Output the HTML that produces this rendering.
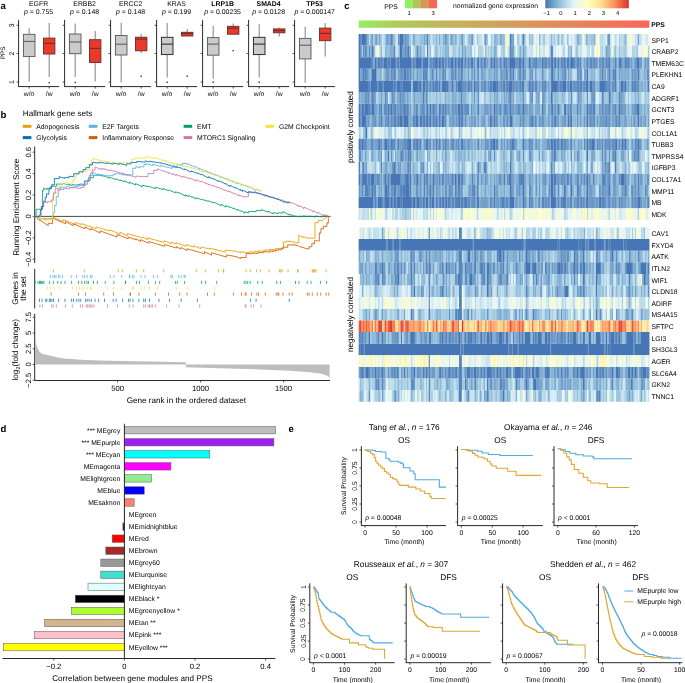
<!DOCTYPE html>
<html><head><meta charset="utf-8"><style>html,body{margin:0;padding:0;background:#fff;width:685px;height:683px;overflow:hidden}svg{display:block;will-change:transform}text{font-family:"Liberation Sans",sans-serif;text-rendering:geometricPrecision}</style></head><body>
<svg width="685" height="683" viewBox="0 0 685 683">
<rect width="685" height="683" fill="#fff"/>
<text x="0.40" y="8.90" font-size="9.6" text-anchor="start" font-weight="bold" fill="#000">a</text>
<text x="38.60" y="6.20" font-size="6.9" text-anchor="middle" fill="#000">EGFR</text>
<text x="38.60" y="14.0" font-size="6.9" text-anchor="middle" fill="#000"><tspan font-style="italic">p</tspan> = 0.755</text>
<line x1="18.60" y1="19.80" x2="18.60" y2="86.60" stroke="#2a2a2a" stroke-width="1.0"/>
<line x1="18.10" y1="86.60" x2="59.10" y2="86.60" stroke="#2a2a2a" stroke-width="1.0"/>
<line x1="16.60" y1="25.30" x2="18.60" y2="25.30" stroke="#2a2a2a" stroke-width="0.8"/>
<line x1="16.60" y1="53.50" x2="18.60" y2="53.50" stroke="#2a2a2a" stroke-width="0.8"/>
<line x1="16.60" y1="82.00" x2="18.60" y2="82.00" stroke="#2a2a2a" stroke-width="0.8"/>
<line x1="29.10" y1="86.60" x2="29.10" y2="88.60" stroke="#2a2a2a" stroke-width="0.8"/>
<line x1="49.20" y1="86.60" x2="49.20" y2="88.60" stroke="#2a2a2a" stroke-width="0.8"/>
<text x="29.10" y="95.90" font-size="6.8" text-anchor="middle" fill="#000">w/o</text>
<text x="49.20" y="95.90" font-size="6.8" text-anchor="middle" fill="#000">/w</text>
<line x1="29.20" y1="28.20" x2="29.20" y2="34.30" stroke="#929292" stroke-width="1.15"/>
<line x1="29.20" y1="56.60" x2="29.20" y2="81.80" stroke="#929292" stroke-width="1.15"/>
<rect x="23.40" y="34.30" width="11.60" height="22.30" fill="#cbcbcd" stroke="#555" stroke-width="0.9"/>
<line x1="23.40" y1="41.40" x2="35.00" y2="41.40" stroke="#555" stroke-width="1.0"/>
<line x1="49.20" y1="23.00" x2="49.20" y2="38.10" stroke="#929292" stroke-width="1.15"/>
<line x1="49.20" y1="54.00" x2="49.20" y2="77.00" stroke="#929292" stroke-width="1.15"/>
<rect x="43.50" y="38.10" width="11.40" height="15.90" fill="#e8392b" stroke="#6b2a25" stroke-width="0.9"/>
<line x1="43.50" y1="43.30" x2="54.90" y2="43.30" stroke="#6b2a25" stroke-width="1.0"/>
<rect x="48.50" y="82.00" width="1.40" height="1.40" fill="#333"/>
<text x="84.60" y="6.20" font-size="6.9" text-anchor="middle" fill="#000">ERBB2</text>
<text x="84.60" y="14.0" font-size="6.9" text-anchor="middle" fill="#000"><tspan font-style="italic">p</tspan> = 0.148</text>
<line x1="64.60" y1="19.80" x2="64.60" y2="86.60" stroke="#2a2a2a" stroke-width="1.0"/>
<line x1="64.10" y1="86.60" x2="105.10" y2="86.60" stroke="#2a2a2a" stroke-width="1.0"/>
<line x1="62.60" y1="25.30" x2="64.60" y2="25.30" stroke="#2a2a2a" stroke-width="0.8"/>
<line x1="62.60" y1="53.50" x2="64.60" y2="53.50" stroke="#2a2a2a" stroke-width="0.8"/>
<line x1="62.60" y1="82.00" x2="64.60" y2="82.00" stroke="#2a2a2a" stroke-width="0.8"/>
<line x1="75.10" y1="86.60" x2="75.10" y2="88.60" stroke="#2a2a2a" stroke-width="0.8"/>
<line x1="95.20" y1="86.60" x2="95.20" y2="88.60" stroke="#2a2a2a" stroke-width="0.8"/>
<text x="75.10" y="95.90" font-size="6.8" text-anchor="middle" fill="#000">w/o</text>
<text x="95.20" y="95.90" font-size="6.8" text-anchor="middle" fill="#000">/w</text>
<line x1="75.20" y1="23.60" x2="75.20" y2="34.00" stroke="#929292" stroke-width="1.15"/>
<line x1="75.20" y1="53.70" x2="75.20" y2="77.00" stroke="#929292" stroke-width="1.15"/>
<rect x="69.40" y="34.00" width="11.60" height="19.70" fill="#cbcbcd" stroke="#555" stroke-width="0.9"/>
<line x1="69.40" y1="42.00" x2="81.00" y2="42.00" stroke="#555" stroke-width="1.0"/>
<rect x="74.50" y="81.70" width="1.40" height="1.40" fill="#333"/>
<line x1="95.20" y1="31.00" x2="95.20" y2="39.70" stroke="#929292" stroke-width="1.15"/>
<line x1="95.20" y1="62.50" x2="95.20" y2="81.40" stroke="#929292" stroke-width="1.15"/>
<rect x="89.50" y="39.70" width="11.40" height="22.80" fill="#e8392b" stroke="#6b2a25" stroke-width="0.9"/>
<line x1="89.50" y1="48.40" x2="100.90" y2="48.40" stroke="#6b2a25" stroke-width="1.0"/>
<text x="130.60" y="6.20" font-size="6.9" text-anchor="middle" fill="#000">ERCC2</text>
<text x="130.60" y="14.0" font-size="6.9" text-anchor="middle" fill="#000"><tspan font-style="italic">p</tspan> = 0.148</text>
<line x1="110.60" y1="19.80" x2="110.60" y2="86.60" stroke="#2a2a2a" stroke-width="1.0"/>
<line x1="110.10" y1="86.60" x2="151.10" y2="86.60" stroke="#2a2a2a" stroke-width="1.0"/>
<line x1="108.60" y1="25.30" x2="110.60" y2="25.30" stroke="#2a2a2a" stroke-width="0.8"/>
<line x1="108.60" y1="53.50" x2="110.60" y2="53.50" stroke="#2a2a2a" stroke-width="0.8"/>
<line x1="108.60" y1="82.00" x2="110.60" y2="82.00" stroke="#2a2a2a" stroke-width="0.8"/>
<line x1="121.10" y1="86.60" x2="121.10" y2="88.60" stroke="#2a2a2a" stroke-width="0.8"/>
<line x1="141.20" y1="86.60" x2="141.20" y2="88.60" stroke="#2a2a2a" stroke-width="0.8"/>
<text x="121.10" y="95.90" font-size="6.8" text-anchor="middle" fill="#000">w/o</text>
<text x="141.20" y="95.90" font-size="6.8" text-anchor="middle" fill="#000">/w</text>
<line x1="121.20" y1="22.80" x2="121.20" y2="35.50" stroke="#929292" stroke-width="1.15"/>
<line x1="121.20" y1="55.00" x2="121.20" y2="82.40" stroke="#929292" stroke-width="1.15"/>
<rect x="115.40" y="35.50" width="11.60" height="19.50" fill="#cbcbcd" stroke="#555" stroke-width="0.9"/>
<line x1="115.40" y1="44.20" x2="127.00" y2="44.20" stroke="#555" stroke-width="1.0"/>
<line x1="141.20" y1="34.00" x2="141.20" y2="37.20" stroke="#929292" stroke-width="1.15"/>
<line x1="141.20" y1="50.80" x2="141.20" y2="53.30" stroke="#929292" stroke-width="1.15"/>
<rect x="135.50" y="37.20" width="11.40" height="13.60" fill="#e8392b" stroke="#6b2a25" stroke-width="0.9"/>
<line x1="135.50" y1="39.10" x2="146.90" y2="39.10" stroke="#6b2a25" stroke-width="1.0"/>
<rect x="140.50" y="75.60" width="1.40" height="1.40" fill="#333"/>
<text x="176.60" y="6.20" font-size="6.9" text-anchor="middle" fill="#000">KRAS</text>
<text x="176.60" y="14.0" font-size="6.9" text-anchor="middle" fill="#000"><tspan font-style="italic">p</tspan> = 0.199</text>
<line x1="156.60" y1="19.80" x2="156.60" y2="86.60" stroke="#2a2a2a" stroke-width="1.0"/>
<line x1="156.10" y1="86.60" x2="197.10" y2="86.60" stroke="#2a2a2a" stroke-width="1.0"/>
<line x1="154.60" y1="25.30" x2="156.60" y2="25.30" stroke="#2a2a2a" stroke-width="0.8"/>
<line x1="154.60" y1="53.50" x2="156.60" y2="53.50" stroke="#2a2a2a" stroke-width="0.8"/>
<line x1="154.60" y1="82.00" x2="156.60" y2="82.00" stroke="#2a2a2a" stroke-width="0.8"/>
<line x1="167.10" y1="86.60" x2="167.10" y2="88.60" stroke="#2a2a2a" stroke-width="0.8"/>
<line x1="187.20" y1="86.60" x2="187.20" y2="88.60" stroke="#2a2a2a" stroke-width="0.8"/>
<text x="167.10" y="95.90" font-size="6.8" text-anchor="middle" fill="#000">w/o</text>
<text x="187.20" y="95.90" font-size="6.8" text-anchor="middle" fill="#000">/w</text>
<line x1="167.20" y1="23.00" x2="167.20" y2="37.30" stroke="#929292" stroke-width="1.15"/>
<line x1="167.20" y1="54.60" x2="167.20" y2="77.50" stroke="#929292" stroke-width="1.15"/>
<rect x="161.40" y="37.30" width="11.60" height="17.30" fill="#cbcbcd" stroke="#1e1e1e" stroke-width="0.9"/>
<line x1="161.40" y1="44.10" x2="173.00" y2="44.10" stroke="#1e1e1e" stroke-width="1.0"/>
<rect x="166.50" y="81.50" width="1.40" height="1.40" fill="#333"/>
<line x1="187.20" y1="28.90" x2="187.20" y2="32.30" stroke="#929292" stroke-width="1.15"/>
<line x1="187.20" y1="36.00" x2="187.20" y2="36.00" stroke="#929292" stroke-width="1.15"/>
<rect x="181.50" y="32.30" width="11.40" height="3.70" fill="#e8392b" stroke="#6b2a25" stroke-width="0.9"/>
<line x1="181.50" y1="33.60" x2="192.90" y2="33.60" stroke="#6b2a25" stroke-width="1.0"/>
<rect x="186.50" y="75.50" width="1.40" height="1.40" fill="#333"/>
<text x="222.60" y="6.20" font-size="6.9" text-anchor="middle" font-weight="bold" fill="#000">LRP1B</text>
<text x="222.60" y="14.0" font-size="6.9" text-anchor="middle" fill="#000"><tspan font-style="italic">p</tspan> = 0.00235</text>
<line x1="202.60" y1="19.80" x2="202.60" y2="86.60" stroke="#2a2a2a" stroke-width="1.0"/>
<line x1="202.10" y1="86.60" x2="243.10" y2="86.60" stroke="#2a2a2a" stroke-width="1.0"/>
<line x1="200.60" y1="25.30" x2="202.60" y2="25.30" stroke="#2a2a2a" stroke-width="0.8"/>
<line x1="200.60" y1="53.50" x2="202.60" y2="53.50" stroke="#2a2a2a" stroke-width="0.8"/>
<line x1="200.60" y1="82.00" x2="202.60" y2="82.00" stroke="#2a2a2a" stroke-width="0.8"/>
<line x1="213.10" y1="86.60" x2="213.10" y2="88.60" stroke="#2a2a2a" stroke-width="0.8"/>
<line x1="233.20" y1="86.60" x2="233.20" y2="88.60" stroke="#2a2a2a" stroke-width="0.8"/>
<text x="213.10" y="95.90" font-size="6.8" text-anchor="middle" fill="#000">w/o</text>
<text x="233.20" y="95.90" font-size="6.8" text-anchor="middle" fill="#000">/w</text>
<line x1="213.20" y1="25.70" x2="213.20" y2="37.60" stroke="#929292" stroke-width="1.15"/>
<line x1="213.20" y1="55.20" x2="213.20" y2="78.80" stroke="#929292" stroke-width="1.15"/>
<rect x="207.40" y="37.60" width="11.60" height="17.60" fill="#cbcbcd" stroke="#555" stroke-width="0.9"/>
<line x1="207.40" y1="44.10" x2="219.00" y2="44.10" stroke="#555" stroke-width="1.0"/>
<rect x="212.50" y="81.50" width="1.40" height="1.40" fill="#333"/>
<line x1="233.20" y1="23.60" x2="233.20" y2="26.30" stroke="#929292" stroke-width="1.15"/>
<line x1="233.20" y1="34.20" x2="233.20" y2="34.20" stroke="#929292" stroke-width="1.15"/>
<rect x="227.50" y="26.30" width="11.40" height="7.90" fill="#e8392b" stroke="#6b2a25" stroke-width="0.9"/>
<line x1="227.50" y1="28.20" x2="238.90" y2="28.20" stroke="#6b2a25" stroke-width="1.0"/>
<rect x="232.50" y="50.00" width="1.40" height="1.40" fill="#333"/>
<text x="268.60" y="6.20" font-size="6.9" text-anchor="middle" font-weight="bold" fill="#000">SMAD4</text>
<text x="268.60" y="14.0" font-size="6.9" text-anchor="middle" fill="#000"><tspan font-style="italic">p</tspan> = 0.0128</text>
<line x1="248.60" y1="19.80" x2="248.60" y2="86.60" stroke="#2a2a2a" stroke-width="1.0"/>
<line x1="248.10" y1="86.60" x2="289.10" y2="86.60" stroke="#2a2a2a" stroke-width="1.0"/>
<line x1="246.60" y1="25.30" x2="248.60" y2="25.30" stroke="#2a2a2a" stroke-width="0.8"/>
<line x1="246.60" y1="53.50" x2="248.60" y2="53.50" stroke="#2a2a2a" stroke-width="0.8"/>
<line x1="246.60" y1="82.00" x2="248.60" y2="82.00" stroke="#2a2a2a" stroke-width="0.8"/>
<line x1="259.10" y1="86.60" x2="259.10" y2="88.60" stroke="#2a2a2a" stroke-width="0.8"/>
<line x1="279.20" y1="86.60" x2="279.20" y2="88.60" stroke="#2a2a2a" stroke-width="0.8"/>
<text x="259.10" y="95.90" font-size="6.8" text-anchor="middle" fill="#000">w/o</text>
<text x="279.20" y="95.90" font-size="6.8" text-anchor="middle" fill="#000">/w</text>
<line x1="259.20" y1="24.20" x2="259.20" y2="37.30" stroke="#929292" stroke-width="1.15"/>
<line x1="259.20" y1="54.60" x2="259.20" y2="77.50" stroke="#929292" stroke-width="1.15"/>
<rect x="253.40" y="37.30" width="11.60" height="17.30" fill="#cbcbcd" stroke="#1e1e1e" stroke-width="0.9"/>
<line x1="253.40" y1="44.10" x2="265.00" y2="44.10" stroke="#1e1e1e" stroke-width="1.0"/>
<rect x="258.50" y="81.50" width="1.40" height="1.40" fill="#333"/>
<line x1="279.20" y1="27.60" x2="279.20" y2="28.90" stroke="#929292" stroke-width="1.15"/>
<line x1="279.20" y1="32.80" x2="279.20" y2="36.80" stroke="#929292" stroke-width="1.15"/>
<rect x="273.50" y="28.90" width="11.40" height="3.90" fill="#e8392b" stroke="#6b2a25" stroke-width="0.9"/>
<line x1="273.50" y1="30.70" x2="284.90" y2="30.70" stroke="#6b2a25" stroke-width="1.0"/>
<text x="314.60" y="6.20" font-size="6.9" text-anchor="middle" font-weight="bold" fill="#000">TP53</text>
<text x="314.60" y="14.0" font-size="6.9" text-anchor="middle" fill="#000"><tspan font-style="italic">p</tspan> = 0.000147</text>
<line x1="294.60" y1="19.80" x2="294.60" y2="86.60" stroke="#2a2a2a" stroke-width="1.0"/>
<line x1="294.10" y1="86.60" x2="335.10" y2="86.60" stroke="#2a2a2a" stroke-width="1.0"/>
<line x1="292.60" y1="25.30" x2="294.60" y2="25.30" stroke="#2a2a2a" stroke-width="0.8"/>
<line x1="292.60" y1="53.50" x2="294.60" y2="53.50" stroke="#2a2a2a" stroke-width="0.8"/>
<line x1="292.60" y1="82.00" x2="294.60" y2="82.00" stroke="#2a2a2a" stroke-width="0.8"/>
<line x1="305.10" y1="86.60" x2="305.10" y2="88.60" stroke="#2a2a2a" stroke-width="0.8"/>
<line x1="325.20" y1="86.60" x2="325.20" y2="88.60" stroke="#2a2a2a" stroke-width="0.8"/>
<text x="305.10" y="95.90" font-size="6.8" text-anchor="middle" fill="#000">w/o</text>
<text x="325.20" y="95.90" font-size="6.8" text-anchor="middle" fill="#000">/w</text>
<line x1="305.20" y1="26.80" x2="305.20" y2="38.40" stroke="#929292" stroke-width="1.15"/>
<line x1="305.20" y1="58.90" x2="305.20" y2="82.80" stroke="#929292" stroke-width="1.15"/>
<rect x="299.40" y="38.40" width="11.60" height="20.50" fill="#cbcbcd" stroke="#555" stroke-width="0.9"/>
<line x1="299.40" y1="45.20" x2="311.00" y2="45.20" stroke="#555" stroke-width="1.0"/>
<line x1="325.20" y1="23.10" x2="325.20" y2="28.10" stroke="#929292" stroke-width="1.15"/>
<line x1="325.20" y1="40.70" x2="325.20" y2="56.50" stroke="#929292" stroke-width="1.15"/>
<rect x="319.50" y="28.10" width="11.40" height="12.60" fill="#e8392b" stroke="#6b2a25" stroke-width="0.9"/>
<line x1="319.50" y1="33.40" x2="330.90" y2="33.40" stroke="#6b2a25" stroke-width="1.0"/>
<text x="13.90" y="25.30" font-size="6.8" text-anchor="middle" fill="#000" transform="rotate(-90 13.9 25.3)" dominant-baseline="auto">3</text>
<text x="13.90" y="53.50" font-size="6.8" text-anchor="middle" fill="#000" transform="rotate(-90 13.9 53.5)" dominant-baseline="auto">2</text>
<text x="13.90" y="82.00" font-size="6.8" text-anchor="middle" fill="#000" transform="rotate(-90 13.9 82.0)" dominant-baseline="auto">1</text>
<text x="5.40" y="52.80" font-size="6.4" text-anchor="middle" fill="#000" transform="rotate(-90 5.4 52.8)">PPS</text>
<text x="0.40" y="117.60" font-size="9.6" text-anchor="start" font-weight="bold" fill="#000">b</text>
<text x="22.80" y="115.80" font-size="8.15" text-anchor="start" fill="#000">Hallmark gene sets</text>
<rect x="22.80" y="124.80" width="8.60" height="3.00" fill="#E69F00"/>
<text x="36.30" y="128.60" font-size="6.8" text-anchor="start" fill="#000">Adopogenesis</text>
<rect x="88.80" y="124.80" width="8.60" height="3.00" fill="#56B4E9"/>
<text x="102.30" y="128.60" font-size="6.8" text-anchor="start" fill="#000">E2F Targets</text>
<rect x="183.60" y="124.80" width="8.60" height="3.00" fill="#009E73"/>
<text x="197.10" y="128.60" font-size="6.8" text-anchor="start" fill="#000">EMT</text>
<rect x="265.50" y="124.80" width="8.60" height="3.00" fill="#F0E442"/>
<text x="279.00" y="128.60" font-size="6.8" text-anchor="start" fill="#000">G2M Checkpoint</text>
<rect x="22.80" y="136.10" width="8.60" height="3.00" fill="#0072B2"/>
<text x="36.30" y="139.90" font-size="6.8" text-anchor="start" fill="#000">Glycolysis</text>
<rect x="88.80" y="136.10" width="8.60" height="3.00" fill="#D55E00"/>
<text x="102.30" y="139.90" font-size="6.8" text-anchor="start" fill="#000">Inflammatory Response</text>
<rect x="183.60" y="136.10" width="8.60" height="3.00" fill="#CC79A7"/>
<text x="197.10" y="139.90" font-size="6.8" text-anchor="start" fill="#000">MTORC1 Signaling</text>
<line x1="34.70" y1="146.50" x2="34.70" y2="263.00" stroke="#2a2a2a" stroke-width="1.0"/>
<line x1="32.70" y1="152.20" x2="34.70" y2="152.20" stroke="#2a2a2a" stroke-width="0.8"/>
<text x="31.20" y="152.20" font-size="7.6" text-anchor="middle" fill="#000" transform="rotate(-90 31.2 152.2)">0.6</text>
<line x1="32.70" y1="173.60" x2="34.70" y2="173.60" stroke="#2a2a2a" stroke-width="0.8"/>
<text x="31.20" y="173.60" font-size="7.6" text-anchor="middle" fill="#000" transform="rotate(-90 31.2 173.6)">0.4</text>
<line x1="32.70" y1="195.00" x2="34.70" y2="195.00" stroke="#2a2a2a" stroke-width="0.8"/>
<text x="31.20" y="195.00" font-size="7.6" text-anchor="middle" fill="#000" transform="rotate(-90 31.2 195.0)">0.2</text>
<line x1="32.70" y1="216.40" x2="34.70" y2="216.40" stroke="#2a2a2a" stroke-width="0.8"/>
<text x="31.20" y="216.40" font-size="7.6" text-anchor="middle" fill="#000" transform="rotate(-90 31.2 216.4)">0</text>
<line x1="32.70" y1="237.80" x2="34.70" y2="237.80" stroke="#2a2a2a" stroke-width="0.8"/>
<text x="31.20" y="237.80" font-size="7.6" text-anchor="middle" fill="#000" transform="rotate(-90 31.2 237.8)">−0.2</text>
<line x1="32.70" y1="259.20" x2="34.70" y2="259.20" stroke="#2a2a2a" stroke-width="0.8"/>
<text x="31.20" y="259.20" font-size="7.6" text-anchor="middle" fill="#000" transform="rotate(-90 31.2 259.2)">−0.4</text>
<text x="19.00" y="207.30" font-size="8.15" text-anchor="middle" fill="#000" transform="rotate(-90 19.0 207.3)">Running Enrichment Score</text>
<line x1="34.70" y1="216.40" x2="330.50" y2="216.40" stroke="#333" stroke-width="0.9"/>
<polyline points="34.80,216.40 40.05,220.96 40.05,218.60 52.38,218.60 52.38,217.20 63.25,221.31 63.25,219.60 75.78,224.66 75.78,222.40 81.21,224.66 81.21,223.62 96.09,228.64 96.09,226.95 110.02,230.94 110.02,229.94 120.01,234.21 120.01,232.05 127.22,236.10 127.22,233.58 143.06,237.99 143.06,236.94 147.66,239.78 147.66,237.92 163.98,242.35 163.98,240.74 171.24,243.65 171.24,241.97 176.03,244.14 176.03,242.79 186.21,246.31 186.21,244.51 193.69,247.15 193.69,245.78 200.98,248.67 200.98,246.93 209.43,249.09 209.43,248.06 225.30,252.06 225.30,250.17 236.00,251.32 241.08,252.74 241.08,251.77 249.04,252.72 249.04,251.86 254.36,252.26 254.36,251.26 257.75,251.79 257.75,250.88 263.80,251.38 263.80,250.13 266.58,250.38 266.58,249.72 269.35,250.58 269.35,249.31 275.61,249.80 275.61,248.38 283.45,248.73 283.45,241.75 286.45,242.06 286.45,241.10 288.91,241.51 288.91,240.98 292.50,241.92 292.50,241.58 297.37,243.22 297.37,242.39 298.78,242.75 298.78,235.15 303.39,237.67 303.39,236.58 307.78,238.56 307.78,237.93 314.98,238.37 314.98,222.47 318.21,222.66 318.21,220.02 322.32,220.75 322.32,220.36 327.60,216.20" fill="none" stroke="#E69F00" stroke-width="0.85" stroke-linejoin="miter"/>
<polyline points="34.80,216.40 48.20,225.66 48.20,223.15 52.53,223.58 52.53,218.11 65.47,223.68 65.47,221.61 73.39,225.70 73.39,223.73 85.00,228.78 85.00,226.85 91.08,230.16 91.08,228.48 100.05,232.99 100.05,230.83 116.99,237.08 116.99,234.56 128.19,238.73 128.19,237.02 135.86,239.77 135.86,238.71 140.46,241.47 140.46,239.72 148.78,243.16 148.78,241.55 164.67,246.35 164.67,244.51 176.34,248.06 176.34,246.68 181.00,249.07 181.00,247.55 187.14,250.51 187.14,248.69 204.54,253.76 204.54,251.68 211.45,255.12 211.45,252.69 226.63,257.08 226.63,254.91 236.00,256.58 240.83,258.62 240.83,257.53 246.16,257.63 246.16,253.58 250.73,253.76 250.73,253.13 257.92,253.54 257.92,252.41 263.85,252.70 263.85,251.73 269.93,252.00 269.93,250.83 273.11,251.74 273.11,250.35 275.69,251.26 275.69,249.97 278.35,250.65 278.35,249.52 281.71,249.96 281.71,247.85 283.58,248.31 283.58,246.91 287.73,247.41 287.73,244.84 293.91,245.11 293.91,244.21 296.55,245.81 296.55,245.13 301.67,247.41 301.67,246.91 307.16,249.09 307.16,248.73 309.07,248.99 309.07,246.59 311.81,246.88 311.81,243.50 314.45,243.89 314.45,240.65 319.33,241.02 319.33,232.80 320.88,233.18 320.88,228.72 323.42,228.92 323.42,226.16 326.91,226.58 326.91,222.72 328.32,223.15 328.32,217.29 328.60,216.20" fill="none" stroke="#D55E00" stroke-width="0.85" stroke-linejoin="miter"/>
<polyline points="34.80,216.40 36.10,216.65 36.10,209.20 42.53,209.33 42.53,190.19 43.83,190.39 43.83,187.86 47.04,189.76 47.04,188.27 51.60,188.56 51.60,186.00 56.36,186.35 56.36,184.03 62.67,184.20 62.67,183.28 69.55,185.18 69.55,184.07 71.99,185.87 71.99,184.66 77.31,185.09 77.31,184.43 79.65,185.32 79.65,183.98 84.48,184.43 84.48,180.86 88.75,181.11 88.75,177.34 93.41,177.81 93.41,175.18 99.84,175.30 99.84,174.88 102.64,176.17 102.64,175.61 109.96,178.19 109.96,177.36 115.48,179.39 115.48,178.73 120.31,180.71 120.31,179.95 124.39,181.78 124.39,180.78 129.77,183.49 129.77,182.10 135.55,184.97 135.55,183.55 142.26,186.73 142.26,185.24 148.26,186.65 148.26,186.16 155.50,188.69 155.50,187.23 162.99,189.63 162.99,188.65 168.94,190.69 168.94,190.13 175.53,192.77 175.53,191.78 179.15,193.14 179.15,192.76 185.65,196.20 185.65,194.71 188.13,196.71 188.13,195.45 192.30,197.18 192.30,196.70 195.86,198.98 195.86,197.76 202.46,199.91 202.46,199.56 207.95,201.16 207.95,200.81 214.02,202.88 214.02,202.18 220.98,205.65 220.98,204.17 225.61,207.12 225.61,205.62 229.21,207.15 229.21,206.75 234.33,208.80 234.33,208.46 237.30,210.26 237.30,209.47 242.40,211.68 242.40,211.19 244.58,213.23 244.58,211.89 248.67,212.78 248.67,211.33 256.18,211.61 256.18,210.30 261.48,210.64 261.48,209.57 267.82,212.07 267.82,211.10 273.18,213.99 273.18,212.56 277.94,213.62 277.94,212.80 283.01,213.02 283.01,211.61 289.78,215.14 289.78,214.21 294.43,216.22 294.43,215.90 299.59,216.94 299.59,215.95 302.20,217.01 302.20,215.97 308.76,216.40 308.76,216.03 315.30,216.95 315.30,216.09 322.16,216.87 322.16,216.15 328.20,216.20" fill="none" stroke="#009E73" stroke-width="0.85" stroke-linejoin="miter"/>
<polyline points="34.80,216.40 38.07,217.78 38.07,217.35 42.19,219.02 42.19,218.54 44.71,219.82 44.71,219.04 52.01,219.45 52.01,215.58 53.35,215.79 53.35,212.32 54.65,212.51 54.65,205.26 56.22,205.68 56.22,196.56 58.34,196.78 58.34,189.92 60.25,190.36 60.25,186.96 66.81,187.31 66.81,186.52 72.76,187.76 72.76,186.85 75.82,186.98 75.82,186.11 78.41,186.89 78.41,185.47 85.16,185.69 85.16,181.18 89.35,181.63 89.35,175.20 92.43,175.47 92.43,171.86 97.00,174.58 97.00,173.77 100.04,175.06 100.04,174.39 106.73,175.65 106.73,175.30 109.36,176.56 109.36,175.51 113.42,175.79 113.42,174.02 116.01,174.38 116.01,172.88 119.41,174.14 119.41,173.35 122.85,175.24 122.85,174.18 126.34,175.30 126.34,174.57 132.81,174.90 132.81,168.23 135.80,168.36 135.80,166.35 139.30,167.97 139.30,166.75 143.94,166.98 143.94,164.43 146.55,164.55 146.55,163.47 152.96,165.62 152.96,164.25 160.90,166.51 160.90,165.33 168.15,167.52 168.15,167.19 171.78,168.61 171.78,167.15 177.13,167.63 177.13,164.71 182.42,164.92 182.42,163.14 185.45,163.66 185.45,162.82 188.04,164.58 188.04,163.82 194.74,167.08 194.74,166.38 196.70,167.49 196.70,167.13 199.45,169.43 199.45,168.19 203.16,170.31 203.16,169.66 205.54,172.08 205.54,170.61 209.52,172.74 209.52,172.19 211.71,173.43 211.71,173.07 214.44,175.26 214.44,174.15 217.12,175.48 217.12,175.13 221.53,177.34 221.53,176.74 228.48,179.72 228.48,179.27 233.08,182.18 233.08,180.95 237.07,183.89 237.07,182.41 241.41,184.58 241.41,183.99 245.42,185.79 245.42,185.44 249.52,187.45 249.52,186.85 256.02,190.38 256.02,189.09 260.52,190.97 260.52,190.63 261.30,190.90" fill="none" stroke="#56B4E9" stroke-width="0.85" stroke-linejoin="miter"/>
<polyline points="34.80,216.40 40.11,219.14 40.11,217.95 46.33,220.80 46.33,219.37 52.63,219.48 52.63,196.57 53.93,196.93 53.93,192.40 57.70,192.69 57.70,186.33 59.41,186.66 59.41,183.67 61.70,183.86 61.70,183.30 65.53,184.19 65.53,182.79 72.41,183.21 72.41,180.69 74.21,180.85 74.21,178.00 75.51,178.18 75.51,175.65 77.11,176.10 77.11,173.19 79.83,173.51 79.83,171.24 85.57,171.72 85.57,169.75 90.15,170.21 90.15,165.87 91.45,166.03 91.45,160.42 92.75,160.64 92.75,158.32 97.96,160.03 97.96,159.73 104.05,161.46 104.05,160.75 108.03,162.70 108.03,161.42 112.99,162.74 112.99,162.06 118.22,163.65 118.22,162.50 121.09,163.97 121.09,162.50 123.74,163.70 123.74,162.50 131.73,162.92 131.73,159.14 135.21,159.24 135.21,157.97 137.83,158.25 137.83,157.73 145.94,158.13 145.94,156.40 154.48,158.90 154.48,157.47 158.52,159.15 158.52,158.42 163.33,161.04 163.33,159.81 165.93,161.75 165.93,160.56 172.17,163.69 172.17,162.36 174.40,164.43 174.40,163.00 176.91,164.38 176.91,163.68 182.31,166.41 182.31,165.01 186.24,167.39 186.24,165.99 191.13,168.12 191.13,167.45 194.80,169.07 194.80,168.55 197.23,169.76 197.23,169.28 202.86,172.47 202.86,170.97 205.72,172.19 205.72,171.83 212.90,174.95 212.90,174.01 216.91,176.00 216.91,175.42 221.88,178.46 221.88,177.16 226.14,179.47 226.14,178.66 228.37,180.85 228.37,179.45 230.49,181.09 230.49,180.19 236.69,182.83 236.69,182.38 242.36,185.81 242.36,184.37 247.50,187.41 247.50,186.16 250.01,187.84 250.01,187.02 252.73,189.27 252.73,187.96 256.20,189.99 256.20,189.15 261.30,190.90" fill="none" stroke="#F0E442" stroke-width="0.85" stroke-linejoin="miter"/>
<polyline points="34.80,216.40 41.29,216.69 41.29,206.41 42.59,206.78 42.59,200.54 47.41,202.87 47.41,201.66 51.27,201.87 51.27,199.96 53.45,200.22 53.45,193.06 55.30,193.24 55.30,187.87 59.52,189.40 59.52,188.14 63.37,189.87 63.37,188.60 69.71,188.91 69.71,187.60 73.60,187.96 73.60,187.55 80.78,188.50 80.78,187.24 84.18,187.41 84.18,183.91 87.48,184.39 87.48,179.76 90.63,180.12 90.63,172.98 92.31,173.44 92.31,169.76 94.95,170.14 94.95,167.03 101.76,169.66 101.76,168.19 104.12,169.40 104.12,168.67 109.51,170.62 109.51,169.95 114.82,171.43 114.82,171.02 122.05,173.58 122.05,172.65 124.48,174.78 124.48,173.68 127.93,175.43 127.93,174.89 132.37,176.30 132.37,175.84 136.04,177.41 136.04,176.08 142.73,176.69 142.73,176.37 147.95,176.61 147.95,173.46 153.75,173.68 153.75,170.23 157.18,170.38 157.18,168.90 164.48,171.37 164.48,171.01 168.75,173.44 168.75,172.24 172.88,174.91 172.88,173.43 176.20,175.87 176.20,174.40 182.94,177.31 182.94,176.21 189.78,178.85 189.78,178.01 196.31,180.98 196.31,179.73 201.15,181.98 201.15,181.12 206.64,183.90 206.64,183.11 209.02,185.16 209.02,183.97 212.29,186.04 212.29,185.15 218.18,187.79 218.18,187.29 220.23,188.48 220.23,188.03 225.14,190.54 225.14,189.81 228.37,191.82 228.37,190.98 234.98,193.98 234.98,193.37 238.99,196.18 238.99,194.82 244.02,197.26 244.02,196.64 248.35,196.80 248.35,192.43 252.62,192.83 252.62,192.16 259.47,193.94 259.47,193.26 265.48,196.29 265.48,194.83 272.35,197.62 272.35,196.87 277.54,199.09 277.54,198.41 281.66,200.51 281.66,199.63 287.85,202.89 287.85,201.46 291.39,202.92 291.39,202.61 295.58,204.53 295.58,204.16 297.66,206.16 297.66,204.93 300.15,207.01 300.15,205.85 303.90,208.66 303.90,207.23 310.11,209.90 310.11,209.52 313.01,212.03 313.01,210.59 318.02,213.25 318.02,212.44 323.87,215.88 323.87,214.60 328.20,216.20" fill="none" stroke="#CC79A7" stroke-width="0.85" stroke-linejoin="miter"/>
<polyline points="34.80,216.40 39.06,216.76 39.06,215.07 40.36,215.31 40.36,209.67 41.66,209.78 41.66,206.41 43.65,206.55 43.65,201.78 45.22,201.93 45.22,197.17 46.52,197.65 46.52,193.75 48.93,194.25 48.93,188.95 50.23,189.16 50.23,186.94 51.78,187.16 51.78,184.58 54.40,184.91 54.40,178.45 59.16,178.77 59.16,176.58 61.54,177.61 61.54,177.23 64.69,178.57 64.69,177.45 68.90,177.79 68.90,176.25 73.71,176.67 73.71,173.63 78.86,173.96 78.86,171.67 83.08,172.06 83.08,169.48 85.92,169.62 85.92,167.56 89.31,167.72 89.31,164.49 92.47,164.86 92.47,162.31 99.09,163.11 99.09,162.13 106.70,163.53 106.70,162.85 113.22,164.21 113.22,163.20 119.49,164.33 119.49,163.48 126.60,165.24 126.60,163.81 131.08,163.93 131.08,162.43 136.75,162.48 136.75,161.41 145.26,162.13 145.26,160.85 149.44,161.98 149.44,161.22 155.68,162.30 155.68,161.98 160.69,163.18 160.69,162.67 163.40,163.73 163.40,163.36 169.64,165.39 169.64,164.93 173.06,166.56 173.06,165.80 179.85,167.91 179.85,167.51 184.36,169.79 184.36,168.83 190.98,172.15 190.98,170.86 197.49,173.50 197.49,172.86 201.67,174.88 201.67,174.15 208.29,178.03 208.29,176.58 210.93,178.13 210.93,177.62 213.98,179.41 213.98,178.83 218.27,181.53 218.27,180.53 221.46,182.10 221.46,181.79 225.43,184.11 225.43,183.36 230.13,186.66 230.13,185.22 235.43,188.24 235.43,187.32 240.38,190.39 240.38,189.28 242.55,191.52 242.55,190.14 248.30,192.93 248.30,191.58 254.73,192.56 254.73,191.78 258.90,193.51 258.90,193.09 264.17,195.16 264.17,194.79 266.50,196.09 266.50,195.54 269.33,197.16 269.33,196.45 271.59,197.48 271.59,197.17 274.36,198.49 274.36,198.07 278.23,199.64 278.23,199.31 284.73,202.44 284.73,201.41 287.49,202.90 287.49,202.29 290.00,203.10" fill="none" stroke="#0072B2" stroke-width="0.85" stroke-linejoin="miter"/>
<line x1="34.70" y1="268.90" x2="34.70" y2="308.40" stroke="#2a2a2a" stroke-width="1.0"/>
<text x="18.10" y="288.60" font-size="8.15" text-anchor="middle" fill="#000" transform="rotate(-90 18.1 288.6)">Genes in</text>
<text x="26.50" y="288.60" font-size="8.15" text-anchor="middle" fill="#000" transform="rotate(-90 26.5 288.6)">the set</text>
<path d="M53.4 269.2v3.2 M84.3 269.2v3.2 M118.3 269.2v3.2 M122.3 269.2v3.2 M136.4 269.2v3.2 M143.7 269.2v3.2 M163.7 269.2v3.2 M196.2 269.2v3.2 M205.3 269.2v3.2 M218.4 269.2v3.2 M223.5 269.2v3.2 M223.7 269.2v3.2 M246.0 269.2v3.2 M250.2 269.2v3.2 M256.6 269.2v3.2 M260.3 269.2v3.2 M269.0 269.2v3.2 M279.6 269.2v3.2 M280.8 269.2v3.2 M282.1 269.2v3.2 M288.0 269.2v3.2 M297.6 269.2v3.2 M298.1 269.2v3.2 M312.3 269.2v3.2 M313.2 269.2v3.2 M314.0 269.2v3.2 M314.8 269.2v3.2 M316.0 269.2v3.2 M326.1 269.2v3.2" stroke="#E69F00" stroke-width="0.75" fill="none"/>
<path d="M50.4 274.9v3.2 M53.1 274.9v3.2 M54.5 274.9v3.2 M56.0 274.9v3.2 M58.5 274.9v3.2 M59.9 274.9v3.2 M62.4 274.9v3.2 M71.2 274.9v3.2 M76.4 274.9v3.2 M82.8 274.9v3.2 M84.7 274.9v3.2 M87.2 274.9v3.2 M90.6 274.9v3.2 M92.0 274.9v3.2 M110.3 274.9v3.2 M113.9 274.9v3.2 M121.7 274.9v3.2 M129.3 274.9v3.2 M129.7 274.9v3.2 M132.3 274.9v3.2 M133.8 274.9v3.2 M141.1 274.9v3.2 M145.1 274.9v3.2 M153.5 274.9v3.2 M157.4 274.9v3.2 M171.0 274.9v3.2 M172.4 274.9v3.2 M178.7 274.9v3.2 M181.2 274.9v3.2 M184.1 274.9v3.2 M185.1 274.9v3.2" stroke="#56B4E9" stroke-width="0.75" fill="none"/>
<path d="M35.1 280.8v3.2 M38.0 280.8v3.2 M39.5 280.8v3.2 M40.5 280.8v3.2 M41.7 280.8v3.2 M42.8 280.8v3.2 M43.9 280.8v3.2 M49.7 280.8v3.2 M53.4 280.8v3.2 M57.7 280.8v3.2 M61.0 280.8v3.2 M65.0 280.8v3.2 M71.6 280.8v3.2 M78.5 280.8v3.2 M81.8 280.8v3.2 M84.7 280.8v3.2 M86.9 280.8v3.2 M88.4 280.8v3.2 M93.5 280.8v3.2 M97.4 280.8v3.2 M105.2 280.8v3.2 M113.9 280.8v3.2 M125.4 280.8v3.2 M125.6 280.8v3.2 M136.4 280.8v3.2 M139.6 280.8v3.2 M148.4 280.8v3.2 M155.4 280.8v3.2 M159.7 280.8v3.2 M175.4 280.8v3.2 M177.3 280.8v3.2 M184.6 280.8v3.2 M201.6 280.8v3.2 M205.6 280.8v3.2 M216.7 280.8v3.2 M244.3 280.8v3.2 M246.0 280.8v3.2 M247.7 280.8v3.2 M250.2 280.8v3.2 M257.8 280.8v3.2 M262.3 280.8v3.2 M276.7 280.8v3.2 M280.4 280.8v3.2 M295.5 280.8v3.2 M298.9 280.8v3.2 M307.3 280.8v3.2 M311.0 280.8v3.2 M320.4 280.8v3.2 M326.6 280.8v3.2" stroke="#009E73" stroke-width="0.75" fill="none"/>
<path d="M47.5 286.6v3.2 M50.4 286.6v3.2 M54.1 286.6v3.2 M59.2 286.6v3.2 M72.3 286.6v3.2 M76.7 286.6v3.2 M79.6 286.6v3.2 M82.8 286.6v3.2 M87.7 286.6v3.2 M90.6 286.6v3.2 M91.6 286.6v3.2 M107.4 286.6v3.2 M113.5 286.6v3.2 M121.7 286.6v3.2 M132.6 286.6v3.2 M133.8 286.6v3.2 M141.1 286.6v3.2 M144.7 286.6v3.2 M149.5 286.6v3.2 M157.4 286.6v3.2 M176.4 286.6v3.2 M188.1 286.6v3.2 M214.3 286.6v3.2" stroke="#F0E442" stroke-width="0.75" fill="none"/>
<path d="M51.2 292.5v3.2 M78.5 292.5v3.2 M85.5 292.5v3.2 M103.7 292.5v3.2 M113.5 292.5v3.2 M130.0 292.5v3.2 M130.5 292.5v3.2 M138.9 292.5v3.2 M155.4 292.5v3.2 M168.5 292.5v3.2 M179.7 292.5v3.2 M187.0 292.5v3.2 M207.5 292.5v3.2 M214.3 292.5v3.2 M233.4 292.5v3.2 M241.5 292.5v3.2 M245.2 292.5v3.2 M246.0 292.5v3.2 M251.6 292.5v3.2 M256.9 292.5v3.2 M258.6 292.5v3.2 M265.3 292.5v3.2 M276.2 292.5v3.2 M277.9 292.5v3.2 M278.8 292.5v3.2 M283.0 292.5v3.2 M289.2 292.5v3.2 M292.2 292.5v3.2 M307.3 292.5v3.2 M309.0 292.5v3.2 M312.3 292.5v3.2 M317.4 292.5v3.2 M320.7 292.5v3.2 M326.1 292.5v3.2 M328.8 292.5v3.2" stroke="#D55E00" stroke-width="0.75" fill="none"/>
<path d="M39.5 298.7v3.2 M42.0 298.7v3.2 M45.8 298.7v3.2 M46.8 298.7v3.2 M49.3 298.7v3.2 M50.4 298.7v3.2 M51.9 298.7v3.2 M53.6 298.7v3.2 M58.5 298.7v3.2 M65.0 298.7v3.2 M71.6 298.7v3.2 M73.5 298.7v3.2 M76.7 298.7v3.2 M78.9 298.7v3.2 M80.8 298.7v3.2 M85.5 298.7v3.2 M87.2 298.7v3.2 M89.1 298.7v3.2 M91.3 298.7v3.2 M95.0 298.7v3.2 M98.6 298.7v3.2 M104.5 298.7v3.2 M113.2 298.7v3.2 M116.1 298.7v3.2 M122.7 298.7v3.2 M128.6 298.7v3.2 M130.1 298.7v3.2 M133.0 298.7v3.2 M138.9 298.7v3.2 M143.7 298.7v3.2 M145.4 298.7v3.2 M149.5 298.7v3.2 M158.9 298.7v3.2 M169.5 298.7v3.2 M181.2 298.7v3.2 M197.3 298.7v3.2 M250.6 298.7v3.2 M256.1 298.7v3.2 M289.2 298.7v3.2" stroke="#0072B2" stroke-width="0.75" fill="none"/>
<path d="M39.9 304.4v3.2 M42.4 304.4v3.2 M51.6 304.4v3.2 M53.4 304.4v3.2 M56.3 304.4v3.2 M65.3 304.4v3.2 M72.3 304.4v3.2 M80.4 304.4v3.2 M82.6 304.4v3.2 M86.2 304.4v3.2 M87.7 304.4v3.2 M89.1 304.4v3.2 M90.6 304.4v3.2 M92.0 304.4v3.2 M93.9 304.4v3.2 M107.4 304.4v3.2 M117.6 304.4v3.2 M129.4 304.4v3.2 M133.0 304.4v3.2 M143.7 304.4v3.2 M145.4 304.4v3.2 M148.1 304.4v3.2 M149.5 304.4v3.2 M151.0 304.4v3.2 M152.4 304.4v3.2 M155.4 304.4v3.2 M166.6 304.4v3.2 M179.0 304.4v3.2 M199.7 304.4v3.2 M245.2 304.4v3.2 M246.0 304.4v3.2 M251.1 304.4v3.2 M253.6 304.4v3.2 M261.1 304.4v3.2" stroke="#CC79A7" stroke-width="0.75" fill="none"/>
<line x1="34.70" y1="313.70" x2="34.70" y2="380.50" stroke="#2a2a2a" stroke-width="1.0"/>
<line x1="34.70" y1="380.50" x2="330.00" y2="380.50" stroke="#2a2a2a" stroke-width="1.0"/>
<line x1="32.70" y1="317.25" x2="34.70" y2="317.25" stroke="#2a2a2a" stroke-width="0.8"/>
<text x="31.20" y="317.25" font-size="7.6" text-anchor="middle" fill="#000" transform="rotate(-90 31.2 317.25)">7.5</text>
<line x1="32.70" y1="333.00" x2="34.70" y2="333.00" stroke="#2a2a2a" stroke-width="0.8"/>
<text x="31.20" y="333.00" font-size="7.6" text-anchor="middle" fill="#000" transform="rotate(-90 31.2 333.0)">5</text>
<line x1="32.70" y1="348.75" x2="34.70" y2="348.75" stroke="#2a2a2a" stroke-width="0.8"/>
<text x="31.20" y="348.75" font-size="7.6" text-anchor="middle" fill="#000" transform="rotate(-90 31.2 348.75)">2.5</text>
<line x1="32.70" y1="364.50" x2="34.70" y2="364.50" stroke="#2a2a2a" stroke-width="0.8"/>
<text x="31.20" y="364.50" font-size="7.6" text-anchor="middle" fill="#000" transform="rotate(-90 31.2 364.5)">0</text>
<line x1="32.70" y1="380.25" x2="34.70" y2="380.25" stroke="#2a2a2a" stroke-width="0.8"/>
<text x="31.20" y="380.25" font-size="7.6" text-anchor="middle" fill="#000" transform="rotate(-90 31.2 380.25)">−2.5</text>
<text x="18.1" y="349.8" font-size="8.15" text-anchor="middle" fill="#000" transform="rotate(-90 18.1 349.8)">log<tspan font-size="5.5" dy="1.8">2</tspan><tspan dy="-1.8">(fold change)</tspan></text>
<path d="M35.00 364.50 L35.00 335.30 L35.40 341.90 L36.50 345.20 L38.20 349.60 L39.80 352.30 L42.60 354.00 L47.00 355.10 L52.50 356.20 L58.00 357.50 L63.50 358.40 L74.50 359.20 L85.00 360.00 L100.00 360.40 L120.00 360.90 L150.00 361.60 L185.80 362.30 L185.80 364.50 L185.80 364.50 L185.80 367.20 L220.00 368.20 L260.00 369.40 L290.00 370.80 L310.00 372.30 L320.00 373.60 L326.00 375.20 L329.60 377.50 L329.60 364.50 L35.00 364.50Z" fill="#bdbdbd" stroke="none"/>
<line x1="117.60" y1="380.50" x2="117.60" y2="382.50" stroke="#2a2a2a" stroke-width="0.8"/>
<text x="117.60" y="390.90" font-size="7.7" text-anchor="middle" fill="#000">500</text>
<line x1="200.60" y1="380.50" x2="200.60" y2="382.50" stroke="#2a2a2a" stroke-width="0.8"/>
<text x="200.60" y="390.90" font-size="7.7" text-anchor="middle" fill="#000">1000</text>
<line x1="283.60" y1="380.50" x2="283.60" y2="382.50" stroke="#2a2a2a" stroke-width="0.8"/>
<text x="283.60" y="390.90" font-size="7.7" text-anchor="middle" fill="#000">1500</text>
<text x="186.30" y="402.50" font-size="8.15" text-anchor="middle" fill="#000">Gene rank in the ordered dataset</text>
<text x="344.30" y="9.40" font-size="9.6" text-anchor="start" font-weight="bold" fill="#000">c</text>
<text x="384.30" y="8.80" font-size="6.8" text-anchor="start" fill="#000">PPS</text>
<rect x="405.00" y="0.00" width="8.05" height="8.30" fill="#8ef35c"/>
<rect x="413.00" y="0.00" width="8.05" height="8.30" fill="#b3c45c"/>
<rect x="421.00" y="0.00" width="8.05" height="8.30" fill="#d69559"/>
<rect x="429.00" y="0.00" width="8.05" height="8.30" fill="#f8665a"/>
<text x="409.00" y="14.60" font-size="5.8" text-anchor="middle" fill="#000">1</text>
<text x="433.00" y="14.60" font-size="5.8" text-anchor="middle" fill="#000">3</text>
<text x="453.10" y="8.20" font-size="6.8" text-anchor="start" fill="#000">normalized gene expression</text>
<defs><linearGradient id="cb" x1="0" x2="1" y1="0" y2="0"><stop offset="0.0000" stop-color="#4575B4"/><stop offset="0.1667" stop-color="#91BFDB"/><stop offset="0.3333" stop-color="#E0F3F8"/><stop offset="0.5000" stop-color="#FFFFBF"/><stop offset="0.6667" stop-color="#FEE090"/><stop offset="0.8333" stop-color="#FC8D59"/><stop offset="1.0000" stop-color="#D73027"/></linearGradient><linearGradient id="pps" x1="0" x2="1" y1="0" y2="0"><stop offset="0" stop-color="#8ef35c"/><stop offset="0.04" stop-color="#9ee25c"/><stop offset="0.12" stop-color="#acce5c"/><stop offset="0.25" stop-color="#bcbb5c"/><stop offset="0.5" stop-color="#d2a05a"/><stop offset="0.75" stop-color="#e5845a"/><stop offset="1" stop-color="#f8665a"/></linearGradient></defs>
<rect x="545.30" y="0.00" width="83.50" height="8.30" fill="url(#cb)"/>
<text x="546.60" y="15.00" font-size="5.8" text-anchor="middle" fill="#000">−1</text>
<text x="560.82" y="15.00" font-size="5.8" text-anchor="middle" fill="#000">0</text>
<text x="575.04" y="15.00" font-size="5.8" text-anchor="middle" fill="#000">1</text>
<text x="589.26" y="15.00" font-size="5.8" text-anchor="middle" fill="#000">2</text>
<text x="603.48" y="15.00" font-size="5.8" text-anchor="middle" fill="#000">3</text>
<text x="617.70" y="15.00" font-size="5.8" text-anchor="middle" fill="#000">4</text>
<rect x="358.70" y="20.50" width="290.70" height="7.30" fill="url(#pps)"/>
<text x="651.30" y="26.60" font-size="6.8" text-anchor="start" font-weight="bold" fill="#000">PPS</text>
<text x="651.50" y="42.51" font-size="6.75" text-anchor="start" fill="#000">SPP1</text>
<text x="651.50" y="54.14" font-size="6.75" text-anchor="start" fill="#000">CRABP2</text>
<text x="651.50" y="65.77" font-size="6.75" text-anchor="start" fill="#000">TMEM63C</text>
<text x="651.50" y="77.40" font-size="6.75" text-anchor="start" fill="#000">PLEKHN1</text>
<text x="651.50" y="89.03" font-size="6.75" text-anchor="start" fill="#000">CA9</text>
<text x="651.50" y="100.67" font-size="6.75" text-anchor="start" fill="#000">ADGRF1</text>
<text x="651.50" y="112.30" font-size="6.75" text-anchor="start" fill="#000">GCNT3</text>
<text x="651.50" y="123.92" font-size="6.75" text-anchor="start" fill="#000">PTGES</text>
<text x="651.50" y="135.56" font-size="6.75" text-anchor="start" fill="#000">COL1A1</text>
<text x="651.50" y="147.19" font-size="6.75" text-anchor="start" fill="#000">TUBB3</text>
<text x="651.50" y="158.82" font-size="6.75" text-anchor="start" fill="#000">TMPRSS4</text>
<text x="651.50" y="170.45" font-size="6.75" text-anchor="start" fill="#000">IGFBP3</text>
<text x="651.50" y="182.08" font-size="6.75" text-anchor="start" fill="#000">COL17A1</text>
<text x="651.50" y="193.71" font-size="6.75" text-anchor="start" fill="#000">MMP11</text>
<text x="651.50" y="205.34" font-size="6.75" text-anchor="start" fill="#000">MB</text>
<text x="651.50" y="216.97" font-size="6.75" text-anchor="start" fill="#000">MDK</text>
<text x="651.50" y="236.02" font-size="6.75" text-anchor="start" fill="#000">CAV1</text>
<text x="651.50" y="247.65" font-size="6.75" text-anchor="start" fill="#000">FXYD4</text>
<text x="651.50" y="259.28" font-size="6.75" text-anchor="start" fill="#000">AATK</text>
<text x="651.50" y="270.91" font-size="6.75" text-anchor="start" fill="#000">ITLN2</text>
<text x="651.50" y="282.54" font-size="6.75" text-anchor="start" fill="#000">WIF1</text>
<text x="651.50" y="294.17" font-size="6.75" text-anchor="start" fill="#000">CLDN18</text>
<text x="651.50" y="305.80" font-size="6.75" text-anchor="start" fill="#000">ADIRF</text>
<text x="651.50" y="317.43" font-size="6.75" text-anchor="start" fill="#000">MS4A15</text>
<text x="651.50" y="329.06" font-size="6.75" text-anchor="start" fill="#000">SFTPC</text>
<text x="651.50" y="340.69" font-size="6.75" text-anchor="start" fill="#000">LGI3</text>
<text x="651.50" y="352.32" font-size="6.75" text-anchor="start" fill="#000">SH3GL3</text>
<text x="651.50" y="363.95" font-size="6.75" text-anchor="start" fill="#000">AGER</text>
<text x="651.50" y="375.58" font-size="6.75" text-anchor="start" fill="#000">SLC6A4</text>
<text x="651.50" y="387.21" font-size="6.75" text-anchor="start" fill="#000">GKN2</text>
<text x="651.50" y="398.84" font-size="6.75" text-anchor="start" fill="#000">TNNC1</text>
<path stroke="#4676b5" stroke-width="1.50" d="M359.4 33.90v11.63M362.3 33.90v11.63M363.8 33.90v11.63M365.2 33.90v11.63M387.0 33.90v11.63M400.1 33.90v11.63M401.6 33.90v11.63M403.0 33.90v11.63M405.9 33.90v11.63M510.6 33.90v11.63M359.4 45.53v11.63M372.5 45.53v11.63M400.1 45.53v11.63M401.6 45.53v11.63M405.9 45.53v11.63M408.8 45.53v11.63M427.7 45.53v11.63M359.4 57.16v11.63M360.9 57.16v11.63M362.3 57.16v11.63M363.8 57.16v11.63M365.2 57.16v11.63M366.7 57.16v11.63M368.1 57.16v11.63M369.6 57.16v11.63M371.1 57.16v11.63M375.4 57.16v11.63M379.8 57.16v11.63M384.1 57.16v11.63M385.6 57.16v11.63M387.0 57.16v11.63M391.4 57.16v11.63M392.9 57.16v11.63M394.3 57.16v11.63M400.1 57.16v11.63M401.6 57.16v11.63M403.0 57.16v11.63M404.5 57.16v11.63M405.9 57.16v11.63M407.4 57.16v11.63M408.8 57.16v11.63M410.3 57.16v11.63M416.1 57.16v11.63M417.6 57.16v11.63M419.0 57.16v11.63M420.5 57.16v11.63M424.8 57.16v11.63M426.3 57.16v11.63M427.7 57.16v11.63M435.0 57.16v11.63M436.5 57.16v11.63M439.4 57.16v11.63M451.0 57.16v11.63M452.5 57.16v11.63M455.4 57.16v11.63M461.2 57.16v11.63M462.6 57.16v11.63M472.8 57.16v11.63M478.6 57.16v11.63M494.6 57.16v11.63M504.8 57.16v11.63M510.6 57.16v11.63M512.0 57.16v11.63M513.5 57.16v11.63M515.0 57.16v11.63M520.8 57.16v11.63M523.7 57.16v11.63M529.5 57.16v11.63M542.6 57.16v11.63M552.7 57.16v11.63M555.6 57.16v11.63M558.6 57.16v11.63M562.9 57.16v11.63M571.6 57.16v11.63M573.1 57.16v11.63M594.9 57.16v11.63M608.0 57.16v11.63M626.9 57.16v11.63M637.0 57.16v11.63M638.5 57.16v11.63M359.4 68.79v11.63M363.8 68.79v11.63M372.5 68.79v11.63M374.0 68.79v11.63M375.4 68.79v11.63M387.0 68.79v11.63M432.1 68.79v11.63M461.2 68.79v11.63M552.7 68.79v11.63M587.6 68.79v11.63M615.2 68.79v11.63M359.4 80.42v11.63M360.9 80.42v11.63M362.3 80.42v11.63M363.8 80.42v11.63M365.2 80.42v11.63M366.7 80.42v11.63M368.1 80.42v11.63M371.1 80.42v11.63M372.5 80.42v11.63M374.0 80.42v11.63M375.4 80.42v11.63M376.9 80.42v11.63M379.8 80.42v11.63M381.2 80.42v11.63M384.1 80.42v11.63M385.6 80.42v11.63M387.0 80.42v11.63M388.5 80.42v11.63M390.0 80.42v11.63M391.4 80.42v11.63M392.9 80.42v11.63M397.2 80.42v11.63M398.7 80.42v11.63M400.1 80.42v11.63M403.0 80.42v11.63M404.5 80.42v11.63M405.9 80.42v11.63M407.4 80.42v11.63M408.8 80.42v11.63M410.3 80.42v11.63M413.2 80.42v11.63M414.7 80.42v11.63M416.1 80.42v11.63M417.6 80.42v11.63M423.4 80.42v11.63M424.8 80.42v11.63M443.7 80.42v11.63M445.2 80.42v11.63M458.3 80.42v11.63M459.7 80.42v11.63M461.2 80.42v11.63M474.3 80.42v11.63M485.9 80.42v11.63M493.1 80.42v11.63M494.6 80.42v11.63M496.1 80.42v11.63M509.1 80.42v11.63M510.6 80.42v11.63M512.0 80.42v11.63M530.9 80.42v11.63M544.0 80.42v11.63M552.7 80.42v11.63M554.2 80.42v11.63M555.6 80.42v11.63M557.1 80.42v11.63M562.9 80.42v11.63M564.4 80.42v11.63M565.8 80.42v11.63M570.2 80.42v11.63M571.6 80.42v11.63M576.0 80.42v11.63M578.9 80.42v11.63M586.2 80.42v11.63M587.6 80.42v11.63M590.5 80.42v11.63M592.0 80.42v11.63M600.7 80.42v11.63M602.2 80.42v11.63M603.6 80.42v11.63M605.1 80.42v11.63M608.0 80.42v11.63M615.2 80.42v11.63M621.1 80.42v11.63M622.5 80.42v11.63M625.4 80.42v11.63M634.1 80.42v11.63M368.1 92.05v11.63M374.0 92.05v11.63M392.9 92.05v11.63M400.1 92.05v11.63M403.0 92.05v11.63M461.2 92.05v11.63M544.0 92.05v11.63M551.3 92.05v11.63M578.9 92.05v11.63M609.4 92.05v11.63M359.4 103.68v11.63M362.3 103.68v11.63M365.2 103.68v11.63M366.7 103.68v11.63M368.1 103.68v11.63M372.5 103.68v11.63M374.0 103.68v11.63M381.2 103.68v11.63M388.5 103.68v11.63M391.4 103.68v11.63M400.1 103.68v11.63M403.0 103.68v11.63M405.9 103.68v11.63M416.1 103.68v11.63M427.7 103.68v11.63M445.2 103.68v11.63M458.3 103.68v11.63M459.7 103.68v11.63M494.6 103.68v11.63M523.7 103.68v11.63M542.6 103.68v11.63M565.8 103.68v11.63M594.9 103.68v11.63M608.0 103.68v11.63M619.6 103.68v11.63M637.0 103.68v11.63M638.5 103.68v11.63M359.4 115.31v11.63M362.3 115.31v11.63M363.8 115.31v11.63M365.2 115.31v11.63M374.0 115.31v11.63M387.0 115.31v11.63M400.1 115.31v11.63M401.6 115.31v11.63M404.5 115.31v11.63M405.9 115.31v11.63M407.4 115.31v11.63M416.1 115.31v11.63M417.6 115.31v11.63M427.7 115.31v11.63M430.6 115.31v11.63M435.0 115.31v11.63M442.3 115.31v11.63M443.7 115.31v11.63M459.7 115.31v11.63M490.2 115.31v11.63M510.6 115.31v11.63M512.0 115.31v11.63M568.7 115.31v11.63M571.6 115.31v11.63M587.6 115.31v11.63M638.5 115.31v11.63M366.7 126.94v11.63M359.4 138.57v11.63M362.3 138.57v11.63M379.8 138.57v11.63M385.6 138.57v11.63M387.0 138.57v11.63M392.9 138.57v11.63M403.0 138.57v11.63M405.9 138.57v11.63M408.8 138.57v11.63M410.3 138.57v11.63M416.1 138.57v11.63M427.7 138.57v11.63M462.6 138.57v11.63M485.9 138.57v11.63M493.1 138.57v11.63M494.6 138.57v11.63M523.7 138.57v11.63M551.3 138.57v11.63M554.2 138.57v11.63M587.6 138.57v11.63M592.0 138.57v11.63M593.4 138.57v11.63M605.1 138.57v11.63M608.0 138.57v11.63M616.7 138.57v11.63M622.5 138.57v11.63M625.4 138.57v11.63M638.5 138.57v11.63M388.5 150.20v11.63M403.0 150.20v11.63M408.8 150.20v11.63M554.2 150.20v11.63M587.6 150.20v11.63M605.1 150.20v11.63M615.2 150.20v11.63M634.1 150.20v11.63M637.0 150.20v11.63M381.2 161.83v11.63M394.3 161.83v11.63M510.6 161.83v11.63M605.1 161.83v11.63M615.2 161.83v11.63M359.4 173.46v11.63M363.8 173.46v11.63M365.2 173.46v11.63M371.1 173.46v11.63M372.5 173.46v11.63M374.0 173.46v11.63M385.6 173.46v11.63M391.4 173.46v11.63M392.9 173.46v11.63M394.3 173.46v11.63M395.8 173.46v11.63M397.2 173.46v11.63M398.7 173.46v11.63M400.1 173.46v11.63M405.9 173.46v11.63M407.4 173.46v11.63M410.3 173.46v11.63M417.6 173.46v11.63M424.8 173.46v11.63M433.6 173.46v11.63M455.4 173.46v11.63M459.7 173.46v11.63M485.9 173.46v11.63M504.8 173.46v11.63M551.3 173.46v11.63M552.7 173.46v11.63M555.6 173.46v11.63M587.6 173.46v11.63M608.0 173.46v11.63M621.1 173.46v11.63M622.5 173.46v11.63M624.0 173.46v11.63M372.5 185.09v11.63M385.6 185.09v11.63M387.0 185.09v11.63M400.1 185.09v11.63M405.9 185.09v11.63M407.4 185.09v11.63M408.8 185.09v11.63M424.8 185.09v11.63M451.0 185.09v11.63M510.6 185.09v11.63M523.7 185.09v11.63M551.3 185.09v11.63M552.7 185.09v11.63M571.6 185.09v11.63M578.9 185.09v11.63M587.6 185.09v11.63M609.4 185.09v11.63M359.4 196.72v11.63M360.9 196.72v11.63M362.3 196.72v11.63M363.8 196.72v11.63M365.2 196.72v11.63M366.7 196.72v11.63M368.1 196.72v11.63M369.6 196.72v11.63M371.1 196.72v11.63M372.5 196.72v11.63M378.3 196.72v11.63M379.8 196.72v11.63M381.2 196.72v11.63M385.6 196.72v11.63M387.0 196.72v11.63M388.5 196.72v11.63M391.4 196.72v11.63M394.3 196.72v11.63M397.2 196.72v11.63M398.7 196.72v11.63M400.1 196.72v11.63M403.0 196.72v11.63M404.5 196.72v11.63M405.9 196.72v11.63M407.4 196.72v11.63M408.8 196.72v11.63M410.3 196.72v11.63M413.2 196.72v11.63M414.7 196.72v11.63M417.6 196.72v11.63M419.0 196.72v11.63M426.3 196.72v11.63M427.7 196.72v11.63M432.1 196.72v11.63M433.6 196.72v11.63M440.8 196.72v11.63M443.7 196.72v11.63M446.6 196.72v11.63M459.7 196.72v11.63M464.1 196.72v11.63M510.6 196.72v11.63M512.0 196.72v11.63M513.5 196.72v11.63M523.7 196.72v11.63M551.3 196.72v11.63M552.7 196.72v11.63M554.2 196.72v11.63M578.9 196.72v11.63M581.8 196.72v11.63M587.6 196.72v11.63M592.0 196.72v11.63M600.7 196.72v11.63M638.5 196.72v11.63M640.0 196.72v11.63M359.4 239.03v11.63M360.9 239.03v11.63M362.3 239.03v11.63M363.8 239.03v11.63M365.2 239.03v11.63M366.7 239.03v11.63M368.1 239.03v11.63M369.6 239.03v11.63M371.1 239.03v11.63M372.5 239.03v11.63M374.0 239.03v11.63M375.4 239.03v11.63M376.9 239.03v11.63M378.3 239.03v11.63M379.8 239.03v11.63M381.2 239.03v11.63M382.7 239.03v11.63M384.1 239.03v11.63M385.6 239.03v11.63M388.5 239.03v11.63M390.0 239.03v11.63M391.4 239.03v11.63M394.3 239.03v11.63M395.8 239.03v11.63M397.2 239.03v11.63M398.7 239.03v11.63M401.6 239.03v11.63M403.0 239.03v11.63M404.5 239.03v11.63M405.9 239.03v11.63M407.4 239.03v11.63M408.8 239.03v11.63M410.3 239.03v11.63M411.8 239.03v11.63M413.2 239.03v11.63M414.7 239.03v11.63M416.1 239.03v11.63M417.6 239.03v11.63M419.0 239.03v11.63M420.5 239.03v11.63M421.9 239.03v11.63M423.4 239.03v11.63M424.8 239.03v11.63M426.3 239.03v11.63M427.7 239.03v11.63M429.2 239.03v11.63M430.6 239.03v11.63M432.1 239.03v11.63M433.6 239.03v11.63M435.0 239.03v11.63M436.5 239.03v11.63M437.9 239.03v11.63M439.4 239.03v11.63M440.8 239.03v11.63M442.3 239.03v11.63M443.7 239.03v11.63M445.2 239.03v11.63M446.6 239.03v11.63M448.1 239.03v11.63M449.5 239.03v11.63M451.0 239.03v11.63M452.5 239.03v11.63M453.9 239.03v11.63M455.4 239.03v11.63M456.8 239.03v11.63M458.3 239.03v11.63M459.7 239.03v11.63M461.2 239.03v11.63M462.6 239.03v11.63M464.1 239.03v11.63M465.5 239.03v11.63M467.0 239.03v11.63M468.4 239.03v11.63M469.9 239.03v11.63M471.3 239.03v11.63M474.3 239.03v11.63M475.7 239.03v11.63M477.2 239.03v11.63M478.6 239.03v11.63M480.1 239.03v11.63M481.5 239.03v11.63M483.0 239.03v11.63M484.4 239.03v11.63M485.9 239.03v11.63M487.3 239.03v11.63M488.8 239.03v11.63M490.2 239.03v11.63M491.7 239.03v11.63M493.1 239.03v11.63M494.6 239.03v11.63M496.1 239.03v11.63M497.5 239.03v11.63M499.0 239.03v11.63M500.4 239.03v11.63M501.9 239.03v11.63M503.3 239.03v11.63M504.8 239.03v11.63M506.2 239.03v11.63M507.7 239.03v11.63M509.1 239.03v11.63M510.6 239.03v11.63M512.0 239.03v11.63M513.5 239.03v11.63M515.0 239.03v11.63M516.4 239.03v11.63M517.9 239.03v11.63M519.3 239.03v11.63M520.8 239.03v11.63M522.2 239.03v11.63M526.6 239.03v11.63M528.0 239.03v11.63M529.5 239.03v11.63M530.9 239.03v11.63M532.4 239.03v11.63M533.8 239.03v11.63M535.3 239.03v11.63M536.8 239.03v11.63M538.2 239.03v11.63M539.7 239.03v11.63M541.1 239.03v11.63M542.6 239.03v11.63M544.0 239.03v11.63M545.5 239.03v11.63M546.9 239.03v11.63M548.4 239.03v11.63M549.8 239.03v11.63M551.3 239.03v11.63M552.7 239.03v11.63M554.2 239.03v11.63M555.6 239.03v11.63M557.1 239.03v11.63M560.0 239.03v11.63M561.5 239.03v11.63M562.9 239.03v11.63M564.4 239.03v11.63M565.8 239.03v11.63M567.3 239.03v11.63M568.7 239.03v11.63M570.2 239.03v11.63M571.6 239.03v11.63M573.1 239.03v11.63M574.5 239.03v11.63M576.0 239.03v11.63M577.5 239.03v11.63M581.8 239.03v11.63M583.3 239.03v11.63M584.7 239.03v11.63M589.1 239.03v11.63M590.5 239.03v11.63M592.0 239.03v11.63M593.4 239.03v11.63M596.3 239.03v11.63M597.8 239.03v11.63M599.3 239.03v11.63M600.7 239.03v11.63M602.2 239.03v11.63M606.5 239.03v11.63M608.0 239.03v11.63M610.9 239.03v11.63M612.3 239.03v11.63M613.8 239.03v11.63M615.2 239.03v11.63M616.7 239.03v11.63M618.1 239.03v11.63M619.6 239.03v11.63M621.1 239.03v11.63M622.5 239.03v11.63M626.9 239.03v11.63M628.3 239.03v11.63M629.8 239.03v11.63M631.2 239.03v11.63M632.7 239.03v11.63M634.1 239.03v11.63M635.6 239.03v11.63M637.0 239.03v11.63M638.5 239.03v11.63M640.0 239.03v11.63M641.4 239.03v11.63M642.9 239.03v11.63M644.3 239.03v11.63M645.8 239.03v11.63M647.2 239.03v11.63M648.7 239.03v11.63M468.4 250.66v11.63M469.9 250.66v11.63M499.0 250.66v11.63M500.4 250.66v11.63M526.6 250.66v11.63M574.5 250.66v11.63M583.3 250.66v11.63M612.3 250.66v11.63M376.9 262.29v11.63M382.7 262.29v11.63M411.8 262.29v11.63M429.2 262.29v11.63M446.6 262.29v11.63M480.1 262.29v11.63M487.3 262.29v11.63M488.8 262.29v11.63M526.6 262.29v11.63M528.0 262.29v11.63M529.5 262.29v11.63M533.8 262.29v11.63M535.3 262.29v11.63M558.6 262.29v11.63M560.0 262.29v11.63M565.8 262.29v11.63M574.5 262.29v11.63M583.3 262.29v11.63M584.7 262.29v11.63M596.3 262.29v11.63M597.8 262.29v11.63M599.3 262.29v11.63M626.9 262.29v11.63M628.3 262.29v11.63M629.8 262.29v11.63M631.2 262.29v11.63M641.4 262.29v11.63M642.9 262.29v11.63M644.3 262.29v11.63M645.8 262.29v11.63M398.7 273.92v11.63M411.8 273.92v11.63M458.3 273.92v11.63M469.9 273.92v11.63M471.3 273.92v11.63M483.0 273.92v11.63M487.3 273.92v11.63M499.0 273.92v11.63M536.8 273.92v11.63M583.3 273.92v11.63M596.3 273.92v11.63M629.8 273.92v11.63M644.3 273.92v11.63M414.7 285.55v11.63M487.3 285.55v11.63M557.1 285.55v11.63M565.8 285.55v11.63M567.3 285.55v11.63M596.3 285.55v11.63M411.8 308.81v11.63M533.8 308.81v11.63M596.3 308.81v11.63M369.6 332.07v11.63M382.7 332.07v11.63M411.8 332.07v11.63M413.2 332.07v11.63M429.2 332.07v11.63M442.3 332.07v11.63M459.7 332.07v11.63M468.4 332.07v11.63M481.5 332.07v11.63M487.3 332.07v11.63M488.8 332.07v11.63M491.7 332.07v11.63M499.0 332.07v11.63M500.4 332.07v11.63M501.9 332.07v11.63M506.2 332.07v11.63M522.2 332.07v11.63M525.1 332.07v11.63M526.6 332.07v11.63M528.0 332.07v11.63M529.5 332.07v11.63M533.8 332.07v11.63M538.2 332.07v11.63M539.7 332.07v11.63M541.1 332.07v11.63M545.5 332.07v11.63M546.9 332.07v11.63M549.8 332.07v11.63M557.1 332.07v11.63M560.0 332.07v11.63M573.1 332.07v11.63M574.5 332.07v11.63M576.0 332.07v11.63M583.3 332.07v11.63M589.1 332.07v11.63M590.5 332.07v11.63M596.3 332.07v11.63M597.8 332.07v11.63M599.3 332.07v11.63M606.5 332.07v11.63M610.9 332.07v11.63M612.3 332.07v11.63M613.8 332.07v11.63M619.6 332.07v11.63M626.9 332.07v11.63M628.3 332.07v11.63M629.8 332.07v11.63M631.2 332.07v11.63M632.7 332.07v11.63M641.4 332.07v11.63M642.9 332.07v11.63M644.3 332.07v11.63M645.8 332.07v11.63M647.2 332.07v11.63M648.7 332.07v11.63M360.9 343.70v11.63M362.3 343.70v11.63M365.2 343.70v11.63M366.7 343.70v11.63M368.1 343.70v11.63M369.6 343.70v11.63M371.1 343.70v11.63M372.5 343.70v11.63M374.0 343.70v11.63M375.4 343.70v11.63M376.9 343.70v11.63M378.3 343.70v11.63M379.8 343.70v11.63M381.2 343.70v11.63M382.7 343.70v11.63M384.1 343.70v11.63M385.6 343.70v11.63M387.0 343.70v11.63M388.5 343.70v11.63M390.0 343.70v11.63M391.4 343.70v11.63M392.9 343.70v11.63M394.3 343.70v11.63M395.8 343.70v11.63M397.2 343.70v11.63M398.7 343.70v11.63M400.1 343.70v11.63M401.6 343.70v11.63M403.0 343.70v11.63M404.5 343.70v11.63M405.9 343.70v11.63M407.4 343.70v11.63M408.8 343.70v11.63M410.3 343.70v11.63M411.8 343.70v11.63M413.2 343.70v11.63M414.7 343.70v11.63M416.1 343.70v11.63M417.6 343.70v11.63M419.0 343.70v11.63M420.5 343.70v11.63M421.9 343.70v11.63M423.4 343.70v11.63M424.8 343.70v11.63M426.3 343.70v11.63M427.7 343.70v11.63M429.2 343.70v11.63M430.6 343.70v11.63M432.1 343.70v11.63M433.6 343.70v11.63M435.0 343.70v11.63M436.5 343.70v11.63M437.9 343.70v11.63M439.4 343.70v11.63M440.8 343.70v11.63M442.3 343.70v11.63M443.7 343.70v11.63M445.2 343.70v11.63M446.6 343.70v11.63M448.1 343.70v11.63M449.5 343.70v11.63M451.0 343.70v11.63M452.5 343.70v11.63M453.9 343.70v11.63M455.4 343.70v11.63M456.8 343.70v11.63M458.3 343.70v11.63M459.7 343.70v11.63M464.1 343.70v11.63M465.5 343.70v11.63M467.0 343.70v11.63M468.4 343.70v11.63M469.9 343.70v11.63M471.3 343.70v11.63M472.8 343.70v11.63M474.3 343.70v11.63M475.7 343.70v11.63M477.2 343.70v11.63M478.6 343.70v11.63M480.1 343.70v11.63M481.5 343.70v11.63M483.0 343.70v11.63M484.4 343.70v11.63M485.9 343.70v11.63M487.3 343.70v11.63M488.8 343.70v11.63M490.2 343.70v11.63M491.7 343.70v11.63M493.1 343.70v11.63M494.6 343.70v11.63M496.1 343.70v11.63M497.5 343.70v11.63M499.0 343.70v11.63M500.4 343.70v11.63M501.9 343.70v11.63M503.3 343.70v11.63M504.8 343.70v11.63M506.2 343.70v11.63M507.7 343.70v11.63M513.5 343.70v11.63M515.0 343.70v11.63M516.4 343.70v11.63M519.3 343.70v11.63M520.8 343.70v11.63M522.2 343.70v11.63M523.7 343.70v11.63M525.1 343.70v11.63M526.6 343.70v11.63M528.0 343.70v11.63M529.5 343.70v11.63M530.9 343.70v11.63M532.4 343.70v11.63M533.8 343.70v11.63M535.3 343.70v11.63M536.8 343.70v11.63M538.2 343.70v11.63M539.7 343.70v11.63M541.1 343.70v11.63M542.6 343.70v11.63M544.0 343.70v11.63M545.5 343.70v11.63M546.9 343.70v11.63M548.4 343.70v11.63M549.8 343.70v11.63M552.7 343.70v11.63M554.2 343.70v11.63M555.6 343.70v11.63M557.1 343.70v11.63M558.6 343.70v11.63M560.0 343.70v11.63M561.5 343.70v11.63M562.9 343.70v11.63M564.4 343.70v11.63M565.8 343.70v11.63M567.3 343.70v11.63M568.7 343.70v11.63M570.2 343.70v11.63M571.6 343.70v11.63M573.1 343.70v11.63M574.5 343.70v11.63M576.0 343.70v11.63M577.5 343.70v11.63M578.9 343.70v11.63M580.4 343.70v11.63M581.8 343.70v11.63M583.3 343.70v11.63M584.7 343.70v11.63M586.2 343.70v11.63M589.1 343.70v11.63M590.5 343.70v11.63M592.0 343.70v11.63M593.4 343.70v11.63M594.9 343.70v11.63M596.3 343.70v11.63M597.8 343.70v11.63M599.3 343.70v11.63M600.7 343.70v11.63M602.2 343.70v11.63M603.6 343.70v11.63M606.5 343.70v11.63M610.9 343.70v11.63M612.3 343.70v11.63M613.8 343.70v11.63M615.2 343.70v11.63M616.7 343.70v11.63M618.1 343.70v11.63M619.6 343.70v11.63M621.1 343.70v11.63M622.5 343.70v11.63M624.0 343.70v11.63M625.4 343.70v11.63M626.9 343.70v11.63M628.3 343.70v11.63M629.8 343.70v11.63M631.2 343.70v11.63M632.7 343.70v11.63M635.6 343.70v11.63M637.0 343.70v11.63M638.5 343.70v11.63M640.0 343.70v11.63M641.4 343.70v11.63M642.9 343.70v11.63M644.3 343.70v11.63M645.8 343.70v11.63M647.2 343.70v11.63M648.7 343.70v11.63M366.7 366.96v11.63M368.1 366.96v11.63M375.4 366.96v11.63M382.7 366.96v11.63M397.2 366.96v11.63M414.7 366.96v11.63M429.2 366.96v11.63M440.8 366.96v11.63M449.5 366.96v11.63M456.8 366.96v11.63M474.3 366.96v11.63M475.7 366.96v11.63M487.3 366.96v11.63M488.8 366.96v11.63M490.2 366.96v11.63M493.1 366.96v11.63M497.5 366.96v11.63M506.2 366.96v11.63M507.7 366.96v11.63M515.0 366.96v11.63M516.4 366.96v11.63M517.9 366.96v11.63M519.3 366.96v11.63M522.2 366.96v11.63M528.0 366.96v11.63M532.4 366.96v11.63M533.8 366.96v11.63M536.8 366.96v11.63M538.2 366.96v11.63M546.9 366.96v11.63M548.4 366.96v11.63M573.1 366.96v11.63M577.5 366.96v11.63M581.8 366.96v11.63M583.3 366.96v11.63M596.3 366.96v11.63M597.8 366.96v11.63M612.3 366.96v11.63M616.7 366.96v11.63M618.1 366.96v11.63M628.3 366.96v11.63M629.8 366.96v11.63M632.7 366.96v11.63M635.6 366.96v11.63M640.0 366.96v11.63M642.9 366.96v11.63M644.3 366.96v11.63M645.8 366.96v11.63M501.9 378.59v11.63M526.6 378.59v11.63M533.8 378.59v11.63M535.3 378.59v11.63M583.3 378.59v11.63M631.2 378.59v11.63M503.3 390.22v11.63"/>
<path stroke="#4d7db8" stroke-width="1.50" d="M360.9 33.90v11.63M427.7 33.90v11.63M451.0 33.90v11.63M485.9 33.90v11.63M523.7 33.90v11.63M381.2 57.16v11.63M423.4 57.16v11.63M437.9 57.16v11.63M442.3 57.16v11.63M458.3 57.16v11.63M459.7 57.16v11.63M471.3 57.16v11.63M477.2 57.16v11.63M485.9 57.16v11.63M491.7 57.16v11.63M506.2 57.16v11.63M519.3 57.16v11.63M536.8 57.16v11.63M544.0 57.16v11.63M546.9 57.16v11.63M551.3 57.16v11.63M564.4 57.16v11.63M568.7 57.16v11.63M609.4 57.16v11.63M615.2 57.16v11.63M619.6 57.16v11.63M621.1 57.16v11.63M365.2 68.79v11.63M404.5 68.79v11.63M405.9 68.79v11.63M530.9 68.79v11.63M613.8 68.79v11.63M638.5 68.79v11.63M394.3 80.42v11.63M419.0 80.42v11.63M420.5 80.42v11.63M433.6 80.42v11.63M439.4 80.42v11.63M442.3 80.42v11.63M446.6 80.42v11.63M448.1 80.42v11.63M452.5 80.42v11.63M456.8 80.42v11.63M469.9 80.42v11.63M497.5 80.42v11.63M504.8 80.42v11.63M515.0 80.42v11.63M522.2 80.42v11.63M523.7 80.42v11.63M581.8 80.42v11.63M594.9 80.42v11.63M624.0 80.42v11.63M648.7 80.42v11.63M423.4 92.05v11.63M530.9 92.05v11.63M363.8 103.68v11.63M369.6 103.68v11.63M395.8 103.68v11.63M404.5 103.68v11.63M430.6 103.68v11.63M433.6 103.68v11.63M439.4 103.68v11.63M448.1 103.68v11.63M461.2 103.68v11.63M510.6 103.68v11.63M552.7 103.68v11.63M558.6 103.68v11.63M564.4 103.68v11.63M587.6 103.68v11.63M593.4 103.68v11.63M615.2 103.68v11.63M621.1 103.68v11.63M381.2 115.31v11.63M403.0 115.31v11.63M420.5 115.31v11.63M421.9 115.31v11.63M424.8 115.31v11.63M439.4 115.31v11.63M494.6 115.31v11.63M555.6 115.31v11.63M592.0 115.31v11.63M594.9 115.31v11.63M605.1 115.31v11.63M360.9 138.57v11.63M391.4 138.57v11.63M417.6 138.57v11.63M420.5 138.57v11.63M426.3 138.57v11.63M436.5 138.57v11.63M445.2 138.57v11.63M448.1 138.57v11.63M451.0 138.57v11.63M496.1 138.57v11.63M512.0 138.57v11.63M513.5 138.57v11.63M552.7 138.57v11.63M555.6 138.57v11.63M578.9 138.57v11.63M594.9 138.57v11.63M602.2 138.57v11.63M615.2 138.57v11.63M624.0 138.57v11.63M637.0 138.57v11.63M405.9 150.20v11.63M530.9 150.20v11.63M592.0 150.20v11.63M602.2 150.20v11.63M359.4 161.83v11.63M363.8 161.83v11.63M392.9 161.83v11.63M400.1 161.83v11.63M608.0 161.83v11.63M366.7 173.46v11.63M408.8 173.46v11.63M416.1 173.46v11.63M458.3 173.46v11.63M472.8 173.46v11.63M509.1 173.46v11.63M510.6 173.46v11.63M554.2 173.46v11.63M638.5 173.46v11.63M365.2 185.09v11.63M394.3 185.09v11.63M403.0 185.09v11.63M404.5 185.09v11.63M410.3 185.09v11.63M416.1 185.09v11.63M433.6 185.09v11.63M477.2 185.09v11.63M494.6 185.09v11.63M512.0 185.09v11.63M530.9 185.09v11.63M564.4 185.09v11.63M592.0 185.09v11.63M605.1 185.09v11.63M608.0 185.09v11.63M390.0 196.72v11.63M392.9 196.72v11.63M395.8 196.72v11.63M401.6 196.72v11.63M423.4 196.72v11.63M436.5 196.72v11.63M451.0 196.72v11.63M461.2 196.72v11.63M465.5 196.72v11.63M467.0 196.72v11.63M469.9 196.72v11.63M477.2 196.72v11.63M478.6 196.72v11.63M494.6 196.72v11.63M525.1 196.72v11.63M529.5 196.72v11.63M555.6 196.72v11.63M562.9 196.72v11.63M564.4 196.72v11.63M586.2 196.72v11.63M599.3 196.72v11.63M602.2 196.72v11.63M637.0 196.72v11.63M387.0 239.03v11.63M392.9 239.03v11.63M400.1 239.03v11.63M472.8 239.03v11.63M558.6 239.03v11.63M578.9 239.03v11.63M580.4 239.03v11.63M586.2 239.03v11.63M594.9 239.03v11.63M603.6 239.03v11.63M609.4 239.03v11.63M624.0 239.03v11.63M625.4 239.03v11.63M503.3 250.66v11.63M414.7 262.29v11.63M465.5 262.29v11.63M545.5 262.29v11.63M557.1 262.29v11.63M561.5 262.29v11.63M576.0 262.29v11.63M648.7 262.29v11.63M376.9 273.92v11.63M384.1 273.92v11.63M395.8 273.92v11.63M501.9 273.92v11.63M533.8 273.92v11.63M541.1 273.92v11.63M442.3 285.55v11.63M456.8 308.81v11.63M360.9 332.07v11.63M401.6 332.07v11.63M430.6 332.07v11.63M440.8 332.07v11.63M469.9 332.07v11.63M471.3 332.07v11.63M475.7 332.07v11.63M507.7 332.07v11.63M519.3 332.07v11.63M584.7 332.07v11.63M618.1 332.07v11.63M634.1 332.07v11.63M359.4 343.70v11.63M363.8 343.70v11.63M461.2 343.70v11.63M509.1 343.70v11.63M510.6 343.70v11.63M512.0 343.70v11.63M517.9 343.70v11.63M551.3 343.70v11.63M587.6 343.70v11.63M605.1 343.70v11.63M608.0 343.70v11.63M609.4 343.70v11.63M634.1 343.70v11.63M392.9 366.96v11.63M404.5 366.96v11.63M423.4 366.96v11.63M467.0 366.96v11.63M468.4 366.96v11.63M469.9 366.96v11.63M484.4 366.96v11.63M500.4 366.96v11.63M509.1 366.96v11.63M520.8 366.96v11.63M526.6 366.96v11.63M545.5 366.96v11.63M565.8 366.96v11.63M602.2 366.96v11.63M637.0 366.96v11.63M376.9 378.59v11.63M465.5 378.59v11.63M487.3 378.59v11.63M642.9 378.59v11.63M599.3 390.22v11.63"/>
<path stroke="#6696c5" stroke-width="1.50" d="M366.7 33.90v11.63M390.0 33.90v11.63M398.7 33.90v11.63M472.8 33.90v11.63M609.4 33.90v11.63M407.4 45.53v11.63M608.0 45.53v11.63M446.6 57.16v11.63M474.3 57.16v11.63M483.0 57.16v11.63M490.2 57.16v11.63M501.9 57.16v11.63M516.4 57.16v11.63M525.1 57.16v11.63M557.1 57.16v11.63M593.4 57.16v11.63M596.3 57.16v11.63M600.7 57.16v11.63M605.1 57.16v11.63M624.0 57.16v11.63M631.2 57.16v11.63M635.6 57.16v11.63M641.4 57.16v11.63M645.8 57.16v11.63M648.7 57.16v11.63M366.7 68.79v11.63M368.1 68.79v11.63M388.5 68.79v11.63M417.6 68.79v11.63M451.0 68.79v11.63M452.5 68.79v11.63M453.9 68.79v11.63M474.3 68.79v11.63M478.6 68.79v11.63M496.1 68.79v11.63M532.4 68.79v11.63M554.2 68.79v11.63M558.6 68.79v11.63M577.5 68.79v11.63M632.7 68.79v11.63M421.9 80.42v11.63M467.0 80.42v11.63M475.7 80.42v11.63M477.2 80.42v11.63M481.5 80.42v11.63M483.0 80.42v11.63M516.4 80.42v11.63M519.3 80.42v11.63M533.8 80.42v11.63M583.3 80.42v11.63M589.1 80.42v11.63M593.4 80.42v11.63M612.3 80.42v11.63M366.7 92.05v11.63M474.3 92.05v11.63M478.6 92.05v11.63M523.7 92.05v11.63M538.2 92.05v11.63M587.6 92.05v11.63M624.0 92.05v11.63M376.9 103.68v11.63M397.2 103.68v11.63M401.6 103.68v11.63M408.8 103.68v11.63M424.8 103.68v11.63M452.5 103.68v11.63M455.4 103.68v11.63M456.8 103.68v11.63M471.3 103.68v11.63M515.0 103.68v11.63M557.1 103.68v11.63M560.0 103.68v11.63M568.7 103.68v11.63M580.4 103.68v11.63M635.6 103.68v11.63M640.0 103.68v11.63M375.4 115.31v11.63M385.6 115.31v11.63M390.0 115.31v11.63M408.8 115.31v11.63M419.0 115.31v11.63M432.1 115.31v11.63M437.9 115.31v11.63M440.8 115.31v11.63M458.3 115.31v11.63M465.5 115.31v11.63M469.9 115.31v11.63M474.3 115.31v11.63M493.1 115.31v11.63M503.3 115.31v11.63M504.8 115.31v11.63M542.6 115.31v11.63M544.0 115.31v11.63M577.5 115.31v11.63M584.7 115.31v11.63M593.4 115.31v11.63M603.6 115.31v11.63M609.4 115.31v11.63M615.2 115.31v11.63M637.0 115.31v11.63M645.8 115.31v11.63M366.7 138.57v11.63M374.0 138.57v11.63M397.2 138.57v11.63M429.2 138.57v11.63M437.9 138.57v11.63M446.6 138.57v11.63M467.0 138.57v11.63M487.3 138.57v11.63M490.2 138.57v11.63M504.8 138.57v11.63M507.7 138.57v11.63M525.1 138.57v11.63M530.9 138.57v11.63M532.4 138.57v11.63M536.8 138.57v11.63M546.9 138.57v11.63M548.4 138.57v11.63M549.8 138.57v11.63M560.0 138.57v11.63M570.2 138.57v11.63M581.8 138.57v11.63M599.3 138.57v11.63M606.5 138.57v11.63M612.3 138.57v11.63M626.9 138.57v11.63M647.2 138.57v11.63M365.2 150.20v11.63M391.4 150.20v11.63M400.1 150.20v11.63M485.9 150.20v11.63M529.5 150.20v11.63M552.7 150.20v11.63M577.5 150.20v11.63M395.8 161.83v11.63M554.2 161.83v11.63M602.2 161.83v11.63M379.8 173.46v11.63M420.5 173.46v11.63M430.6 173.46v11.63M446.6 173.46v11.63M453.9 173.46v11.63M456.8 173.46v11.63M464.1 173.46v11.63M483.0 173.46v11.63M499.0 173.46v11.63M500.4 173.46v11.63M525.1 173.46v11.63M530.9 173.46v11.63M536.8 173.46v11.63M549.8 173.46v11.63M558.6 173.46v11.63M561.5 173.46v11.63M570.2 173.46v11.63M613.8 173.46v11.63M615.2 173.46v11.63M626.9 173.46v11.63M647.2 173.46v11.63M648.7 173.46v11.63M359.4 185.09v11.63M391.4 185.09v11.63M398.7 185.09v11.63M417.6 185.09v11.63M420.5 185.09v11.63M432.1 185.09v11.63M437.9 185.09v11.63M446.6 185.09v11.63M456.8 185.09v11.63M496.1 185.09v11.63M519.3 185.09v11.63M522.2 185.09v11.63M525.1 185.09v11.63M539.7 185.09v11.63M544.0 185.09v11.63M573.1 185.09v11.63M594.9 185.09v11.63M599.3 185.09v11.63M602.2 185.09v11.63M603.6 185.09v11.63M622.5 185.09v11.63M631.2 185.09v11.63M635.6 185.09v11.63M376.9 196.72v11.63M429.2 196.72v11.63M493.1 196.72v11.63M500.4 196.72v11.63M557.1 196.72v11.63M574.5 196.72v11.63M593.4 196.72v11.63M597.8 196.72v11.63M610.9 196.72v11.63M641.4 196.72v11.63M647.2 196.72v11.63M467.0 250.66v11.63M507.7 250.66v11.63M515.0 250.66v11.63M533.8 250.66v11.63M560.0 250.66v11.63M565.8 250.66v11.63M577.5 250.66v11.63M640.0 250.66v11.63M440.8 262.29v11.63M500.4 262.29v11.63M507.7 262.29v11.63M538.2 262.29v11.63M552.7 262.29v11.63M567.3 262.29v11.63M619.6 262.29v11.63M375.4 273.92v11.63M455.4 273.92v11.63M456.8 273.92v11.63M481.5 273.92v11.63M548.4 273.92v11.63M642.9 273.92v11.63M411.8 285.55v11.63M488.8 285.55v11.63M564.4 285.55v11.63M376.9 308.81v11.63M419.0 308.81v11.63M455.4 308.81v11.63M467.0 308.81v11.63M487.3 308.81v11.63M549.8 308.81v11.63M561.5 308.81v11.63M368.1 332.07v11.63M384.1 332.07v11.63M405.9 332.07v11.63M407.4 332.07v11.63M424.8 332.07v11.63M426.3 332.07v11.63M448.1 332.07v11.63M455.4 332.07v11.63M472.8 332.07v11.63M474.3 332.07v11.63M483.0 332.07v11.63M497.5 332.07v11.63M551.3 332.07v11.63M565.8 332.07v11.63M580.4 332.07v11.63M600.7 332.07v11.63M365.2 366.96v11.63M372.5 366.96v11.63M379.8 366.96v11.63M388.5 366.96v11.63M391.4 366.96v11.63M398.7 366.96v11.63M407.4 366.96v11.63M417.6 366.96v11.63M424.8 366.96v11.63M427.7 366.96v11.63M485.9 366.96v11.63M494.6 366.96v11.63M503.3 366.96v11.63M535.3 366.96v11.63M541.1 366.96v11.63M557.1 366.96v11.63M558.6 366.96v11.63M587.6 366.96v11.63M590.5 366.96v11.63M626.9 366.96v11.63M437.9 378.59v11.63M490.2 378.59v11.63M491.7 378.59v11.63M503.3 378.59v11.63M584.7 378.59v11.63M632.7 378.59v11.63M360.9 390.22v11.63M382.7 390.22v11.63M467.0 390.22v11.63M480.1 390.22v11.63M629.8 390.22v11.63"/>
<path stroke="#6d9cc8" stroke-width="1.50" d="M368.1 33.90v11.63M372.5 33.90v11.63M379.8 33.90v11.63M424.8 33.90v11.63M448.1 33.90v11.63M462.6 33.90v11.63M594.9 33.90v11.63M390.0 45.53v11.63M462.6 45.53v11.63M523.7 45.53v11.63M374.0 57.16v11.63M464.1 57.16v11.63M467.0 57.16v11.63M497.5 57.16v11.63M503.3 57.16v11.63M528.0 57.16v11.63M538.2 57.16v11.63M548.4 57.16v11.63M560.0 57.16v11.63M586.2 57.16v11.63M589.1 57.16v11.63M599.3 57.16v11.63M629.8 57.16v11.63M634.1 57.16v11.63M647.2 57.16v11.63M371.1 68.79v11.63M376.9 68.79v11.63M395.8 68.79v11.63M413.2 68.79v11.63M433.6 68.79v11.63M442.3 68.79v11.63M458.3 68.79v11.63M462.6 68.79v11.63M477.2 68.79v11.63M481.5 68.79v11.63M494.6 68.79v11.63M504.8 68.79v11.63M507.7 68.79v11.63M568.7 68.79v11.63M581.8 68.79v11.63M594.9 68.79v11.63M619.6 68.79v11.63M635.6 68.79v11.63M640.0 68.79v11.63M429.2 80.42v11.63M500.4 80.42v11.63M539.7 80.42v11.63M567.3 80.42v11.63M599.3 80.42v11.63M610.9 80.42v11.63M626.9 80.42v11.63M371.1 92.05v11.63M381.2 92.05v11.63M394.3 92.05v11.63M419.0 92.05v11.63M421.9 92.05v11.63M453.9 92.05v11.63M542.6 92.05v11.63M552.7 92.05v11.63M562.9 92.05v11.63M593.4 92.05v11.63M398.7 103.68v11.63M410.3 103.68v11.63M420.5 103.68v11.63M426.3 103.68v11.63M429.2 103.68v11.63M436.5 103.68v11.63M446.6 103.68v11.63M451.0 103.68v11.63M477.2 103.68v11.63M487.3 103.68v11.63M513.5 103.68v11.63M520.8 103.68v11.63M554.2 103.68v11.63M555.6 103.68v11.63M578.9 103.68v11.63M586.2 103.68v11.63M599.3 103.68v11.63M606.5 103.68v11.63M618.1 103.68v11.63M622.5 103.68v11.63M625.4 103.68v11.63M467.0 115.31v11.63M484.4 115.31v11.63M497.5 115.31v11.63M522.2 115.31v11.63M525.1 115.31v11.63M529.5 115.31v11.63M533.8 115.31v11.63M536.8 115.31v11.63M539.7 115.31v11.63M541.1 115.31v11.63M580.4 115.31v11.63M600.7 115.31v11.63M602.2 115.31v11.63M613.8 115.31v11.63M626.9 115.31v11.63M631.2 115.31v11.63M365.2 126.94v11.63M368.1 138.57v11.63M435.0 138.57v11.63M468.4 138.57v11.63M469.9 138.57v11.63M483.0 138.57v11.63M488.8 138.57v11.63M522.2 138.57v11.63M567.3 138.57v11.63M586.2 138.57v11.63M600.7 138.57v11.63M621.1 138.57v11.63M632.7 138.57v11.63M417.6 150.20v11.63M445.2 150.20v11.63M464.1 150.20v11.63M510.6 150.20v11.63M512.0 150.20v11.63M519.3 150.20v11.63M539.7 150.20v11.63M621.1 150.20v11.63M635.6 150.20v11.63M390.0 161.83v11.63M407.4 161.83v11.63M360.9 173.46v11.63M375.4 173.46v11.63M381.2 173.46v11.63M401.6 173.46v11.63M414.7 173.46v11.63M419.0 173.46v11.63M432.1 173.46v11.63M436.5 173.46v11.63M437.9 173.46v11.63M445.2 173.46v11.63M481.5 173.46v11.63M494.6 173.46v11.63M501.9 173.46v11.63M517.9 173.46v11.63M529.5 173.46v11.63M594.9 173.46v11.63M628.3 173.46v11.63M635.6 173.46v11.63M640.0 173.46v11.63M641.4 173.46v11.63M381.2 185.09v11.63M384.1 185.09v11.63M390.0 185.09v11.63M429.2 185.09v11.63M436.5 185.09v11.63M452.5 185.09v11.63M497.5 185.09v11.63M580.4 185.09v11.63M586.2 185.09v11.63M589.1 185.09v11.63M590.5 185.09v11.63M600.7 185.09v11.63M613.8 185.09v11.63M615.2 185.09v11.63M634.1 185.09v11.63M637.0 185.09v11.63M647.2 185.09v11.63M435.0 196.72v11.63M471.3 196.72v11.63M480.1 196.72v11.63M497.5 196.72v11.63M499.0 196.72v11.63M517.9 196.72v11.63M538.2 196.72v11.63M549.8 196.72v11.63M560.0 196.72v11.63M567.3 196.72v11.63M568.7 196.72v11.63M580.4 196.72v11.63M584.7 196.72v11.63M590.5 196.72v11.63M596.3 196.72v11.63M612.3 196.72v11.63M622.5 196.72v11.63M626.9 196.72v11.63M419.0 250.66v11.63M420.5 250.66v11.63M440.8 250.66v11.63M474.3 250.66v11.63M477.2 250.66v11.63M480.1 250.66v11.63M481.5 250.66v11.63M522.2 250.66v11.63M525.1 250.66v11.63M529.5 250.66v11.63M539.7 250.66v11.63M562.9 250.66v11.63M564.4 250.66v11.63M581.8 250.66v11.63M362.3 262.29v11.63M365.2 262.29v11.63M379.8 262.29v11.63M381.2 262.29v11.63M395.8 262.29v11.63M423.4 262.29v11.63M427.7 262.29v11.63M433.6 262.29v11.63M453.9 262.29v11.63M462.6 262.29v11.63M468.4 262.29v11.63M497.5 262.29v11.63M530.9 262.29v11.63M541.1 262.29v11.63M542.6 262.29v11.63M554.2 262.29v11.63M586.2 262.29v11.63M589.1 262.29v11.63M612.3 262.29v11.63M625.4 262.29v11.63M374.0 273.92v11.63M392.9 273.92v11.63M436.5 273.92v11.63M472.8 273.92v11.63M474.3 273.92v11.63M520.8 273.92v11.63M544.0 273.92v11.63M589.1 273.92v11.63M597.8 273.92v11.63M610.9 273.92v11.63M648.7 273.92v11.63M397.2 285.55v11.63M432.1 285.55v11.63M443.7 285.55v11.63M491.7 285.55v11.63M506.2 285.55v11.63M528.0 285.55v11.63M577.5 285.55v11.63M584.7 285.55v11.63M626.9 285.55v11.63M375.4 308.81v11.63M413.2 308.81v11.63M471.3 308.81v11.63M499.0 308.81v11.63M522.2 308.81v11.63M528.0 308.81v11.63M616.7 308.81v11.63M363.8 332.07v11.63M394.3 332.07v11.63M416.1 332.07v11.63M439.4 332.07v11.63M443.7 332.07v11.63M445.2 332.07v11.63M485.9 332.07v11.63M493.1 332.07v11.63M509.1 332.07v11.63M520.8 332.07v11.63M530.9 332.07v11.63M544.0 332.07v11.63M552.7 332.07v11.63M554.2 332.07v11.63M558.6 332.07v11.63M602.2 332.07v11.63M603.6 332.07v11.63M371.1 366.96v11.63M401.6 366.96v11.63M421.9 366.96v11.63M433.6 366.96v11.63M435.0 366.96v11.63M465.5 366.96v11.63M478.6 366.96v11.63M504.8 366.96v11.63M513.5 366.96v11.63M544.0 366.96v11.63M560.0 366.96v11.63M568.7 366.96v11.63M586.2 366.96v11.63M589.1 366.96v11.63M593.4 366.96v11.63M605.1 366.96v11.63M613.8 366.96v11.63M621.1 366.96v11.63M414.7 378.59v11.63M517.9 378.59v11.63M536.8 378.59v11.63M538.2 378.59v11.63M560.0 378.59v11.63M626.9 378.59v11.63M488.8 390.22v11.63M583.3 390.22v11.63"/>
<path stroke="#bcdbeb" stroke-width="1.50" d="M369.6 33.90v11.63M432.1 33.90v11.63M458.3 33.90v11.63M478.6 33.90v11.63M480.1 33.90v11.63M509.1 33.90v11.63M519.3 33.90v11.63M549.8 33.90v11.63M600.7 33.90v11.63M637.0 33.90v11.63M414.7 45.53v11.63M439.4 45.53v11.63M456.8 45.53v11.63M549.8 45.53v11.63M587.6 45.53v11.63M573.1 68.79v11.63M411.8 92.05v11.63M443.7 92.05v11.63M480.1 92.05v11.63M515.0 92.05v11.63M573.1 92.05v11.63M576.0 92.05v11.63M589.1 92.05v11.63M641.4 92.05v11.63M385.6 126.94v11.63M430.6 126.94v11.63M435.0 126.94v11.63M452.5 126.94v11.63M493.1 126.94v11.63M501.9 126.94v11.63M519.3 126.94v11.63M522.2 126.94v11.63M552.7 126.94v11.63M554.2 126.94v11.63M576.0 126.94v11.63M615.2 126.94v11.63M647.2 126.94v11.63M432.1 150.20v11.63M483.0 150.20v11.63M499.0 150.20v11.63M507.7 150.20v11.63M509.1 150.20v11.63M535.3 150.20v11.63M536.8 150.20v11.63M541.1 150.20v11.63M583.3 150.20v11.63M411.8 161.83v11.63M426.3 161.83v11.63M493.1 161.83v11.63M536.8 161.83v11.63M542.6 161.83v11.63M558.6 161.83v11.63M597.8 161.83v11.63M610.9 161.83v11.63M619.6 161.83v11.63M596.3 185.09v11.63M629.8 185.09v11.63M423.4 208.35v11.63M430.6 208.35v11.63M554.2 208.35v11.63M363.8 227.40v11.63M378.3 227.40v11.63M411.8 227.40v11.63M437.9 227.40v11.63M455.4 227.40v11.63M468.4 227.40v11.63M480.1 227.40v11.63M570.2 227.40v11.63M577.5 227.40v11.63M587.6 227.40v11.63M629.8 227.40v11.63M641.4 227.40v11.63M372.5 250.66v11.63M462.6 250.66v11.63M590.5 250.66v11.63M602.2 250.66v11.63M417.6 273.92v11.63M427.7 273.92v11.63M494.6 273.92v11.63M532.4 273.92v11.63M552.7 273.92v11.63M613.8 273.92v11.63M634.1 273.92v11.63M363.8 285.55v11.63M387.0 285.55v11.63M400.1 285.55v11.63M405.9 285.55v11.63M410.3 285.55v11.63M455.4 285.55v11.63M458.3 285.55v11.63M493.1 285.55v11.63M501.9 285.55v11.63M503.3 285.55v11.63M522.2 285.55v11.63M551.3 285.55v11.63M554.2 285.55v11.63M593.4 285.55v11.63M610.9 285.55v11.63M465.5 297.18v11.63M541.1 297.18v11.63M548.4 297.18v11.63M631.2 297.18v11.63M635.6 297.18v11.63M641.4 297.18v11.63M642.9 297.18v11.63M644.3 297.18v11.63M362.3 308.81v11.63M414.7 308.81v11.63M417.6 308.81v11.63M433.6 308.81v11.63M478.6 308.81v11.63M490.2 308.81v11.63M529.5 308.81v11.63M542.6 308.81v11.63M551.3 308.81v11.63M568.7 308.81v11.63M621.1 308.81v11.63M624.0 308.81v11.63M634.1 308.81v11.63M512.0 332.07v11.63M411.8 355.33v11.63M526.6 355.33v11.63M546.9 355.33v11.63M583.3 355.33v11.63M366.7 378.59v11.63M388.5 378.59v11.63M392.9 378.59v11.63M432.1 378.59v11.63M443.7 378.59v11.63M455.4 378.59v11.63M592.0 378.59v11.63M608.0 378.59v11.63M645.8 378.59v11.63M374.0 390.22v11.63M417.6 390.22v11.63M419.0 390.22v11.63M497.5 390.22v11.63M520.8 390.22v11.63M578.9 390.22v11.63M593.4 390.22v11.63M602.2 390.22v11.63M613.8 390.22v11.63"/>
<path stroke="#73a2cc" stroke-width="1.50" d="M371.1 33.90v11.63M407.4 33.90v11.63M408.8 33.90v11.63M446.6 33.90v11.63M461.2 33.90v11.63M501.9 33.90v11.63M513.5 33.90v11.63M638.5 33.90v11.63M371.1 45.53v11.63M392.9 45.53v11.63M404.5 45.53v11.63M485.9 45.53v11.63M513.5 45.53v11.63M606.5 45.53v11.63M429.2 57.16v11.63M480.1 57.16v11.63M487.3 57.16v11.63M499.0 57.16v11.63M507.7 57.16v11.63M532.4 57.16v11.63M539.7 57.16v11.63M541.1 57.16v11.63M584.7 57.16v11.63M610.9 57.16v11.63M613.8 57.16v11.63M616.7 57.16v11.63M622.5 57.16v11.63M360.9 68.79v11.63M362.3 68.79v11.63M390.0 68.79v11.63M398.7 68.79v11.63M427.7 68.79v11.63M439.4 68.79v11.63M459.7 68.79v11.63M464.1 68.79v11.63M468.4 68.79v11.63M472.8 68.79v11.63M485.9 68.79v11.63M497.5 68.79v11.63M517.9 68.79v11.63M535.3 68.79v11.63M584.7 68.79v11.63M586.2 68.79v11.63M600.7 68.79v11.63M603.6 68.79v11.63M610.9 68.79v11.63M621.1 68.79v11.63M624.0 68.79v11.63M440.8 80.42v11.63M548.4 80.42v11.63M619.6 80.42v11.63M628.3 80.42v11.63M631.2 80.42v11.63M647.2 80.42v11.63M359.4 92.05v11.63M401.6 92.05v11.63M404.5 92.05v11.63M407.4 92.05v11.63M414.7 92.05v11.63M496.1 92.05v11.63M504.8 92.05v11.63M512.0 92.05v11.63M536.8 92.05v11.63M603.6 92.05v11.63M375.4 103.68v11.63M414.7 103.68v11.63M484.4 103.68v11.63M493.1 103.68v11.63M497.5 103.68v11.63M501.9 103.68v11.63M507.7 103.68v11.63M516.4 103.68v11.63M529.5 103.68v11.63M532.4 103.68v11.63M548.4 103.68v11.63M549.8 103.68v11.63M600.7 103.68v11.63M603.6 103.68v11.63M610.9 103.68v11.63M632.7 103.68v11.63M366.7 115.31v11.63M372.5 115.31v11.63M376.9 115.31v11.63M382.7 115.31v11.63M410.3 115.31v11.63M452.5 115.31v11.63M471.3 115.31v11.63M472.8 115.31v11.63M475.7 115.31v11.63M478.6 115.31v11.63M488.8 115.31v11.63M506.2 115.31v11.63M509.1 115.31v11.63M548.4 115.31v11.63M551.3 115.31v11.63M558.6 115.31v11.63M564.4 115.31v11.63M586.2 115.31v11.63M589.1 115.31v11.63M610.9 115.31v11.63M624.0 115.31v11.63M625.4 115.31v11.63M640.0 115.31v11.63M641.4 115.31v11.63M648.7 115.31v11.63M375.4 138.57v11.63M401.6 138.57v11.63M440.8 138.57v11.63M477.2 138.57v11.63M509.1 138.57v11.63M528.0 138.57v11.63M535.3 138.57v11.63M538.2 138.57v11.63M574.5 138.57v11.63M618.1 138.57v11.63M372.5 150.20v11.63M378.3 150.20v11.63M387.0 150.20v11.63M395.8 150.20v11.63M416.1 150.20v11.63M427.7 150.20v11.63M488.8 150.20v11.63M517.9 150.20v11.63M542.6 150.20v11.63M551.3 150.20v11.63M562.9 150.20v11.63M612.3 150.20v11.63M622.5 150.20v11.63M624.0 150.20v11.63M362.3 161.83v11.63M366.7 161.83v11.63M385.6 161.83v11.63M398.7 161.83v11.63M405.9 161.83v11.63M512.0 161.83v11.63M587.6 161.83v11.63M421.9 173.46v11.63M469.9 173.46v11.63M474.3 173.46v11.63M515.0 173.46v11.63M539.7 173.46v11.63M565.8 173.46v11.63M637.0 173.46v11.63M642.9 173.46v11.63M360.9 185.09v11.63M379.8 185.09v11.63M397.2 185.09v11.63M419.0 185.09v11.63M439.4 185.09v11.63M504.8 185.09v11.63M513.5 185.09v11.63M520.8 185.09v11.63M545.5 185.09v11.63M555.6 185.09v11.63M570.2 185.09v11.63M610.9 185.09v11.63M475.7 196.72v11.63M481.5 196.72v11.63M484.4 196.72v11.63M487.3 196.72v11.63M515.0 196.72v11.63M516.4 196.72v11.63M522.2 196.72v11.63M618.1 196.72v11.63M625.4 196.72v11.63M645.8 196.72v11.63M405.9 208.35v11.63M382.7 227.40v11.63M359.4 250.66v11.63M368.1 250.66v11.63M382.7 250.66v11.63M390.0 250.66v11.63M410.3 250.66v11.63M414.7 250.66v11.63M448.1 250.66v11.63M512.0 250.66v11.63M530.9 250.66v11.63M542.6 250.66v11.63M599.3 250.66v11.63M613.8 250.66v11.63M371.1 262.29v11.63M388.5 262.29v11.63M390.0 262.29v11.63M410.3 262.29v11.63M443.7 262.29v11.63M451.0 262.29v11.63M452.5 262.29v11.63M499.0 262.29v11.63M509.1 262.29v11.63M536.8 262.29v11.63M548.4 262.29v11.63M603.6 262.29v11.63M647.2 262.29v11.63M360.9 273.92v11.63M363.8 273.92v11.63M414.7 273.92v11.63M421.9 273.92v11.63M522.2 273.92v11.63M526.6 273.92v11.63M549.8 273.92v11.63M564.4 273.92v11.63M647.2 273.92v11.63M419.0 285.55v11.63M446.6 285.55v11.63M477.2 285.55v11.63M497.5 285.55v11.63M533.8 285.55v11.63M578.9 285.55v11.63M581.8 285.55v11.63M628.3 285.55v11.63M635.6 285.55v11.63M382.7 308.81v11.63M397.2 308.81v11.63M404.5 308.81v11.63M506.2 308.81v11.63M515.0 308.81v11.63M516.4 308.81v11.63M519.3 308.81v11.63M525.1 308.81v11.63M583.3 308.81v11.63M590.5 308.81v11.63M618.1 308.81v11.63M628.3 308.81v11.63M631.2 308.81v11.63M641.4 308.81v11.63M374.0 332.07v11.63M381.2 332.07v11.63M385.6 332.07v11.63M419.0 332.07v11.63M432.1 332.07v11.63M435.0 332.07v11.63M437.9 332.07v11.63M516.4 332.07v11.63M517.9 332.07v11.63M555.6 332.07v11.63M567.3 332.07v11.63M577.5 332.07v11.63M359.4 366.96v11.63M390.0 366.96v11.63M403.0 366.96v11.63M420.5 366.96v11.63M437.9 366.96v11.63M458.3 366.96v11.63M464.1 366.96v11.63M530.9 366.96v11.63M539.7 366.96v11.63M555.6 366.96v11.63M564.4 366.96v11.63M375.4 378.59v11.63M471.3 378.59v11.63M539.7 378.59v11.63M555.6 378.59v11.63M561.5 378.59v11.63M562.9 378.59v11.63M565.8 378.59v11.63M597.8 378.59v11.63M606.5 378.59v11.63M641.4 378.59v11.63M644.3 378.59v11.63M484.4 390.22v11.63M501.9 390.22v11.63M526.6 390.22v11.63M596.3 390.22v11.63M641.4 390.22v11.63"/>
<path stroke="#a8cee3" stroke-width="1.50" d="M374.0 33.90v11.63M417.6 33.90v11.63M499.0 33.90v11.63M557.1 33.90v11.63M589.1 33.90v11.63M590.5 33.90v11.63M619.6 33.90v11.63M362.3 45.53v11.63M398.7 45.53v11.63M442.3 45.53v11.63M455.4 45.53v11.63M478.6 45.53v11.63M488.8 45.53v11.63M544.0 45.53v11.63M589.1 45.53v11.63M592.0 45.53v11.63M610.9 45.53v11.63M621.1 45.53v11.63M648.7 45.53v11.63M526.6 68.79v11.63M548.4 68.79v11.63M567.3 68.79v11.63M597.8 68.79v11.63M606.5 68.79v11.63M641.4 68.79v11.63M390.0 92.05v11.63M429.2 92.05v11.63M433.6 92.05v11.63M435.0 92.05v11.63M468.4 92.05v11.63M535.3 92.05v11.63M606.5 92.05v11.63M625.4 92.05v11.63M632.7 92.05v11.63M647.2 92.05v11.63M404.5 126.94v11.63M410.3 126.94v11.63M436.5 126.94v11.63M446.6 126.94v11.63M504.8 126.94v11.63M544.0 126.94v11.63M602.2 126.94v11.63M622.5 126.94v11.63M637.0 126.94v11.63M642.9 138.57v11.63M384.1 150.20v11.63M424.8 150.20v11.63M443.7 150.20v11.63M480.1 150.20v11.63M500.4 150.20v11.63M545.5 150.20v11.63M546.9 150.20v11.63M565.8 150.20v11.63M570.2 150.20v11.63M580.4 150.20v11.63M631.2 150.20v11.63M648.7 150.20v11.63M360.9 161.83v11.63M379.8 161.83v11.63M424.8 161.83v11.63M456.8 161.83v11.63M481.5 161.83v11.63M483.0 161.83v11.63M487.3 161.83v11.63M491.7 161.83v11.63M517.9 161.83v11.63M529.5 161.83v11.63M545.5 161.83v11.63M568.7 161.83v11.63M622.5 161.83v11.63M626.9 161.83v11.63M641.4 161.83v11.63M468.4 173.46v11.63M561.5 185.09v11.63M619.6 185.09v11.63M408.8 208.35v11.63M445.2 208.35v11.63M510.6 208.35v11.63M552.7 208.35v11.63M638.5 208.35v11.63M374.0 227.40v11.63M397.2 227.40v11.63M440.8 227.40v11.63M516.4 227.40v11.63M535.3 227.40v11.63M574.5 227.40v11.63M632.7 227.40v11.63M374.0 250.66v11.63M385.6 250.66v11.63M403.0 250.66v11.63M408.8 250.66v11.63M416.1 250.66v11.63M417.6 250.66v11.63M443.7 250.66v11.63M445.2 250.66v11.63M455.4 250.66v11.63M551.3 250.66v11.63M571.6 250.66v11.63M510.6 262.29v11.63M594.9 262.29v11.63M608.0 262.29v11.63M430.6 273.92v11.63M448.1 273.92v11.63M451.0 273.92v11.63M478.6 273.92v11.63M496.1 273.92v11.63M510.6 273.92v11.63M513.5 273.92v11.63M539.7 273.92v11.63M554.2 273.92v11.63M590.5 273.92v11.63M594.9 273.92v11.63M621.1 273.92v11.63M632.7 273.92v11.63M637.0 273.92v11.63M390.0 285.55v11.63M420.5 285.55v11.63M426.3 285.55v11.63M430.6 285.55v11.63M452.5 285.55v11.63M515.0 285.55v11.63M536.8 285.55v11.63M538.2 285.55v11.63M613.8 285.55v11.63M618.1 285.55v11.63M642.9 285.55v11.63M645.8 285.55v11.63M590.5 297.18v11.63M622.5 297.18v11.63M628.3 297.18v11.63M391.4 308.81v11.63M394.3 308.81v11.63M395.8 308.81v11.63M401.6 308.81v11.63M410.3 308.81v11.63M421.9 308.81v11.63M423.4 308.81v11.63M480.1 308.81v11.63M485.9 308.81v11.63M491.7 308.81v11.63M552.7 308.81v11.63M570.2 308.81v11.63M593.4 308.81v11.63M622.5 308.81v11.63M597.8 355.33v11.63M368.1 378.59v11.63M372.5 378.59v11.63M394.3 378.59v11.63M395.8 378.59v11.63M410.3 378.59v11.63M439.4 378.59v11.63M468.4 378.59v11.63M478.6 378.59v11.63M510.6 378.59v11.63M520.8 378.59v11.63M522.2 378.59v11.63M523.7 378.59v11.63M532.4 378.59v11.63M580.4 378.59v11.63M602.2 378.59v11.63M375.4 390.22v11.63M376.9 390.22v11.63M413.2 390.22v11.63M426.3 390.22v11.63M442.3 390.22v11.63M490.2 390.22v11.63M558.6 390.22v11.63M586.2 390.22v11.63M621.1 390.22v11.63"/>
<path stroke="#7aa8cf" stroke-width="1.50" d="M375.4 33.90v11.63M388.5 33.90v11.63M404.5 33.90v11.63M471.3 33.90v11.63M500.4 33.90v11.63M522.2 33.90v11.63M544.0 33.90v11.63M387.0 45.53v11.63M391.4 45.53v11.63M410.3 45.53v11.63M420.5 45.53v11.63M465.5 45.53v11.63M571.6 45.53v11.63M637.0 45.53v11.63M597.8 57.16v11.63M618.1 57.16v11.63M385.6 68.79v11.63M440.8 68.79v11.63M456.8 68.79v11.63M471.3 68.79v11.63M500.4 68.79v11.63M503.3 68.79v11.63M509.1 68.79v11.63M522.2 68.79v11.63M544.0 68.79v11.63M557.1 68.79v11.63M625.4 68.79v11.63M472.8 80.42v11.63M541.1 80.42v11.63M546.9 80.42v11.63M597.8 80.42v11.63M616.7 80.42v11.63M640.0 80.42v11.63M363.8 92.05v11.63M375.4 92.05v11.63M398.7 92.05v11.63M405.9 92.05v11.63M424.8 92.05v11.63M445.2 92.05v11.63M494.6 92.05v11.63M506.2 92.05v11.63M513.5 92.05v11.63M522.2 92.05v11.63M580.4 92.05v11.63M638.5 92.05v11.63M413.2 103.68v11.63M449.5 103.68v11.63M483.0 103.68v11.63M488.8 103.68v11.63M491.7 103.68v11.63M503.3 103.68v11.63M526.6 103.68v11.63M528.0 103.68v11.63M536.8 103.68v11.63M538.2 103.68v11.63M539.7 103.68v11.63M545.5 103.68v11.63M567.3 103.68v11.63M576.0 103.68v11.63M612.3 103.68v11.63M616.7 103.68v11.63M628.3 103.68v11.63M648.7 103.68v11.63M371.1 115.31v11.63M384.1 115.31v11.63M449.5 115.31v11.63M464.1 115.31v11.63M481.5 115.31v11.63M485.9 115.31v11.63M500.4 115.31v11.63M517.9 115.31v11.63M528.0 115.31v11.63M546.9 115.31v11.63M549.8 115.31v11.63M612.3 115.31v11.63M621.1 115.31v11.63M455.4 138.57v11.63M459.7 138.57v11.63M465.5 138.57v11.63M471.3 138.57v11.63M472.8 138.57v11.63M481.5 138.57v11.63M516.4 138.57v11.63M568.7 138.57v11.63M634.1 138.57v11.63M641.4 138.57v11.63M374.0 150.20v11.63M385.6 150.20v11.63M407.4 150.20v11.63M436.5 150.20v11.63M561.5 150.20v11.63M564.4 150.20v11.63M574.5 150.20v11.63M586.2 150.20v11.63M640.0 150.20v11.63M413.2 161.83v11.63M445.2 161.83v11.63M472.8 161.83v11.63M480.1 161.83v11.63M525.1 161.83v11.63M532.4 161.83v11.63M565.8 161.83v11.63M606.5 161.83v11.63M413.2 173.46v11.63M429.2 173.46v11.63M440.8 173.46v11.63M449.5 173.46v11.63M487.3 173.46v11.63M490.2 173.46v11.63M503.3 173.46v11.63M513.5 173.46v11.63M528.0 173.46v11.63M532.4 173.46v11.63M542.6 173.46v11.63M546.9 173.46v11.63M583.3 173.46v11.63M590.5 173.46v11.63M606.5 173.46v11.63M610.9 173.46v11.63M618.1 173.46v11.63M421.9 185.09v11.63M442.3 185.09v11.63M448.1 185.09v11.63M462.6 185.09v11.63M471.3 185.09v11.63M478.6 185.09v11.63M501.9 185.09v11.63M516.4 185.09v11.63M532.4 185.09v11.63M542.6 185.09v11.63M562.9 185.09v11.63M606.5 185.09v11.63M621.1 185.09v11.63M519.3 196.72v11.63M520.8 196.72v11.63M535.3 196.72v11.63M606.5 196.72v11.63M616.7 196.72v11.63M628.3 196.72v11.63M631.2 196.72v11.63M642.9 196.72v11.63M644.3 196.72v11.63M366.7 250.66v11.63M376.9 250.66v11.63M398.7 250.66v11.63M432.1 250.66v11.63M436.5 250.66v11.63M442.3 250.66v11.63M456.8 250.66v11.63M458.3 250.66v11.63M472.8 250.66v11.63M504.8 250.66v11.63M509.1 250.66v11.63M513.5 250.66v11.63M516.4 250.66v11.63M532.4 250.66v11.63M541.1 250.66v11.63M557.1 250.66v11.63M400.1 262.29v11.63M439.4 262.29v11.63M506.2 262.29v11.63M515.0 262.29v11.63M539.7 262.29v11.63M555.6 262.29v11.63M570.2 262.29v11.63M571.6 262.29v11.63M587.6 262.29v11.63M590.5 262.29v11.63M621.1 262.29v11.63M634.1 262.29v11.63M635.6 262.29v11.63M366.7 273.92v11.63M391.4 273.92v11.63M413.2 273.92v11.63M446.6 273.92v11.63M504.8 273.92v11.63M516.4 273.92v11.63M538.2 273.92v11.63M571.6 273.92v11.63M577.5 273.92v11.63M599.3 273.92v11.63M376.9 285.55v11.63M423.4 285.55v11.63M453.9 285.55v11.63M548.4 285.55v11.63M562.9 285.55v11.63M573.1 285.55v11.63M612.3 285.55v11.63M632.7 285.55v11.63M641.4 285.55v11.63M366.7 308.81v11.63M374.0 308.81v11.63M437.9 308.81v11.63M464.1 308.81v11.63M500.4 308.81v11.63M535.3 308.81v11.63M565.8 308.81v11.63M642.9 308.81v11.63M398.7 332.07v11.63M420.5 332.07v11.63M504.8 332.07v11.63M515.0 332.07v11.63M523.7 332.07v11.63M605.1 332.07v11.63M430.6 366.96v11.63M446.6 366.96v11.63M608.0 366.96v11.63M609.4 366.96v11.63M625.4 366.96v11.63M384.1 378.59v11.63M446.6 378.59v11.63M448.1 378.59v11.63M474.3 378.59v11.63M494.6 378.59v11.63M496.1 378.59v11.63M506.2 378.59v11.63M507.7 378.59v11.63M519.3 378.59v11.63M548.4 378.59v11.63M564.4 378.59v11.63M567.3 378.59v11.63M568.7 378.59v11.63M573.1 378.59v11.63M581.8 378.59v11.63M596.3 378.59v11.63M600.7 378.59v11.63M610.9 378.59v11.63M629.8 378.59v11.63M637.0 378.59v11.63M394.3 390.22v11.63M411.8 390.22v11.63M451.0 390.22v11.63M485.9 390.22v11.63M507.7 390.22v11.63"/>
<path stroke="#608fc2" stroke-width="1.50" d="M376.9 33.90v11.63M392.9 33.90v11.63M445.2 33.90v11.63M512.0 33.90v11.63M365.2 45.53v11.63M366.7 45.53v11.63M369.6 45.53v11.63M374.0 45.53v11.63M403.0 45.53v11.63M448.1 45.53v11.63M552.7 45.53v11.63M382.7 57.16v11.63M411.8 57.16v11.63M430.6 57.16v11.63M432.1 57.16v11.63M448.1 57.16v11.63M449.5 57.16v11.63M456.8 57.16v11.63M469.9 57.16v11.63M522.2 57.16v11.63M533.8 57.16v11.63M535.3 57.16v11.63M565.8 57.16v11.63M576.0 57.16v11.63M391.4 68.79v11.63M401.6 68.79v11.63M408.8 68.79v11.63M483.0 68.79v11.63M519.3 68.79v11.63M520.8 68.79v11.63M525.1 68.79v11.63M542.6 68.79v11.63M564.4 68.79v11.63M565.8 68.79v11.63M580.4 68.79v11.63M592.0 68.79v11.63M605.1 68.79v11.63M608.0 68.79v11.63M634.1 68.79v11.63M637.0 68.79v11.63M647.2 68.79v11.63M648.7 68.79v11.63M453.9 80.42v11.63M462.6 80.42v11.63M464.1 80.42v11.63M488.8 80.42v11.63M499.0 80.42v11.63M506.2 80.42v11.63M513.5 80.42v11.63M528.0 80.42v11.63M558.6 80.42v11.63M574.5 80.42v11.63M637.0 80.42v11.63M638.5 80.42v11.63M365.2 92.05v11.63M385.6 92.05v11.63M426.3 92.05v11.63M532.4 92.05v11.63M571.6 92.05v11.63M610.9 92.05v11.63M384.1 103.68v11.63M385.6 103.68v11.63M387.0 103.68v11.63M392.9 103.68v11.63M394.3 103.68v11.63M417.6 103.68v11.63M421.9 103.68v11.63M423.4 103.68v11.63M432.1 103.68v11.63M442.3 103.68v11.63M465.5 103.68v11.63M467.0 103.68v11.63M468.4 103.68v11.63M490.2 103.68v11.63M499.0 103.68v11.63M517.9 103.68v11.63M519.3 103.68v11.63M522.2 103.68v11.63M530.9 103.68v11.63M571.6 103.68v11.63M590.5 103.68v11.63M592.0 103.68v11.63M613.8 103.68v11.63M379.8 115.31v11.63M391.4 115.31v11.63M397.2 115.31v11.63M451.0 115.31v11.63M456.8 115.31v11.63M483.0 115.31v11.63M507.7 115.31v11.63M520.8 115.31v11.63M523.7 115.31v11.63M535.3 115.31v11.63M552.7 115.31v11.63M557.1 115.31v11.63M565.8 115.31v11.63M597.8 115.31v11.63M606.5 115.31v11.63M618.1 115.31v11.63M363.8 138.57v11.63M365.2 138.57v11.63M376.9 138.57v11.63M381.2 138.57v11.63M388.5 138.57v11.63M400.1 138.57v11.63M404.5 138.57v11.63M413.2 138.57v11.63M424.8 138.57v11.63M430.6 138.57v11.63M433.6 138.57v11.63M443.7 138.57v11.63M456.8 138.57v11.63M464.1 138.57v11.63M510.6 138.57v11.63M544.0 138.57v11.63M564.4 138.57v11.63M609.4 138.57v11.63M619.6 138.57v11.63M359.4 150.20v11.63M360.9 150.20v11.63M490.2 150.20v11.63M494.6 150.20v11.63M523.7 150.20v11.63M571.6 150.20v11.63M578.9 150.20v11.63M609.4 150.20v11.63M387.0 161.83v11.63M423.4 161.83v11.63M376.9 173.46v11.63M378.3 173.46v11.63M387.0 173.46v11.63M404.5 173.46v11.63M435.0 173.46v11.63M443.7 173.46v11.63M477.2 173.46v11.63M478.6 173.46v11.63M507.7 173.46v11.63M545.5 173.46v11.63M560.0 173.46v11.63M564.4 173.46v11.63M568.7 173.46v11.63M577.5 173.46v11.63M578.9 173.46v11.63M586.2 173.46v11.63M619.6 173.46v11.63M625.4 173.46v11.63M634.1 173.46v11.63M369.6 185.09v11.63M445.2 185.09v11.63M449.5 185.09v11.63M461.2 185.09v11.63M485.9 185.09v11.63M517.9 185.09v11.63M529.5 185.09v11.63M536.8 185.09v11.63M624.0 185.09v11.63M626.9 185.09v11.63M632.7 185.09v11.63M640.0 185.09v11.63M439.4 196.72v11.63M468.4 196.72v11.63M472.8 196.72v11.63M474.3 196.72v11.63M490.2 196.72v11.63M491.7 196.72v11.63M496.1 196.72v11.63M504.8 196.72v11.63M507.7 196.72v11.63M530.9 196.72v11.63M532.4 196.72v11.63M539.7 196.72v11.63M545.5 196.72v11.63M558.6 196.72v11.63M583.3 196.72v11.63M594.9 196.72v11.63M608.0 196.72v11.63M609.4 196.72v11.63M613.8 196.72v11.63M632.7 196.72v11.63M635.6 196.72v11.63M395.8 250.66v11.63M413.2 250.66v11.63M421.9 250.66v11.63M435.0 250.66v11.63M483.0 250.66v11.63M519.3 250.66v11.63M561.5 250.66v11.63M567.3 250.66v11.63M568.7 250.66v11.63M596.3 250.66v11.63M597.8 250.66v11.63M616.7 250.66v11.63M360.9 262.29v11.63M394.3 262.29v11.63M430.6 262.29v11.63M449.5 262.29v11.63M455.4 262.29v11.63M471.3 262.29v11.63M490.2 262.29v11.63M494.6 262.29v11.63M517.9 262.29v11.63M549.8 262.29v11.63M564.4 262.29v11.63M610.9 262.29v11.63M632.7 262.29v11.63M465.5 273.92v11.63M467.0 273.92v11.63M490.2 273.92v11.63M500.4 273.92v11.63M506.2 273.92v11.63M546.9 273.92v11.63M560.0 273.92v11.63M584.7 273.92v11.63M618.1 273.92v11.63M440.8 285.55v11.63M475.7 285.55v11.63M560.0 285.55v11.63M580.4 285.55v11.63M648.7 285.55v11.63M449.5 308.81v11.63M526.6 308.81v11.63M557.1 308.81v11.63M632.7 308.81v11.63M376.9 332.07v11.63M395.8 332.07v11.63M452.5 332.07v11.63M456.8 332.07v11.63M464.1 332.07v11.63M467.0 332.07v11.63M477.2 332.07v11.63M484.4 332.07v11.63M570.2 332.07v11.63M571.6 332.07v11.63M640.0 332.07v11.63M363.8 366.96v11.63M374.0 366.96v11.63M378.3 366.96v11.63M381.2 366.96v11.63M395.8 366.96v11.63M413.2 366.96v11.63M442.3 366.96v11.63M452.5 366.96v11.63M471.3 366.96v11.63M472.8 366.96v11.63M496.1 366.96v11.63M501.9 366.96v11.63M549.8 366.96v11.63M554.2 366.96v11.63M562.9 366.96v11.63M574.5 366.96v11.63M578.9 366.96v11.63M599.3 366.96v11.63M606.5 366.96v11.63M631.2 366.96v11.63M634.1 366.96v11.63M648.7 366.96v11.63M467.0 378.59v11.63M504.8 378.59v11.63M525.1 378.59v11.63M541.1 378.59v11.63M570.2 378.59v11.63M618.1 378.59v11.63M369.6 390.22v11.63M395.8 390.22v11.63M468.4 390.22v11.63"/>
<path stroke="#a1cae1" stroke-width="1.50" d="M378.3 33.90v11.63M410.3 33.90v11.63M435.0 33.90v11.63M580.4 33.90v11.63M593.4 33.90v11.63M458.3 45.53v11.63M468.4 45.53v11.63M483.0 45.53v11.63M493.1 45.53v11.63M503.3 45.53v11.63M504.8 45.53v11.63M515.0 45.53v11.63M522.2 45.53v11.63M625.4 45.53v11.63M642.9 57.16v11.63M487.3 68.79v11.63M528.0 68.79v11.63M533.8 68.79v11.63M378.3 92.05v11.63M432.1 92.05v11.63M439.4 92.05v11.63M475.7 92.05v11.63M491.7 92.05v11.63M493.1 92.05v11.63M558.6 92.05v11.63M561.5 92.05v11.63M583.3 92.05v11.63M586.2 92.05v11.63M631.2 92.05v11.63M546.9 103.68v11.63M372.5 126.94v11.63M391.4 126.94v11.63M424.8 126.94v11.63M451.0 126.94v11.63M490.2 126.94v11.63M571.6 126.94v11.63M599.3 126.94v11.63M648.7 126.94v11.63M583.3 138.57v11.63M363.8 150.20v11.63M376.9 150.20v11.63M449.5 150.20v11.63M453.9 150.20v11.63M467.0 150.20v11.63M469.9 150.20v11.63M474.3 150.20v11.63M475.7 150.20v11.63M478.6 150.20v11.63M481.5 150.20v11.63M493.1 150.20v11.63M522.2 150.20v11.63M525.1 150.20v11.63M528.0 150.20v11.63M538.2 150.20v11.63M567.3 150.20v11.63M382.7 161.83v11.63M388.5 161.83v11.63M435.0 161.83v11.63M436.5 161.83v11.63M459.7 161.83v11.63M500.4 161.83v11.63M501.9 161.83v11.63M507.7 161.83v11.63M509.1 161.83v11.63M515.0 161.83v11.63M564.4 161.83v11.63M573.1 161.83v11.63M590.5 161.83v11.63M638.5 161.83v11.63M465.5 185.09v11.63M528.0 185.09v11.63M533.8 185.09v11.63M541.1 185.09v11.63M560.0 185.09v11.63M568.7 185.09v11.63M368.1 208.35v11.63M400.1 208.35v11.63M410.3 208.35v11.63M461.2 208.35v11.63M384.1 227.40v11.63M475.7 227.40v11.63M483.0 227.40v11.63M522.2 227.40v11.63M528.0 227.40v11.63M538.2 227.40v11.63M581.8 227.40v11.63M362.3 250.66v11.63M379.8 250.66v11.63M523.7 250.66v11.63M554.2 250.66v11.63M555.6 250.66v11.63M600.7 250.66v11.63M387.0 262.29v11.63M421.9 262.29v11.63M512.0 262.29v11.63M523.7 262.29v11.63M606.5 262.29v11.63M609.4 262.29v11.63M622.5 262.29v11.63M371.1 273.92v11.63M372.5 273.92v11.63M403.0 273.92v11.63M453.9 273.92v11.63M480.1 273.92v11.63M555.6 273.92v11.63M567.3 273.92v11.63M568.7 273.92v11.63M581.8 273.92v11.63M603.6 273.92v11.63M378.3 285.55v11.63M392.9 285.55v11.63M395.8 285.55v11.63M435.0 285.55v11.63M472.8 285.55v11.63M478.6 285.55v11.63M499.0 285.55v11.63M539.7 285.55v11.63M576.0 285.55v11.63M590.5 285.55v11.63M634.1 285.55v11.63M647.2 285.55v11.63M528.0 297.18v11.63M593.4 297.18v11.63M430.6 308.81v11.63M445.2 308.81v11.63M446.6 308.81v11.63M448.1 308.81v11.63M451.0 308.81v11.63M474.3 308.81v11.63M494.6 308.81v11.63M513.5 308.81v11.63M539.7 308.81v11.63M560.0 308.81v11.63M606.5 308.81v11.63M640.0 308.81v11.63M644.3 308.81v11.63M436.5 332.07v11.63M533.8 355.33v11.63M400.1 366.96v11.63M385.6 378.59v11.63M397.2 378.59v11.63M417.6 378.59v11.63M423.4 378.59v11.63M430.6 378.59v11.63M452.5 378.59v11.63M456.8 378.59v11.63M458.3 378.59v11.63M462.6 378.59v11.63M464.1 378.59v11.63M483.0 378.59v11.63M509.1 378.59v11.63M530.9 378.59v11.63M605.1 378.59v11.63M613.8 378.59v11.63M615.2 378.59v11.63M622.5 378.59v11.63M647.2 378.59v11.63M452.5 390.22v11.63M506.2 390.22v11.63M549.8 390.22v11.63M574.5 390.22v11.63M580.4 390.22v11.63M644.3 390.22v11.63"/>
<path stroke="#9ac5de" stroke-width="1.50" d="M381.2 33.90v11.63M416.1 33.90v11.63M419.0 33.90v11.63M433.6 33.90v11.63M477.2 33.90v11.63M487.3 33.90v11.63M491.7 33.90v11.63M504.8 33.90v11.63M530.9 33.90v11.63M561.5 33.90v11.63M567.3 33.90v11.63M624.0 33.90v11.63M423.4 45.53v11.63M437.9 45.53v11.63M440.8 45.53v11.63M443.7 45.53v11.63M480.1 45.53v11.63M491.7 45.53v11.63M501.9 45.53v11.63M519.3 45.53v11.63M570.2 45.53v11.63M576.0 45.53v11.63M577.5 45.53v11.63M602.2 45.53v11.63M605.1 45.53v11.63M634.1 45.53v11.63M429.2 68.79v11.63M539.7 68.79v11.63M590.5 68.79v11.63M593.4 68.79v11.63M395.8 92.05v11.63M430.6 92.05v11.63M437.9 92.05v11.63M446.6 92.05v11.63M449.5 92.05v11.63M485.9 92.05v11.63M503.3 92.05v11.63M516.4 92.05v11.63M546.9 92.05v11.63M560.0 92.05v11.63M615.2 92.05v11.63M628.3 92.05v11.63M634.1 92.05v11.63M648.7 92.05v11.63M411.8 103.68v11.63M469.9 103.68v11.63M562.9 103.68v11.63M583.3 103.68v11.63M596.3 103.68v11.63M597.8 103.68v11.63M629.8 103.68v11.63M448.1 115.31v11.63M487.3 115.31v11.63M388.5 126.94v11.63M395.8 126.94v11.63M427.7 126.94v11.63M523.7 126.94v11.63M587.6 126.94v11.63M605.1 126.94v11.63M577.5 138.57v11.63M375.4 150.20v11.63M471.3 150.20v11.63M506.2 150.20v11.63M560.0 150.20v11.63M581.8 150.20v11.63M600.7 150.20v11.63M608.0 150.20v11.63M610.9 150.20v11.63M642.9 150.20v11.63M401.6 161.83v11.63M417.6 161.83v11.63M433.6 161.83v11.63M446.6 161.83v11.63M496.1 161.83v11.63M513.5 161.83v11.63M528.0 161.83v11.63M618.1 161.83v11.63M647.2 161.83v11.63M526.6 173.46v11.63M376.9 185.09v11.63M464.1 185.09v11.63M480.1 185.09v11.63M487.3 185.09v11.63M538.2 185.09v11.63M546.9 185.09v11.63M644.3 185.09v11.63M371.1 208.35v11.63M488.8 227.40v11.63M490.2 227.40v11.63M515.0 227.40v11.63M567.3 227.40v11.63M597.8 227.40v11.63M381.2 250.66v11.63M400.1 250.66v11.63M404.5 250.66v11.63M405.9 250.66v11.63M424.8 250.66v11.63M427.7 250.66v11.63M453.9 250.66v11.63M465.5 250.66v11.63M573.1 250.66v11.63M593.4 250.66v11.63M609.4 250.66v11.63M621.1 250.66v11.63M625.4 250.66v11.63M385.6 262.29v11.63M419.0 262.29v11.63M435.0 262.29v11.63M522.2 262.29v11.63M637.0 262.29v11.63M365.2 273.92v11.63M390.0 273.92v11.63M440.8 273.92v11.63M493.1 273.92v11.63M551.3 273.92v11.63M580.4 273.92v11.63M586.2 273.92v11.63M471.3 285.55v11.63M474.3 285.55v11.63M504.8 285.55v11.63M519.3 285.55v11.63M520.8 285.55v11.63M529.5 285.55v11.63M592.0 285.55v11.63M600.7 285.55v11.63M603.6 285.55v11.63M368.1 308.81v11.63M390.0 308.81v11.63M432.1 308.81v11.63M435.0 308.81v11.63M443.7 308.81v11.63M453.9 308.81v11.63M465.5 308.81v11.63M472.8 308.81v11.63M520.8 308.81v11.63M548.4 308.81v11.63M584.7 308.81v11.63M619.6 308.81v11.63M371.1 332.07v11.63M387.0 332.07v11.63M400.1 332.07v11.63M417.6 332.07v11.63M433.6 332.07v11.63M622.5 332.07v11.63M436.5 366.96v11.63M462.6 366.96v11.63M512.0 366.96v11.63M638.5 366.96v11.63M374.0 378.59v11.63M436.5 378.59v11.63M551.3 378.59v11.63M552.7 378.59v11.63M593.4 378.59v11.63M635.6 378.59v11.63M384.1 390.22v11.63M392.9 390.22v11.63M397.2 390.22v11.63M440.8 390.22v11.63M446.6 390.22v11.63M449.5 390.22v11.63M458.3 390.22v11.63M469.9 390.22v11.63M477.2 390.22v11.63M481.5 390.22v11.63M499.0 390.22v11.63M557.1 390.22v11.63M567.3 390.22v11.63M590.5 390.22v11.63M603.6 390.22v11.63M612.3 390.22v11.63M616.7 390.22v11.63M631.2 390.22v11.63M640.0 390.22v11.63"/>
<path stroke="#d0e8f2" stroke-width="1.50" d="M382.7 33.90v11.63M520.8 33.90v11.63M536.8 33.90v11.63M545.5 33.90v11.63M546.9 33.90v11.63M560.0 33.90v11.63M574.5 33.90v11.63M641.4 33.90v11.63M375.4 45.53v11.63M382.7 45.53v11.63M384.1 45.53v11.63M528.0 45.53v11.63M603.6 45.53v11.63M388.5 92.05v11.63M481.5 92.05v11.63M567.3 92.05v11.63M574.5 92.05v11.63M381.2 126.94v11.63M401.6 126.94v11.63M414.7 126.94v11.63M417.6 126.94v11.63M420.5 126.94v11.63M421.9 126.94v11.63M429.2 126.94v11.63M432.1 126.94v11.63M437.9 126.94v11.63M458.3 126.94v11.63M462.6 126.94v11.63M467.0 126.94v11.63M469.9 126.94v11.63M510.6 126.94v11.63M517.9 126.94v11.63M529.5 126.94v11.63M532.4 126.94v11.63M539.7 126.94v11.63M549.8 126.94v11.63M583.3 126.94v11.63M593.4 126.94v11.63M600.7 126.94v11.63M606.5 126.94v11.63M625.4 126.94v11.63M638.5 126.94v11.63M394.3 150.20v11.63M440.8 150.20v11.63M596.3 150.20v11.63M469.9 161.83v11.63M475.7 161.83v11.63M497.5 161.83v11.63M541.1 161.83v11.63M557.1 161.83v11.63M567.3 161.83v11.63M589.1 161.83v11.63M632.7 161.83v11.63M644.3 161.83v11.63M360.9 208.35v11.63M372.5 208.35v11.63M394.3 208.35v11.63M452.5 208.35v11.63M499.0 208.35v11.63M501.9 208.35v11.63M509.1 208.35v11.63M592.0 208.35v11.63M608.0 208.35v11.63M619.6 208.35v11.63M637.0 208.35v11.63M647.2 208.35v11.63M398.7 227.40v11.63M414.7 227.40v11.63M419.0 227.40v11.63M432.1 227.40v11.63M442.3 227.40v11.63M453.9 227.40v11.63M467.0 227.40v11.63M539.7 227.40v11.63M592.0 227.40v11.63M613.8 227.40v11.63M616.7 227.40v11.63M628.3 227.40v11.63M592.0 250.66v11.63M523.7 273.92v11.63M530.9 273.92v11.63M608.0 273.92v11.63M615.2 273.92v11.63M366.7 285.55v11.63M494.6 285.55v11.63M544.0 285.55v11.63M624.0 285.55v11.63M359.4 297.18v11.63M369.6 297.18v11.63M375.4 297.18v11.63M426.3 297.18v11.63M471.3 297.18v11.63M481.5 297.18v11.63M490.2 297.18v11.63M500.4 297.18v11.63M507.7 297.18v11.63M522.2 297.18v11.63M525.1 297.18v11.63M557.1 297.18v11.63M561.5 297.18v11.63M564.4 297.18v11.63M570.2 297.18v11.63M610.9 297.18v11.63M405.9 308.81v11.63M416.1 308.81v11.63M427.7 308.81v11.63M462.6 308.81v11.63M605.1 308.81v11.63M609.4 308.81v11.63M382.7 355.33v11.63M475.7 355.33v11.63M596.3 355.33v11.63M641.4 355.33v11.63M624.0 378.59v11.63M381.2 390.22v11.63M455.4 390.22v11.63M515.0 390.22v11.63M522.2 390.22v11.63M530.9 390.22v11.63M554.2 390.22v11.63M592.0 390.22v11.63M609.4 390.22v11.63M622.5 390.22v11.63"/>
<path stroke="#aed2e6" stroke-width="1.50" d="M384.1 33.90v11.63M437.9 33.90v11.63M440.8 33.90v11.63M442.3 33.90v11.63M576.0 33.90v11.63M581.8 33.90v11.63M602.2 33.90v11.63M621.1 33.90v11.63M395.8 45.53v11.63M461.2 45.53v11.63M490.2 45.53v11.63M517.9 45.53v11.63M539.7 45.53v11.63M593.4 45.53v11.63M626.9 45.53v11.63M632.7 45.53v11.63M446.6 68.79v11.63M538.2 68.79v11.63M546.9 68.79v11.63M576.0 68.79v11.63M376.9 92.05v11.63M442.3 92.05v11.63M565.8 92.05v11.63M584.7 92.05v11.63M590.5 92.05v11.63M359.4 126.94v11.63M405.9 126.94v11.63M423.4 126.94v11.63M461.2 126.94v11.63M471.3 126.94v11.63M513.5 126.94v11.63M635.6 126.94v11.63M430.6 150.20v11.63M439.4 150.20v11.63M568.7 150.20v11.63M589.1 150.20v11.63M590.5 150.20v11.63M599.3 150.20v11.63M452.5 161.83v11.63M461.2 161.83v11.63M490.2 161.83v11.63M494.6 161.83v11.63M522.2 161.83v11.63M539.7 161.83v11.63M544.0 161.83v11.63M628.3 161.83v11.63M637.0 161.83v11.63M574.5 185.09v11.63M363.8 208.35v11.63M392.9 208.35v11.63M395.8 208.35v11.63M397.2 208.35v11.63M404.5 208.35v11.63M407.4 208.35v11.63M477.2 208.35v11.63M523.7 208.35v11.63M565.8 208.35v11.63M587.6 208.35v11.63M369.6 227.40v11.63M452.5 227.40v11.63M491.7 227.40v11.63M526.6 227.40v11.63M557.1 227.40v11.63M565.8 227.40v11.63M578.9 227.40v11.63M583.3 227.40v11.63M589.1 227.40v11.63M626.9 227.40v11.63M635.6 227.40v11.63M493.1 250.66v11.63M496.1 250.66v11.63M536.8 250.66v11.63M552.7 250.66v11.63M619.6 250.66v11.63M647.2 250.66v11.63M544.0 262.29v11.63M381.2 273.92v11.63M439.4 273.92v11.63M452.5 273.92v11.63M542.6 273.92v11.63M562.9 273.92v11.63M626.9 273.92v11.63M391.4 285.55v11.63M398.7 285.55v11.63M416.1 285.55v11.63M456.8 285.55v11.63M465.5 285.55v11.63M484.4 285.55v11.63M485.9 285.55v11.63M500.4 285.55v11.63M509.1 285.55v11.63M523.7 285.55v11.63M587.6 285.55v11.63M594.9 285.55v11.63M605.1 285.55v11.63M609.4 285.55v11.63M455.4 297.18v11.63M562.9 297.18v11.63M573.1 297.18v11.63M584.7 297.18v11.63M599.3 297.18v11.63M640.0 297.18v11.63M648.7 297.18v11.63M392.9 308.81v11.63M403.0 308.81v11.63M442.3 308.81v11.63M530.9 308.81v11.63M576.0 308.81v11.63M594.9 308.81v11.63M635.6 308.81v11.63M403.0 332.07v11.63M626.9 355.33v11.63M362.3 378.59v11.63M363.8 378.59v11.63M400.1 378.59v11.63M403.0 378.59v11.63M404.5 378.59v11.63M405.9 378.59v11.63M408.8 378.59v11.63M419.0 378.59v11.63M445.2 378.59v11.63M453.9 378.59v11.63M544.0 378.59v11.63M590.5 378.59v11.63M619.6 378.59v11.63M625.4 378.59v11.63M363.8 390.22v11.63M414.7 390.22v11.63M430.6 390.22v11.63M453.9 390.22v11.63M465.5 390.22v11.63M474.3 390.22v11.63M510.6 390.22v11.63M561.5 390.22v11.63M573.1 390.22v11.63M576.0 390.22v11.63M605.1 390.22v11.63M634.1 390.22v11.63M637.0 390.22v11.63M645.8 390.22v11.63"/>
<path stroke="#94c1dc" stroke-width="1.50" d="M385.6 33.90v11.63M394.3 33.90v11.63M420.5 33.90v11.63M421.9 33.90v11.63M423.4 33.90v11.63M456.8 33.90v11.63M459.7 33.90v11.63M468.4 33.90v11.63M525.1 33.90v11.63M529.5 33.90v11.63M532.4 33.90v11.63M554.2 33.90v11.63M562.9 33.90v11.63M388.5 45.53v11.63M424.8 45.53v11.63M467.0 45.53v11.63M469.9 45.53v11.63M471.3 45.53v11.63M509.1 45.53v11.63M619.6 45.53v11.63M624.0 45.53v11.63M378.3 68.79v11.63M397.2 68.79v11.63M449.5 68.79v11.63M465.5 68.79v11.63M469.9 68.79v11.63M480.1 68.79v11.63M499.0 68.79v11.63M545.5 68.79v11.63M555.6 68.79v11.63M589.1 68.79v11.63M411.8 80.42v11.63M526.6 80.42v11.63M596.3 80.42v11.63M618.1 80.42v11.63M382.7 92.05v11.63M440.8 92.05v11.63M471.3 92.05v11.63M484.4 92.05v11.63M507.7 92.05v11.63M519.3 92.05v11.63M529.5 92.05v11.63M548.4 92.05v11.63M564.4 92.05v11.63M568.7 92.05v11.63M570.2 92.05v11.63M613.8 92.05v11.63M616.7 92.05v11.63M640.0 92.05v11.63M645.8 92.05v11.63M480.1 103.68v11.63M533.8 103.68v11.63M561.5 103.68v11.63M468.4 115.31v11.63M596.3 115.31v11.63M632.7 115.31v11.63M647.2 115.31v11.63M608.0 126.94v11.63M609.4 126.94v11.63M449.5 138.57v11.63M499.0 138.57v11.63M519.3 138.57v11.63M520.8 138.57v11.63M644.3 138.57v11.63M366.7 150.20v11.63M390.0 150.20v11.63M423.4 150.20v11.63M448.1 150.20v11.63M456.8 150.20v11.63M462.6 150.20v11.63M465.5 150.20v11.63M484.4 150.20v11.63M491.7 150.20v11.63M501.9 150.20v11.63M516.4 150.20v11.63M520.8 150.20v11.63M549.8 150.20v11.63M558.6 150.20v11.63M618.1 150.20v11.63M414.7 161.83v11.63M430.6 161.83v11.63M503.3 161.83v11.63M519.3 161.83v11.63M562.9 161.83v11.63M624.0 161.83v11.63M629.8 161.83v11.63M645.8 161.83v11.63M382.7 173.46v11.63M467.0 173.46v11.63M475.7 173.46v11.63M488.8 173.46v11.63M538.2 173.46v11.63M597.8 173.46v11.63M629.8 173.46v11.63M644.3 173.46v11.63M382.7 185.09v11.63M414.7 185.09v11.63M467.0 185.09v11.63M506.2 185.09v11.63M507.7 185.09v11.63M526.6 185.09v11.63M583.3 185.09v11.63M612.3 185.09v11.63M648.7 185.09v11.63M474.3 227.40v11.63M533.8 227.40v11.63M546.9 227.40v11.63M644.3 227.40v11.63M388.5 250.66v11.63M407.4 250.66v11.63M471.3 250.66v11.63M517.9 250.66v11.63M546.9 250.66v11.63M603.6 250.66v11.63M608.0 250.66v11.63M628.3 250.66v11.63M632.7 250.66v11.63M634.1 250.66v11.63M637.0 250.66v11.63M642.9 250.66v11.63M363.8 262.29v11.63M372.5 262.29v11.63M403.0 262.29v11.63M458.3 262.29v11.63M605.1 262.29v11.63M435.0 273.92v11.63M442.3 273.92v11.63M445.2 273.92v11.63M497.5 273.92v11.63M565.8 273.92v11.63M616.7 273.92v11.63M619.6 273.92v11.63M625.4 273.92v11.63M631.2 273.92v11.63M436.5 285.55v11.63M439.4 285.55v11.63M483.0 285.55v11.63M507.7 285.55v11.63M516.4 285.55v11.63M574.5 285.55v11.63M597.8 285.55v11.63M599.3 285.55v11.63M631.2 285.55v11.63M526.6 297.18v11.63M363.8 308.81v11.63M378.3 308.81v11.63M381.2 308.81v11.63M384.1 308.81v11.63M387.0 308.81v11.63M452.5 308.81v11.63M475.7 308.81v11.63M481.5 308.81v11.63M493.1 308.81v11.63M496.1 308.81v11.63M503.3 308.81v11.63M541.1 308.81v11.63M562.9 308.81v11.63M564.4 308.81v11.63M567.3 308.81v11.63M647.2 308.81v11.63M648.7 308.81v11.63M390.0 332.07v11.63M385.6 366.96v11.63M571.6 366.96v11.63M401.6 378.59v11.63M407.4 378.59v11.63M426.3 378.59v11.63M451.0 378.59v11.63M477.2 378.59v11.63M512.0 378.59v11.63M515.0 378.59v11.63M529.5 378.59v11.63M549.8 378.59v11.63M571.6 378.59v11.63M648.7 378.59v11.63M368.1 390.22v11.63M378.3 390.22v11.63M432.1 390.22v11.63M528.0 390.22v11.63M533.8 390.22v11.63M538.2 390.22v11.63M544.0 390.22v11.63M560.0 390.22v11.63M565.8 390.22v11.63M577.5 390.22v11.63M606.5 390.22v11.63M619.6 390.22v11.63"/>
<path stroke="#5383bb" stroke-width="1.50" d="M391.4 33.90v11.63M608.0 33.90v11.63M360.9 45.53v11.63M512.0 45.53v11.63M378.3 57.16v11.63M388.5 57.16v11.63M390.0 57.16v11.63M395.8 57.16v11.63M413.2 57.16v11.63M421.9 57.16v11.63M433.6 57.16v11.63M440.8 57.16v11.63M443.7 57.16v11.63M465.5 57.16v11.63M481.5 57.16v11.63M484.4 57.16v11.63M496.1 57.16v11.63M509.1 57.16v11.63M517.9 57.16v11.63M530.9 57.16v11.63M567.3 57.16v11.63M580.4 57.16v11.63M587.6 57.16v11.63M602.2 57.16v11.63M625.4 57.16v11.63M628.3 57.16v11.63M394.3 68.79v11.63M403.0 68.79v11.63M423.4 68.79v11.63M436.5 68.79v11.63M445.2 68.79v11.63M506.2 68.79v11.63M510.6 68.79v11.63M513.5 68.79v11.63M523.7 68.79v11.63M551.3 68.79v11.63M602.2 68.79v11.63M369.6 80.42v11.63M401.6 80.42v11.63M427.7 80.42v11.63M432.1 80.42v11.63M435.0 80.42v11.63M436.5 80.42v11.63M437.9 80.42v11.63M468.4 80.42v11.63M490.2 80.42v11.63M491.7 80.42v11.63M501.9 80.42v11.63M507.7 80.42v11.63M520.8 80.42v11.63M529.5 80.42v11.63M532.4 80.42v11.63M545.5 80.42v11.63M551.3 80.42v11.63M580.4 80.42v11.63M632.7 80.42v11.63M635.6 80.42v11.63M372.5 92.05v11.63M509.1 92.05v11.63M592.0 92.05v11.63M594.9 92.05v11.63M602.2 92.05v11.63M621.1 92.05v11.63M371.1 103.68v11.63M390.0 103.68v11.63M407.4 103.68v11.63M435.0 103.68v11.63M462.6 103.68v11.63M478.6 103.68v11.63M496.1 103.68v11.63M589.1 103.68v11.63M602.2 103.68v11.63M605.1 103.68v11.63M394.3 115.31v11.63M395.8 115.31v11.63M398.7 115.31v11.63M423.4 115.31v11.63M426.3 115.31v11.63M436.5 115.31v11.63M461.2 115.31v11.63M462.6 115.31v11.63M496.1 115.31v11.63M562.9 115.31v11.63M608.0 115.31v11.63M619.6 115.31v11.63M634.1 115.31v11.63M372.5 138.57v11.63M384.1 138.57v11.63M394.3 138.57v11.63M407.4 138.57v11.63M439.4 138.57v11.63M453.9 138.57v11.63M461.2 138.57v11.63M491.7 138.57v11.63M497.5 138.57v11.63M561.5 138.57v11.63M562.9 138.57v11.63M565.8 138.57v11.63M590.5 138.57v11.63M597.8 138.57v11.63M613.8 138.57v11.63M640.0 138.57v11.63M381.2 150.20v11.63M401.6 150.20v11.63M410.3 150.20v11.63M638.5 150.20v11.63M408.8 161.83v11.63M421.9 161.83v11.63M478.6 161.83v11.63M484.4 161.83v11.63M485.9 161.83v11.63M609.4 161.83v11.63M362.3 173.46v11.63M388.5 173.46v11.63M442.3 173.46v11.63M452.5 173.46v11.63M462.6 173.46v11.63M512.0 173.46v11.63M520.8 173.46v11.63M522.2 173.46v11.63M523.7 173.46v11.63M544.0 173.46v11.63M562.9 173.46v11.63M567.3 173.46v11.63M593.4 173.46v11.63M603.6 173.46v11.63M605.1 173.46v11.63M366.7 185.09v11.63M368.1 185.09v11.63M388.5 185.09v11.63M392.9 185.09v11.63M395.8 185.09v11.63M401.6 185.09v11.63M430.6 185.09v11.63M455.4 185.09v11.63M459.7 185.09v11.63M577.5 185.09v11.63M625.4 185.09v11.63M645.8 185.09v11.63M375.4 196.72v11.63M384.1 196.72v11.63M411.8 196.72v11.63M416.1 196.72v11.63M421.9 196.72v11.63M424.8 196.72v11.63M430.6 196.72v11.63M437.9 196.72v11.63M442.3 196.72v11.63M445.2 196.72v11.63M448.1 196.72v11.63M449.5 196.72v11.63M455.4 196.72v11.63M456.8 196.72v11.63M458.3 196.72v11.63M462.6 196.72v11.63M501.9 196.72v11.63M503.3 196.72v11.63M506.2 196.72v11.63M546.9 196.72v11.63M561.5 196.72v11.63M565.8 196.72v11.63M576.0 196.72v11.63M621.1 196.72v11.63M648.7 196.72v11.63M429.2 227.40v11.63M459.7 227.40v11.63M461.2 227.40v11.63M525.1 239.03v11.63M605.1 239.03v11.63M429.2 250.66v11.63M459.7 250.66v11.63M461.2 250.66v11.63M475.7 250.66v11.63M497.5 250.66v11.63M528.0 250.66v11.63M538.2 250.66v11.63M576.0 250.66v11.63M375.4 262.29v11.63M384.1 262.29v11.63M397.2 262.29v11.63M442.3 262.29v11.63M459.7 262.29v11.63M461.2 262.29v11.63M467.0 262.29v11.63M469.9 262.29v11.63M475.7 262.29v11.63M481.5 262.29v11.63M483.0 262.29v11.63M493.1 262.29v11.63M503.3 262.29v11.63M525.1 262.29v11.63M562.9 262.29v11.63M573.1 262.29v11.63M581.8 262.29v11.63M618.1 262.29v11.63M640.0 262.29v11.63M378.3 273.92v11.63M382.7 273.92v11.63M429.2 273.92v11.63M459.7 273.92v11.63M461.2 273.92v11.63M484.4 273.92v11.63M488.8 273.92v11.63M574.5 273.92v11.63M421.9 285.55v11.63M429.2 285.55v11.63M459.7 285.55v11.63M461.2 285.55v11.63M526.6 285.55v11.63M429.2 297.18v11.63M459.7 297.18v11.63M461.2 297.18v11.63M429.2 308.81v11.63M458.3 308.81v11.63M459.7 308.81v11.63M461.2 308.81v11.63M626.9 308.81v11.63M362.3 332.07v11.63M397.2 332.07v11.63M414.7 332.07v11.63M446.6 332.07v11.63M461.2 332.07v11.63M465.5 332.07v11.63M480.1 332.07v11.63M490.2 332.07v11.63M503.3 332.07v11.63M513.5 332.07v11.63M535.3 332.07v11.63M548.4 332.07v11.63M561.5 332.07v11.63M562.9 332.07v11.63M568.7 332.07v11.63M616.7 332.07v11.63M635.6 332.07v11.63M462.6 343.70v11.63M429.2 355.33v11.63M459.7 355.33v11.63M461.2 355.33v11.63M360.9 366.96v11.63M362.3 366.96v11.63M419.0 366.96v11.63M426.3 366.96v11.63M448.1 366.96v11.63M451.0 366.96v11.63M453.9 366.96v11.63M459.7 366.96v11.63M461.2 366.96v11.63M477.2 366.96v11.63M481.5 366.96v11.63M499.0 366.96v11.63M525.1 366.96v11.63M529.5 366.96v11.63M561.5 366.96v11.63M576.0 366.96v11.63M580.4 366.96v11.63M600.7 366.96v11.63M603.6 366.96v11.63M647.2 366.96v11.63M429.2 378.59v11.63M459.7 378.59v11.63M461.2 378.59v11.63M500.4 378.59v11.63M516.4 378.59v11.63M612.3 378.59v11.63M429.2 390.22v11.63M459.7 390.22v11.63M461.2 390.22v11.63M487.3 390.22v11.63M597.8 390.22v11.63"/>
<path stroke="#b5d7e8" stroke-width="1.50" d="M395.8 33.90v11.63M430.6 33.90v11.63M467.0 33.90v11.63M552.7 33.90v11.63M568.7 33.90v11.63M605.1 33.90v11.63M615.2 33.90v11.63M626.9 33.90v11.63M640.0 33.90v11.63M413.2 45.53v11.63M429.2 45.53v11.63M452.5 45.53v11.63M481.5 45.53v11.63M526.6 45.53v11.63M562.9 45.53v11.63M564.4 45.53v11.63M600.7 45.53v11.63M622.5 45.53v11.63M516.4 68.79v11.63M469.9 92.05v11.63M487.3 92.05v11.63M488.8 92.05v11.63M500.4 92.05v11.63M599.3 92.05v11.63M600.7 92.05v11.63M644.3 92.05v11.63M360.9 126.94v11.63M368.1 126.94v11.63M384.1 126.94v11.63M407.4 126.94v11.63M439.4 126.94v11.63M445.2 126.94v11.63M497.5 126.94v11.63M535.3 126.94v11.63M536.8 126.94v11.63M542.6 126.94v11.63M551.3 126.94v11.63M558.6 126.94v11.63M592.0 126.94v11.63M594.9 126.94v11.63M629.8 138.57v11.63M414.7 150.20v11.63M433.6 150.20v11.63M435.0 150.20v11.63M437.9 150.20v11.63M452.5 150.20v11.63M477.2 150.20v11.63M533.8 150.20v11.63M597.8 150.20v11.63M619.6 150.20v11.63M641.4 150.20v11.63M644.3 150.20v11.63M368.1 161.83v11.63M372.5 161.83v11.63M374.0 161.83v11.63M455.4 161.83v11.63M471.3 161.83v11.63M474.3 161.83v11.63M526.6 161.83v11.63M549.8 161.83v11.63M574.5 161.83v11.63M600.7 161.83v11.63M385.6 208.35v11.63M387.0 208.35v11.63M413.2 208.35v11.63M427.7 208.35v11.63M433.6 208.35v11.63M462.6 208.35v11.63M497.5 208.35v11.63M504.8 208.35v11.63M512.0 208.35v11.63M564.4 208.35v11.63M609.4 208.35v11.63M407.4 227.40v11.63M449.5 227.40v11.63M484.4 227.40v11.63M485.9 227.40v11.63M493.1 227.40v11.63M509.1 227.40v11.63M529.5 227.40v11.63M532.4 227.40v11.63M548.4 227.40v11.63M568.7 227.40v11.63M580.4 227.40v11.63M593.4 227.40v11.63M599.3 227.40v11.63M642.9 227.40v11.63M485.9 250.66v11.63M624.0 250.66v11.63M644.3 250.66v11.63M436.5 262.29v11.63M432.1 273.92v11.63M529.5 273.92v11.63M606.5 273.92v11.63M609.4 273.92v11.63M371.1 285.55v11.63M374.0 285.55v11.63M379.8 285.55v11.63M381.2 285.55v11.63M427.7 285.55v11.63M451.0 285.55v11.63M496.1 285.55v11.63M512.0 285.55v11.63M530.9 285.55v11.63M532.4 285.55v11.63M615.2 285.55v11.63M619.6 285.55v11.63M638.5 285.55v11.63M640.0 285.55v11.63M382.7 297.18v11.63M449.5 297.18v11.63M456.8 297.18v11.63M475.7 297.18v11.63M480.1 297.18v11.63M565.8 297.18v11.63M626.9 297.18v11.63M424.8 308.81v11.63M469.9 308.81v11.63M477.2 308.81v11.63M510.6 308.81v11.63M517.9 308.81v11.63M544.0 308.81v11.63M554.2 308.81v11.63M573.1 308.81v11.63M581.8 308.81v11.63M602.2 308.81v11.63M371.1 378.59v11.63M390.0 378.59v11.63M416.1 378.59v11.63M433.6 378.59v11.63M442.3 378.59v11.63M557.1 378.59v11.63M587.6 378.59v11.63M638.5 378.59v11.63M359.4 390.22v11.63M401.6 390.22v11.63M423.4 390.22v11.63M427.7 390.22v11.63M435.0 390.22v11.63M437.9 390.22v11.63M464.1 390.22v11.63M493.1 390.22v11.63M494.6 390.22v11.63M610.9 390.22v11.63M624.0 390.22v11.63M625.4 390.22v11.63M642.9 390.22v11.63"/>
<path stroke="#c9e4f0" stroke-width="1.50" d="M397.2 33.90v11.63M449.5 33.90v11.63M541.1 33.90v11.63M555.6 33.90v11.63M564.4 33.90v11.63M571.6 33.90v11.63M603.6 33.90v11.63M616.7 33.90v11.63M635.6 33.90v11.63M647.2 33.90v11.63M379.8 45.53v11.63M397.2 45.53v11.63M449.5 45.53v11.63M497.5 45.53v11.63M529.5 45.53v11.63M555.6 45.53v11.63M578.9 45.53v11.63M581.8 45.53v11.63M583.3 68.79v11.63M483.0 92.05v11.63M533.8 92.05v11.63M626.9 92.05v11.63M629.8 92.05v11.63M642.9 92.05v11.63M374.0 126.94v11.63M416.1 126.94v11.63M442.3 126.94v11.63M453.9 126.94v11.63M484.4 126.94v11.63M491.7 126.94v11.63M499.0 126.94v11.63M525.1 126.94v11.63M530.9 126.94v11.63M533.8 126.94v11.63M561.5 126.94v11.63M584.7 126.94v11.63M603.6 126.94v11.63M621.1 126.94v11.63M631.2 126.94v11.63M451.0 150.20v11.63M515.0 150.20v11.63M526.6 150.20v11.63M584.7 150.20v11.63M419.0 161.83v11.63M442.3 161.83v11.63M546.9 161.83v11.63M560.0 161.83v11.63M359.4 208.35v11.63M362.3 208.35v11.63M366.7 208.35v11.63M416.1 208.35v11.63M446.6 208.35v11.63M360.9 227.40v11.63M368.1 227.40v11.63M371.1 227.40v11.63M410.3 227.40v11.63M530.9 227.40v11.63M610.9 227.40v11.63M365.2 250.66v11.63M594.9 250.66v11.63M416.1 273.92v11.63M602.2 273.92v11.63M384.1 285.55v11.63M401.6 285.55v11.63M510.6 285.55v11.63M542.6 285.55v11.63M379.8 297.18v11.63M421.9 297.18v11.63M432.1 297.18v11.63M448.1 297.18v11.63M468.4 297.18v11.63M488.8 297.18v11.63M491.7 297.18v11.63M504.8 297.18v11.63M520.8 297.18v11.63M546.9 297.18v11.63M583.3 297.18v11.63M594.9 297.18v11.63M360.9 308.81v11.63M371.1 308.81v11.63M372.5 308.81v11.63M379.8 308.81v11.63M388.5 308.81v11.63M400.1 308.81v11.63M407.4 308.81v11.63M512.0 308.81v11.63M555.6 308.81v11.63M580.4 308.81v11.63M638.5 308.81v11.63M469.9 355.33v11.63M485.9 355.33v11.63M487.3 355.33v11.63M567.3 355.33v11.63M584.7 355.33v11.63M629.8 355.33v11.63M359.4 378.59v11.63M365.2 378.59v11.63M424.8 378.59v11.63M427.7 378.59v11.63M481.5 378.59v11.63M485.9 378.59v11.63M366.7 390.22v11.63M400.1 390.22v11.63M404.5 390.22v11.63M424.8 390.22v11.63M448.1 390.22v11.63M456.8 390.22v11.63M471.3 390.22v11.63M513.5 390.22v11.63M525.1 390.22v11.63M542.6 390.22v11.63M546.9 390.22v11.63M648.7 390.22v11.63"/>
<path stroke="#c3e0ed" stroke-width="1.50" d="M411.8 33.90v11.63M474.3 33.90v11.63M481.5 33.90v11.63M493.1 33.90v11.63M533.8 33.90v11.63M542.6 33.90v11.63M610.9 33.90v11.63M622.5 33.90v11.63M451.0 45.53v11.63M474.3 45.53v11.63M487.3 45.53v11.63M530.9 45.53v11.63M532.4 45.53v11.63M536.8 45.53v11.63M580.4 45.53v11.63M613.8 45.53v11.63M616.7 45.53v11.63M618.1 45.53v11.63M635.6 45.53v11.63M382.7 68.79v11.63M574.5 68.79v11.63M596.3 68.79v11.63M526.6 92.05v11.63M387.0 126.94v11.63M394.3 126.94v11.63M426.3 126.94v11.63M494.6 126.94v11.63M496.1 126.94v11.63M512.0 126.94v11.63M515.0 126.94v11.63M545.5 126.94v11.63M548.4 126.94v11.63M562.9 126.94v11.63M570.2 126.94v11.63M586.2 126.94v11.63M624.0 126.94v11.63M487.3 150.20v11.63M573.1 150.20v11.63M626.9 150.20v11.63M647.2 150.20v11.63M369.6 161.83v11.63M371.1 161.83v11.63M376.9 161.83v11.63M449.5 161.83v11.63M451.0 161.83v11.63M453.9 161.83v11.63M465.5 161.83v11.63M467.0 161.83v11.63M488.8 161.83v11.63M499.0 161.83v11.63M576.0 161.83v11.63M583.3 161.83v11.63M593.4 161.83v11.63M594.9 161.83v11.63M621.1 161.83v11.63M597.8 185.09v11.63M365.2 208.35v11.63M375.4 208.35v11.63M401.6 208.35v11.63M424.8 208.35v11.63M426.3 208.35v11.63M448.1 208.35v11.63M567.3 208.35v11.63M621.1 208.35v11.63M375.4 227.40v11.63M376.9 227.40v11.63M381.2 227.40v11.63M388.5 227.40v11.63M448.1 227.40v11.63M456.8 227.40v11.63M469.9 227.40v11.63M481.5 227.40v11.63M503.3 227.40v11.63M506.2 227.40v11.63M545.5 227.40v11.63M549.8 227.40v11.63M561.5 227.40v11.63M573.1 227.40v11.63M576.0 227.40v11.63M590.5 227.40v11.63M612.3 227.40v11.63M371.1 250.66v11.63M407.4 262.29v11.63M387.0 273.92v11.63M405.9 273.92v11.63M426.3 273.92v11.63M509.1 273.92v11.63M570.2 273.92v11.63M587.6 273.92v11.63M605.1 273.92v11.63M640.0 273.92v11.63M369.6 285.55v11.63M382.7 285.55v11.63M407.4 285.55v11.63M424.8 285.55v11.63M464.1 285.55v11.63M480.1 285.55v11.63M513.5 285.55v11.63M625.4 285.55v11.63M378.3 297.18v11.63M395.8 297.18v11.63M453.9 297.18v11.63M467.0 297.18v11.63M469.9 297.18v11.63M483.0 297.18v11.63M487.3 297.18v11.63M506.2 297.18v11.63M574.5 297.18v11.63M589.1 297.18v11.63M612.3 297.18v11.63M618.1 297.18v11.63M359.4 308.81v11.63M426.3 308.81v11.63M577.5 308.81v11.63M449.5 355.33v11.63M483.0 355.33v11.63M488.8 355.33v11.63M541.1 355.33v11.63M574.5 355.33v11.63M616.7 355.33v11.63M642.9 355.33v11.63M391.4 378.59v11.63M609.4 378.59v11.63M410.3 390.22v11.63M443.7 390.22v11.63M472.8 390.22v11.63M483.0 390.22v11.63M529.5 390.22v11.63M536.8 390.22v11.63M545.5 390.22v11.63"/>
<path stroke="#80afd2" stroke-width="1.50" d="M413.2 33.90v11.63M414.7 33.90v11.63M426.3 33.90v11.63M439.4 33.90v11.63M443.7 33.90v11.63M452.5 33.90v11.63M455.4 33.90v11.63M469.9 33.90v11.63M577.5 33.90v11.63M578.9 33.90v11.63M586.2 33.90v11.63M368.1 45.53v11.63M416.1 45.53v11.63M419.0 45.53v11.63M445.2 45.53v11.63M494.6 45.53v11.63M496.1 45.53v11.63M520.8 45.53v11.63M525.1 45.53v11.63M644.3 57.16v11.63M384.1 68.79v11.63M411.8 68.79v11.63M416.1 68.79v11.63M419.0 68.79v11.63M420.5 68.79v11.63M421.9 68.79v11.63M430.6 68.79v11.63M484.4 68.79v11.63M493.1 68.79v11.63M515.0 68.79v11.63M529.5 68.79v11.63M570.2 68.79v11.63M612.3 68.79v11.63M622.5 68.79v11.63M626.9 68.79v11.63M628.3 68.79v11.63M631.2 68.79v11.63M644.3 68.79v11.63M449.5 80.42v11.63M455.4 80.42v11.63M487.3 80.42v11.63M525.1 80.42v11.63M549.8 80.42v11.63M641.4 80.42v11.63M642.9 80.42v11.63M360.9 92.05v11.63M362.3 92.05v11.63M369.6 92.05v11.63M391.4 92.05v11.63M397.2 92.05v11.63M408.8 92.05v11.63M416.1 92.05v11.63M427.7 92.05v11.63M448.1 92.05v11.63M452.5 92.05v11.63M455.4 92.05v11.63M477.2 92.05v11.63M497.5 92.05v11.63M501.9 92.05v11.63M557.1 92.05v11.63M581.8 92.05v11.63M622.5 92.05v11.63M419.0 103.68v11.63M437.9 103.68v11.63M472.8 103.68v11.63M474.3 103.68v11.63M481.5 103.68v11.63M535.3 103.68v11.63M573.1 103.68v11.63M581.8 103.68v11.63M584.7 103.68v11.63M644.3 103.68v11.63M369.6 115.31v11.63M378.3 115.31v11.63M455.4 115.31v11.63M477.2 115.31v11.63M501.9 115.31v11.63M519.3 115.31v11.63M567.3 115.31v11.63M578.9 115.31v11.63M599.3 115.31v11.63M622.5 115.31v11.63M635.6 115.31v11.63M642.9 115.31v11.63M644.3 115.31v11.63M485.9 126.94v11.63M369.6 138.57v11.63M395.8 138.57v11.63M421.9 138.57v11.63M442.3 138.57v11.63M474.3 138.57v11.63M475.7 138.57v11.63M506.2 138.57v11.63M526.6 138.57v11.63M539.7 138.57v11.63M545.5 138.57v11.63M576.0 138.57v11.63M603.6 138.57v11.63M628.3 138.57v11.63M631.2 138.57v11.63M648.7 138.57v11.63M371.1 150.20v11.63M379.8 150.20v11.63M411.8 150.20v11.63M421.9 150.20v11.63M429.2 150.20v11.63M446.6 150.20v11.63M458.3 150.20v11.63M468.4 150.20v11.63M532.4 150.20v11.63M544.0 150.20v11.63M557.1 150.20v11.63M593.4 150.20v11.63M594.9 150.20v11.63M606.5 150.20v11.63M628.3 150.20v11.63M632.7 150.20v11.63M365.2 161.83v11.63M384.1 161.83v11.63M403.0 161.83v11.63M420.5 161.83v11.63M427.7 161.83v11.63M464.1 161.83v11.63M477.2 161.83v11.63M504.8 161.83v11.63M552.7 161.83v11.63M625.4 161.83v11.63M411.8 173.46v11.63M423.4 173.46v11.63M471.3 173.46v11.63M496.1 173.46v11.63M497.5 173.46v11.63M535.3 173.46v11.63M573.1 173.46v11.63M580.4 173.46v11.63M592.0 173.46v11.63M645.8 173.46v11.63M363.8 185.09v11.63M413.2 185.09v11.63M423.4 185.09v11.63M426.3 185.09v11.63M435.0 185.09v11.63M440.8 185.09v11.63M443.7 185.09v11.63M475.7 185.09v11.63M490.2 185.09v11.63M491.7 185.09v11.63M509.1 185.09v11.63M576.0 185.09v11.63M584.7 185.09v11.63M616.7 185.09v11.63M618.1 185.09v11.63M628.3 185.09v11.63M642.9 185.09v11.63M488.8 196.72v11.63M526.6 196.72v11.63M533.8 196.72v11.63M536.8 196.72v11.63M541.1 196.72v11.63M573.1 196.72v11.63M584.7 227.40v11.63M596.3 227.40v11.63M375.4 250.66v11.63M387.0 250.66v11.63M391.4 250.66v11.63M437.9 250.66v11.63M439.4 250.66v11.63M449.5 250.66v11.63M452.5 250.66v11.63M487.3 250.66v11.63M488.8 250.66v11.63M490.2 250.66v11.63M520.8 250.66v11.63M535.3 250.66v11.63M578.9 250.66v11.63M584.7 250.66v11.63M606.5 250.66v11.63M622.5 250.66v11.63M648.7 250.66v11.63M359.4 262.29v11.63M369.6 262.29v11.63M374.0 262.29v11.63M417.6 262.29v11.63M420.5 262.29v11.63M437.9 262.29v11.63M456.8 262.29v11.63M472.8 262.29v11.63M491.7 262.29v11.63M496.1 262.29v11.63M513.5 262.29v11.63M519.3 262.29v11.63M602.2 262.29v11.63M613.8 262.29v11.63M638.5 262.29v11.63M368.1 273.92v11.63M400.1 273.92v11.63M408.8 273.92v11.63M410.3 273.92v11.63M437.9 273.92v11.63M449.5 273.92v11.63M462.6 273.92v11.63M475.7 273.92v11.63M503.3 273.92v11.63M528.0 273.92v11.63M600.7 273.92v11.63M622.5 273.92v11.63M362.3 285.55v11.63M375.4 285.55v11.63M394.3 285.55v11.63M413.2 285.55v11.63M449.5 285.55v11.63M467.0 285.55v11.63M535.3 285.55v11.63M546.9 285.55v11.63M549.8 285.55v11.63M558.6 285.55v11.63M568.7 285.55v11.63M644.3 285.55v11.63M596.3 297.18v11.63M629.8 297.18v11.63M369.6 308.81v11.63M398.7 308.81v11.63M420.5 308.81v11.63M504.8 308.81v11.63M536.8 308.81v11.63M612.3 308.81v11.63M366.7 332.07v11.63M379.8 332.07v11.63M388.5 332.07v11.63M404.5 332.07v11.63M423.4 332.07v11.63M494.6 332.07v11.63M510.6 332.07v11.63M532.4 332.07v11.63M542.6 332.07v11.63M581.8 332.07v11.63M593.4 332.07v11.63M608.0 332.07v11.63M625.4 332.07v11.63M637.0 332.07v11.63M405.9 366.96v11.63M416.1 366.96v11.63M443.7 366.96v11.63M523.7 366.96v11.63M552.7 366.96v11.63M570.2 366.96v11.63M594.9 366.96v11.63M615.2 366.96v11.63M622.5 366.96v11.63M369.6 378.59v11.63M379.8 378.59v11.63M488.8 378.59v11.63M493.1 378.59v11.63M499.0 378.59v11.63M545.5 378.59v11.63M586.2 378.59v11.63M589.1 378.59v11.63M594.9 378.59v11.63M628.3 378.59v11.63M398.7 390.22v11.63M421.9 390.22v11.63M504.8 390.22v11.63M509.1 390.22v11.63M516.4 390.22v11.63M539.7 390.22v11.63M541.1 390.22v11.63M581.8 390.22v11.63M600.7 390.22v11.63M632.7 390.22v11.63"/>
<path stroke="#8dbbd9" stroke-width="1.50" d="M429.2 33.90v11.63M464.1 33.90v11.63M484.4 33.90v11.63M497.5 33.90v11.63M503.3 33.90v11.63M517.9 33.90v11.63M551.3 33.90v11.63M587.6 33.90v11.63M421.9 45.53v11.63M430.6 45.53v11.63M436.5 45.53v11.63M446.6 45.53v11.63M453.9 45.53v11.63M459.7 45.53v11.63M615.2 45.53v11.63M475.7 57.16v11.63M526.6 57.16v11.63M583.3 57.16v11.63M414.7 68.79v11.63M448.1 68.79v11.63M475.7 68.79v11.63M541.1 68.79v11.63M571.6 68.79v11.63M618.1 68.79v11.63M629.8 68.79v11.63M642.9 68.79v11.63M629.8 80.42v11.63M379.8 92.05v11.63M417.6 92.05v11.63M420.5 92.05v11.63M436.5 92.05v11.63M458.3 92.05v11.63M467.0 92.05v11.63M472.8 92.05v11.63M499.0 92.05v11.63M525.1 92.05v11.63M545.5 92.05v11.63M554.2 92.05v11.63M605.1 92.05v11.63M612.3 92.05v11.63M637.0 92.05v11.63M382.7 103.68v11.63M541.1 103.68v11.63M626.9 103.68v11.63M642.9 103.68v11.63M645.8 103.68v11.63M446.6 115.31v11.63M480.1 115.31v11.63M515.0 115.31v11.63M516.4 115.31v11.63M573.1 115.31v11.63M574.5 115.31v11.63M576.0 115.31v11.63M581.8 115.31v11.63M583.3 115.31v11.63M628.3 115.31v11.63M629.8 115.31v11.63M363.8 126.94v11.63M390.0 126.94v11.63M459.7 126.94v11.63M411.8 138.57v11.63M480.1 138.57v11.63M500.4 138.57v11.63M503.3 138.57v11.63M517.9 138.57v11.63M533.8 138.57v11.63M541.1 138.57v11.63M580.4 138.57v11.63M596.3 138.57v11.63M398.7 150.20v11.63M404.5 150.20v11.63M419.0 150.20v11.63M420.5 150.20v11.63M455.4 150.20v11.63M472.8 150.20v11.63M496.1 150.20v11.63M513.5 150.20v11.63M603.6 150.20v11.63M625.4 150.20v11.63M375.4 161.83v11.63M416.1 161.83v11.63M448.1 161.83v11.63M520.8 161.83v11.63M571.6 161.83v11.63M577.5 161.83v11.63M578.9 161.83v11.63M580.4 161.83v11.63M581.8 161.83v11.63M586.2 161.83v11.63M616.7 161.83v11.63M465.5 173.46v11.63M484.4 173.46v11.63M491.7 173.46v11.63M493.1 173.46v11.63M506.2 173.46v11.63M533.8 173.46v11.63M541.1 173.46v11.63M548.4 173.46v11.63M574.5 173.46v11.63M600.7 173.46v11.63M612.3 173.46v11.63M631.2 173.46v11.63M632.7 173.46v11.63M411.8 185.09v11.63M483.0 185.09v11.63M500.4 185.09v11.63M503.3 185.09v11.63M515.0 185.09v11.63M557.1 185.09v11.63M567.3 185.09v11.63M403.0 208.35v11.63M541.1 227.40v11.63M618.1 227.40v11.63M360.9 250.66v11.63M363.8 250.66v11.63M369.6 250.66v11.63M384.1 250.66v11.63M394.3 250.66v11.63M446.6 250.66v11.63M451.0 250.66v11.63M464.1 250.66v11.63M478.6 250.66v11.63M484.4 250.66v11.63M491.7 250.66v11.63M494.6 250.66v11.63M545.5 250.66v11.63M548.4 250.66v11.63M549.8 250.66v11.63M586.2 250.66v11.63M587.6 250.66v11.63M615.2 250.66v11.63M641.4 250.66v11.63M645.8 250.66v11.63M368.1 262.29v11.63M392.9 262.29v11.63M405.9 262.29v11.63M416.1 262.29v11.63M424.8 262.29v11.63M478.6 262.29v11.63M485.9 262.29v11.63M504.8 262.29v11.63M551.3 262.29v11.63M568.7 262.29v11.63M624.0 262.29v11.63M362.3 273.92v11.63M401.6 273.92v11.63M419.0 273.92v11.63M423.4 273.92v11.63M424.8 273.92v11.63M433.6 273.92v11.63M464.1 273.92v11.63M468.4 273.92v11.63M485.9 273.92v11.63M491.7 273.92v11.63M517.9 273.92v11.63M519.3 273.92v11.63M535.3 273.92v11.63M545.5 273.92v11.63M561.5 273.92v11.63M573.1 273.92v11.63M592.0 273.92v11.63M593.4 273.92v11.63M628.3 273.92v11.63M635.6 273.92v11.63M417.6 285.55v11.63M445.2 285.55v11.63M517.9 285.55v11.63M525.1 285.55v11.63M561.5 285.55v11.63M602.2 285.55v11.63M606.5 285.55v11.63M616.7 285.55v11.63M621.1 285.55v11.63M622.5 285.55v11.63M637.0 285.55v11.63M499.0 297.18v11.63M385.6 308.81v11.63M439.4 308.81v11.63M484.4 308.81v11.63M507.7 308.81v11.63M509.1 308.81v11.63M532.4 308.81v11.63M545.5 308.81v11.63M558.6 308.81v11.63M589.1 308.81v11.63M599.3 308.81v11.63M625.4 308.81v11.63M629.8 308.81v11.63M375.4 332.07v11.63M391.4 332.07v11.63M462.6 332.07v11.63M586.2 332.07v11.63M587.6 332.07v11.63M592.0 332.07v11.63M594.9 332.07v11.63M408.8 366.96v11.63M410.3 366.96v11.63M592.0 366.96v11.63M624.0 366.96v11.63M398.7 378.59v11.63M420.5 378.59v11.63M480.1 378.59v11.63M558.6 378.59v11.63M621.1 378.59v11.63M362.3 390.22v11.63M379.8 390.22v11.63M439.4 390.22v11.63M491.7 390.22v11.63M535.3 390.22v11.63M618.1 390.22v11.63M626.9 390.22v11.63M628.3 390.22v11.63"/>
<path stroke="#87b5d6" stroke-width="1.50" d="M436.5 33.90v11.63M453.9 33.90v11.63M494.6 33.90v11.63M496.1 33.90v11.63M539.7 33.90v11.63M558.6 33.90v11.63M592.0 33.90v11.63M625.4 33.90v11.63M381.2 45.53v11.63M385.6 45.53v11.63M435.0 45.53v11.63M464.1 45.53v11.63M568.7 45.53v11.63M609.4 45.53v11.63M488.8 57.16v11.63M581.8 57.16v11.63M612.3 57.16v11.63M632.7 57.16v11.63M369.6 68.79v11.63M379.8 68.79v11.63M381.2 68.79v11.63M435.0 68.79v11.63M437.9 68.79v11.63M467.0 68.79v11.63M488.8 68.79v11.63M490.2 68.79v11.63M491.7 68.79v11.63M536.8 68.79v11.63M549.8 68.79v11.63M560.0 68.79v11.63M561.5 68.79v11.63M599.3 68.79v11.63M616.7 68.79v11.63M645.8 68.79v11.63M480.1 80.42v11.63M538.2 80.42v11.63M644.3 80.42v11.63M645.8 80.42v11.63M384.1 92.05v11.63M410.3 92.05v11.63M413.2 92.05v11.63M451.0 92.05v11.63M456.8 92.05v11.63M459.7 92.05v11.63M462.6 92.05v11.63M464.1 92.05v11.63M465.5 92.05v11.63M490.2 92.05v11.63M517.9 92.05v11.63M520.8 92.05v11.63M539.7 92.05v11.63M549.8 92.05v11.63M555.6 92.05v11.63M577.5 92.05v11.63M608.0 92.05v11.63M618.1 92.05v11.63M635.6 92.05v11.63M378.3 103.68v11.63M475.7 103.68v11.63M574.5 103.68v11.63M631.2 103.68v11.63M641.4 103.68v11.63M647.2 103.68v11.63M411.8 115.31v11.63M499.0 115.31v11.63M513.5 115.31v11.63M526.6 115.31v11.63M538.2 115.31v11.63M545.5 115.31v11.63M560.0 115.31v11.63M561.5 115.31v11.63M371.1 126.94v11.63M408.8 126.94v11.63M382.7 138.57v11.63M423.4 138.57v11.63M432.1 138.57v11.63M484.4 138.57v11.63M542.6 138.57v11.63M573.1 138.57v11.63M645.8 138.57v11.63M362.3 150.20v11.63M368.1 150.20v11.63M392.9 150.20v11.63M397.2 150.20v11.63M413.2 150.20v11.63M442.3 150.20v11.63M459.7 150.20v11.63M461.2 150.20v11.63M503.3 150.20v11.63M504.8 150.20v11.63M576.0 150.20v11.63M616.7 150.20v11.63M391.4 161.83v11.63M397.2 161.83v11.63M404.5 161.83v11.63M437.9 161.83v11.63M439.4 161.83v11.63M443.7 161.83v11.63M458.3 161.83v11.63M462.6 161.83v11.63M506.2 161.83v11.63M523.7 161.83v11.63M530.9 161.83v11.63M603.6 161.83v11.63M640.0 161.83v11.63M648.7 161.83v11.63M480.1 173.46v11.63M516.4 173.46v11.63M596.3 173.46v11.63M599.3 173.46v11.63M616.7 173.46v11.63M378.3 185.09v11.63M453.9 185.09v11.63M468.4 185.09v11.63M481.5 185.09v11.63M484.4 185.09v11.63M488.8 185.09v11.63M493.1 185.09v11.63M499.0 185.09v11.63M535.3 185.09v11.63M548.4 185.09v11.63M581.8 185.09v11.63M593.4 185.09v11.63M641.4 185.09v11.63M528.0 196.72v11.63M629.8 196.72v11.63M487.3 227.40v11.63M378.3 250.66v11.63M392.9 250.66v11.63M401.6 250.66v11.63M423.4 250.66v11.63M430.6 250.66v11.63M433.6 250.66v11.63M506.2 250.66v11.63M510.6 250.66v11.63M544.0 250.66v11.63M558.6 250.66v11.63M570.2 250.66v11.63M580.4 250.66v11.63M589.1 250.66v11.63M605.1 250.66v11.63M618.1 250.66v11.63M626.9 250.66v11.63M631.2 250.66v11.63M635.6 250.66v11.63M366.7 262.29v11.63M378.3 262.29v11.63M391.4 262.29v11.63M408.8 262.29v11.63M413.2 262.29v11.63M432.1 262.29v11.63M445.2 262.29v11.63M464.1 262.29v11.63M477.2 262.29v11.63M520.8 262.29v11.63M578.9 262.29v11.63M592.0 262.29v11.63M593.4 262.29v11.63M615.2 262.29v11.63M369.6 273.92v11.63M379.8 273.92v11.63M385.6 273.92v11.63M388.5 273.92v11.63M394.3 273.92v11.63M404.5 273.92v11.63M407.4 273.92v11.63M477.2 273.92v11.63M525.1 273.92v11.63M557.1 273.92v11.63M558.6 273.92v11.63M576.0 273.92v11.63M612.3 273.92v11.63M624.0 273.92v11.63M433.6 285.55v11.63M437.9 285.55v11.63M448.1 285.55v11.63M468.4 285.55v11.63M469.9 285.55v11.63M481.5 285.55v11.63M490.2 285.55v11.63M552.7 285.55v11.63M555.6 285.55v11.63M586.2 285.55v11.63M589.1 285.55v11.63M597.8 297.18v11.63M365.2 308.81v11.63M436.5 308.81v11.63M440.8 308.81v11.63M483.0 308.81v11.63M488.8 308.81v11.63M497.5 308.81v11.63M501.9 308.81v11.63M538.2 308.81v11.63M546.9 308.81v11.63M574.5 308.81v11.63M597.8 308.81v11.63M610.9 308.81v11.63M645.8 308.81v11.63M372.5 332.07v11.63M408.8 332.07v11.63M427.7 332.07v11.63M478.6 332.07v11.63M578.9 332.07v11.63M624.0 332.07v11.63M387.0 366.96v11.63M542.6 366.96v11.63M551.3 366.96v11.63M360.9 378.59v11.63M381.2 378.59v11.63M421.9 378.59v11.63M435.0 378.59v11.63M440.8 378.59v11.63M449.5 378.59v11.63M469.9 378.59v11.63M472.8 378.59v11.63M484.4 378.59v11.63M497.5 378.59v11.63M542.6 378.59v11.63M554.2 378.59v11.63M574.5 378.59v11.63M576.0 378.59v11.63M577.5 378.59v11.63M578.9 378.59v11.63M599.3 378.59v11.63M603.6 378.59v11.63M616.7 378.59v11.63M634.1 378.59v11.63M640.0 378.59v11.63M445.2 390.22v11.63M475.7 390.22v11.63M496.1 390.22v11.63M500.4 390.22v11.63M548.4 390.22v11.63M584.7 390.22v11.63M589.1 390.22v11.63"/>
<path stroke="#d7edf5" stroke-width="1.50" d="M465.5 33.90v11.63M483.0 33.90v11.63M528.0 33.90v11.63M548.4 33.90v11.63M573.1 33.90v11.63M584.7 33.90v11.63M634.1 33.90v11.63M645.8 33.90v11.63M433.6 45.53v11.63M475.7 45.53v11.63M500.4 45.53v11.63M507.7 45.53v11.63M541.1 45.53v11.63M567.3 45.53v11.63M574.5 45.53v11.63M362.3 126.94v11.63M369.6 126.94v11.63M379.8 126.94v11.63M400.1 126.94v11.63M403.0 126.94v11.63M448.1 126.94v11.63M481.5 126.94v11.63M555.6 126.94v11.63M578.9 126.94v11.63M590.5 126.94v11.63M616.7 126.94v11.63M626.9 126.94v11.63M369.6 150.20v11.63M382.7 150.20v11.63M497.5 150.20v11.63M548.4 150.20v11.63M432.1 161.83v11.63M516.4 161.83v11.63M538.2 161.83v11.63M555.6 161.83v11.63M570.2 161.83v11.63M599.3 161.83v11.63M613.8 161.83v11.63M390.0 208.35v11.63M398.7 208.35v11.63M417.6 208.35v11.63M436.5 208.35v11.63M451.0 208.35v11.63M456.8 208.35v11.63M478.6 208.35v11.63M551.3 208.35v11.63M581.8 208.35v11.63M615.2 208.35v11.63M624.0 208.35v11.63M362.3 227.40v11.63M379.8 227.40v11.63M423.4 227.40v11.63M427.7 227.40v11.63M471.3 227.40v11.63M507.7 227.40v11.63M513.5 227.40v11.63M517.9 227.40v11.63M542.6 227.40v11.63M420.5 273.92v11.63M515.0 273.92v11.63M368.1 285.55v11.63M372.5 285.55v11.63M388.5 285.55v11.63M570.2 285.55v11.63M360.9 297.18v11.63M397.2 297.18v11.63M411.8 297.18v11.63M424.8 297.18v11.63M446.6 297.18v11.63M452.5 297.18v11.63M477.2 297.18v11.63M503.3 297.18v11.63M517.9 297.18v11.63M533.8 297.18v11.63M592.0 297.18v11.63M606.5 297.18v11.63M621.1 297.18v11.63M523.7 308.81v11.63M586.2 308.81v11.63M637.0 308.81v11.63M490.2 355.33v11.63M576.0 355.33v11.63M610.9 355.33v11.63M644.3 355.33v11.63M648.7 355.33v11.63M371.1 390.22v11.63M391.4 390.22v11.63M407.4 390.22v11.63M433.6 390.22v11.63M478.6 390.22v11.63M512.0 390.22v11.63M551.3 390.22v11.63M552.7 390.22v11.63M555.6 390.22v11.63M564.4 390.22v11.63M594.9 390.22v11.63"/>
<path stroke="#ddf1f7" stroke-width="1.50" d="M475.7 33.90v11.63M526.6 33.90v11.63M599.3 33.90v11.63M618.1 33.90v11.63M376.9 45.53v11.63M426.3 45.53v11.63M542.6 45.53v11.63M548.4 45.53v11.63M554.2 45.53v11.63M558.6 45.53v11.63M586.2 45.53v11.63M638.5 45.53v11.63M642.9 45.53v11.63M528.0 92.05v11.63M541.1 92.05v11.63M596.3 92.05v11.63M597.8 92.05v11.63M392.9 126.94v11.63M397.2 126.94v11.63M398.7 126.94v11.63M433.6 126.94v11.63M440.8 126.94v11.63M464.1 126.94v11.63M472.8 126.94v11.63M477.2 126.94v11.63M506.2 126.94v11.63M526.6 126.94v11.63M597.8 126.94v11.63M632.7 126.94v11.63M426.3 150.20v11.63M378.3 161.83v11.63M429.2 161.83v11.63M468.4 161.83v11.63M535.3 161.83v11.63M612.3 161.83v11.63M642.9 161.83v11.63M421.9 208.35v11.63M455.4 208.35v11.63M496.1 208.35v11.63M577.5 208.35v11.63M622.5 208.35v11.63M366.7 227.40v11.63M477.2 227.40v11.63M499.0 227.40v11.63M500.4 227.40v11.63M600.7 227.40v11.63M602.2 227.40v11.63M608.0 227.40v11.63M621.1 227.40v11.63M625.4 227.40v11.63M647.2 227.40v11.63M512.0 273.92v11.63M403.0 285.55v11.63M408.8 285.55v11.63M545.5 285.55v11.63M571.6 285.55v11.63M398.7 297.18v11.63M419.0 297.18v11.63M437.9 297.18v11.63M439.4 297.18v11.63M478.6 297.18v11.63M484.4 297.18v11.63M485.9 297.18v11.63M529.5 297.18v11.63M535.3 297.18v11.63M645.8 297.18v11.63M408.8 308.81v11.63M587.6 308.81v11.63M603.6 308.81v11.63M474.3 355.33v11.63M484.4 355.33v11.63M612.3 355.33v11.63M513.5 378.59v11.63M403.0 390.22v11.63M517.9 390.22v11.63M635.6 390.22v11.63"/>
<path stroke="#e4f5f0" stroke-width="1.50" d="M488.8 33.90v11.63M538.2 33.90v11.63M565.8 33.90v11.63M570.2 33.90v11.63M565.8 45.53v11.63M573.1 45.53v11.63M584.7 45.53v11.63M594.9 45.53v11.63M628.3 45.53v11.63M465.5 126.94v11.63M478.6 126.94v11.63M500.4 126.94v11.63M509.1 126.94v11.63M516.4 126.94v11.63M560.0 126.94v11.63M610.9 126.94v11.63M629.8 126.94v11.63M634.1 126.94v11.63M645.8 150.20v11.63M440.8 161.83v11.63M584.7 161.83v11.63M381.2 208.35v11.63M384.1 208.35v11.63M414.7 208.35v11.63M419.0 208.35v11.63M453.9 208.35v11.63M458.3 208.35v11.63M557.1 208.35v11.63M568.7 208.35v11.63M603.6 208.35v11.63M625.4 208.35v11.63M634.1 208.35v11.63M400.1 227.40v11.63M408.8 227.40v11.63M413.2 227.40v11.63M416.1 227.40v11.63M421.9 227.40v11.63M435.0 227.40v11.63M451.0 227.40v11.63M458.3 227.40v11.63M465.5 227.40v11.63M512.0 227.40v11.63M536.8 227.40v11.63M560.0 227.40v11.63M564.4 227.40v11.63M606.5 227.40v11.63M624.0 227.40v11.63M634.1 227.40v11.63M645.8 227.40v11.63M648.7 227.40v11.63M578.9 273.92v11.63M365.2 285.55v11.63M384.1 297.18v11.63M400.1 297.18v11.63M417.6 297.18v11.63M427.7 297.18v11.63M433.6 297.18v11.63M451.0 297.18v11.63M493.1 297.18v11.63M516.4 297.18v11.63M519.3 297.18v11.63M530.9 297.18v11.63M532.4 297.18v11.63M538.2 297.18v11.63M567.3 297.18v11.63M600.7 297.18v11.63M615.2 297.18v11.63M616.7 297.18v11.63M619.6 297.18v11.63M378.3 355.33v11.63M414.7 355.33v11.63M442.3 355.33v11.63M446.6 355.33v11.63M464.1 355.33v11.63M480.1 355.33v11.63M503.3 355.33v11.63M528.0 355.33v11.63M538.2 355.33v11.63M539.7 355.33v11.63M548.4 355.33v11.63M581.8 355.33v11.63M618.1 355.33v11.63M387.0 390.22v11.63M390.0 390.22v11.63M462.6 390.22v11.63M519.3 390.22v11.63M562.9 390.22v11.63M615.2 390.22v11.63"/>
<path stroke="#e2f4f5" stroke-width="1.50" d="M490.2 33.90v11.63M515.0 33.90v11.63M606.5 33.90v11.63M613.8 33.90v11.63M644.3 33.90v11.63M411.8 45.53v11.63M472.8 45.53v11.63M535.3 45.53v11.63M557.1 45.53v11.63M631.2 45.53v11.63M640.0 45.53v11.63M647.2 45.53v11.63M419.0 126.94v11.63M443.7 126.94v11.63M455.4 126.94v11.63M474.3 126.94v11.63M503.3 126.94v11.63M520.8 126.94v11.63M557.1 126.94v11.63M613.8 126.94v11.63M631.2 161.83v11.63M634.1 161.83v11.63M635.6 161.83v11.63M449.5 208.35v11.63M459.7 208.35v11.63M517.9 208.35v11.63M561.5 208.35v11.63M570.2 208.35v11.63M571.6 208.35v11.63M605.1 208.35v11.63M439.4 227.40v11.63M445.2 227.40v11.63M464.1 227.40v11.63M472.8 227.40v11.63M510.6 227.40v11.63M520.8 227.40v11.63M551.3 227.40v11.63M558.6 227.40v11.63M571.6 227.40v11.63M586.2 227.40v11.63M631.2 227.40v11.63M359.4 285.55v11.63M360.9 285.55v11.63M385.6 285.55v11.63M404.5 285.55v11.63M608.0 285.55v11.63M368.1 297.18v11.63M374.0 297.18v11.63M381.2 297.18v11.63M401.6 297.18v11.63M423.4 297.18v11.63M435.0 297.18v11.63M464.1 297.18v11.63M496.1 297.18v11.63M497.5 297.18v11.63M501.9 297.18v11.63M549.8 297.18v11.63M558.6 297.18v11.63M571.6 308.81v11.63M615.2 308.81v11.63M362.3 355.33v11.63M455.4 355.33v11.63M471.3 355.33v11.63M472.8 355.33v11.63M565.8 355.33v11.63M568.7 355.33v11.63M580.4 355.33v11.63M589.1 355.33v11.63M645.8 355.33v11.63M387.0 378.59v11.63M365.2 390.22v11.63M385.6 390.22v11.63M388.5 390.22v11.63M416.1 390.22v11.63M568.7 390.22v11.63M638.5 390.22v11.63M647.2 390.22v11.63"/>
<path stroke="#e9f7e7" stroke-width="1.50" d="M506.2 33.90v11.63M535.3 33.90v11.63M628.3 33.90v11.63M642.9 33.90v11.63M648.7 33.90v11.63M432.1 45.53v11.63M484.4 45.53v11.63M545.5 45.53v11.63M641.4 45.53v11.63M376.9 126.94v11.63M378.3 126.94v11.63M413.2 126.94v11.63M456.8 126.94v11.63M483.0 126.94v11.63M564.4 126.94v11.63M596.3 126.94v11.63M645.8 126.94v11.63M533.8 161.83v11.63M548.4 161.83v11.63M596.3 161.83v11.63M374.0 208.35v11.63M429.2 208.35v11.63M493.1 208.35v11.63M513.5 208.35v11.63M536.8 208.35v11.63M542.6 208.35v11.63M648.7 208.35v11.63M404.5 227.40v11.63M430.6 227.40v11.63M544.0 227.40v11.63M552.7 227.40v11.63M555.6 227.40v11.63M605.1 227.40v11.63M640.0 227.40v11.63M359.4 273.92v11.63M390.0 297.18v11.63M392.9 297.18v11.63M430.6 297.18v11.63M443.7 297.18v11.63M512.0 297.18v11.63M539.7 297.18v11.63M571.6 297.18v11.63M603.6 297.18v11.63M634.1 297.18v11.63M363.8 355.33v11.63M368.1 355.33v11.63M375.4 355.33v11.63M379.8 355.33v11.63M433.6 355.33v11.63M451.0 355.33v11.63M465.5 355.33v11.63M532.4 355.33v11.63M561.5 355.33v11.63M577.5 355.33v11.63M578.9 355.33v11.63M590.5 355.33v11.63M624.0 355.33v11.63M637.0 355.33v11.63M372.5 390.22v11.63M570.2 390.22v11.63"/>
<path stroke="#fffdbc" stroke-width="1.50" d="M507.7 33.90v11.63M597.8 33.90v11.63M629.8 33.90v11.63M538.2 45.53v11.63M644.3 45.53v11.63M583.3 208.35v11.63M644.3 208.35v11.63M523.7 297.18v11.63M596.3 320.44v11.63M372.5 355.33v11.63M385.6 355.33v11.63M387.0 355.33v11.63M437.9 355.33v11.63M439.4 355.33v11.63M608.0 355.33v11.63"/>
<path stroke="#e7f6eb" stroke-width="1.50" d="M516.4 33.90v11.63M596.3 33.90v11.63M632.7 33.90v11.63M499.0 45.53v11.63M533.8 45.53v11.63M546.9 45.53v11.63M560.0 45.53v11.63M561.5 45.53v11.63M590.5 45.53v11.63M629.8 45.53v11.63M382.7 126.94v11.63M488.8 126.94v11.63M568.7 126.94v11.63M577.5 126.94v11.63M581.8 126.94v11.63M644.3 126.94v11.63M561.5 161.83v11.63M388.5 208.35v11.63M420.5 208.35v11.63M443.7 208.35v11.63M468.4 208.35v11.63M506.2 208.35v11.63M529.5 208.35v11.63M555.6 208.35v11.63M576.0 208.35v11.63M578.9 208.35v11.63M645.8 208.35v11.63M372.5 227.40v11.63M462.6 227.40v11.63M525.1 227.40v11.63M554.2 227.40v11.63M622.5 227.40v11.63M376.9 297.18v11.63M394.3 297.18v11.63M420.5 297.18v11.63M436.5 297.18v11.63M458.3 297.18v11.63M472.8 297.18v11.63M474.3 297.18v11.63M494.6 297.18v11.63M509.1 297.18v11.63M515.0 297.18v11.63M544.0 297.18v11.63M545.5 297.18v11.63M568.7 297.18v11.63M576.0 297.18v11.63M580.4 297.18v11.63M638.5 297.18v11.63M578.9 308.81v11.63M613.8 308.81v11.63M443.7 355.33v11.63M453.9 355.33v11.63M456.8 355.33v11.63M468.4 355.33v11.63M477.2 355.33v11.63M481.5 355.33v11.63M506.2 355.33v11.63M509.1 355.33v11.63M536.8 355.33v11.63M544.0 355.33v11.63M557.1 355.33v11.63M564.4 355.33v11.63M622.5 355.33v11.63M628.3 355.33v11.63M408.8 390.22v11.63M436.5 390.22v11.63M587.6 390.22v11.63"/>
<path stroke="#f4fbd3" stroke-width="1.50" d="M583.3 33.90v11.63M506.2 45.53v11.63M375.4 126.94v11.63M573.1 126.94v11.63M574.5 126.94v11.63M612.3 126.94v11.63M618.1 126.94v11.63M640.0 126.94v11.63M376.9 208.35v11.63M469.9 208.35v11.63M475.7 208.35v11.63M491.7 208.35v11.63M532.4 208.35v11.63M548.4 208.35v11.63M573.1 208.35v11.63M589.1 208.35v11.63M610.9 208.35v11.63M443.7 227.40v11.63M496.1 227.40v11.63M619.6 227.40v11.63M638.5 227.40v11.63M391.4 297.18v11.63M408.8 297.18v11.63M513.5 297.18v11.63M577.5 297.18v11.63M613.8 297.18v11.63M365.2 355.33v11.63M366.7 355.33v11.63M369.6 355.33v11.63M390.0 355.33v11.63M408.8 355.33v11.63M478.6 355.33v11.63M530.9 355.33v11.63M549.8 355.33v11.63M632.7 355.33v11.63M640.0 355.33v11.63M647.2 355.33v11.63"/>
<path stroke="#ecf8e2" stroke-width="1.50" d="M612.3 33.90v11.63M477.2 45.53v11.63M583.3 45.53v11.63M580.4 126.94v11.63M619.6 126.94v11.63M642.9 126.94v11.63M629.8 150.20v11.63M432.1 208.35v11.63M474.3 208.35v11.63M480.1 208.35v11.63M481.5 208.35v11.63M494.6 208.35v11.63M500.4 208.35v11.63M507.7 208.35v11.63M515.0 208.35v11.63M530.9 208.35v11.63M535.3 208.35v11.63M558.6 208.35v11.63M562.9 208.35v11.63M594.9 208.35v11.63M600.7 208.35v11.63M602.2 208.35v11.63M613.8 208.35v11.63M632.7 208.35v11.63M640.0 208.35v11.63M359.4 227.40v11.63M385.6 227.40v11.63M420.5 227.40v11.63M424.8 227.40v11.63M436.5 227.40v11.63M446.6 227.40v11.63M519.3 227.40v11.63M523.7 227.40v11.63M594.9 227.40v11.63M603.6 227.40v11.63M638.5 273.92v11.63M641.4 273.92v11.63M363.8 297.18v11.63M410.3 297.18v11.63M413.2 297.18v11.63M416.1 297.18v11.63M440.8 297.18v11.63M510.6 297.18v11.63M581.8 297.18v11.63M637.0 297.18v11.63M592.0 308.81v11.63M395.8 355.33v11.63M398.7 355.33v11.63M413.2 355.33v11.63M432.1 355.33v11.63M435.0 355.33v11.63M440.8 355.33v11.63M448.1 355.33v11.63M462.6 355.33v11.63M497.5 355.33v11.63M499.0 355.33v11.63M504.8 355.33v11.63M507.7 355.33v11.63M517.9 355.33v11.63M558.6 355.33v11.63M562.9 355.33v11.63M570.2 355.33v11.63M586.2 355.33v11.63M599.3 355.33v11.63M606.5 355.33v11.63M638.5 355.33v11.63M405.9 390.22v11.63M532.4 390.22v11.63M608.0 390.22v11.63"/>
<path stroke="#eff9dd" stroke-width="1.50" d="M631.2 33.90v11.63M516.4 45.53v11.63M475.7 126.94v11.63M487.3 126.94v11.63M528.0 126.94v11.63M538.2 126.94v11.63M541.1 126.94v11.63M546.9 126.94v11.63M641.4 126.94v11.63M379.8 208.35v11.63M391.4 208.35v11.63M435.0 208.35v11.63M442.3 208.35v11.63M503.3 208.35v11.63M519.3 208.35v11.63M525.1 208.35v11.63M528.0 208.35v11.63M606.5 208.35v11.63M616.7 208.35v11.63M618.1 208.35v11.63M390.0 227.40v11.63M391.4 227.40v11.63M394.3 227.40v11.63M395.8 227.40v11.63M405.9 227.40v11.63M433.6 227.40v11.63M494.6 227.40v11.63M609.4 227.40v11.63M615.2 227.40v11.63M462.6 285.55v11.63M362.3 297.18v11.63M365.2 297.18v11.63M371.1 297.18v11.63M388.5 297.18v11.63M405.9 297.18v11.63M442.3 297.18v11.63M555.6 297.18v11.63M560.0 297.18v11.63M586.2 297.18v11.63M587.6 297.18v11.63M602.2 297.18v11.63M624.0 297.18v11.63M647.2 297.18v11.63M388.5 355.33v11.63M397.2 355.33v11.63M401.6 355.33v11.63M445.2 355.33v11.63M535.3 355.33v11.63M542.6 355.33v11.63M613.8 355.33v11.63M619.6 355.33v11.63M625.4 355.33v11.63M631.2 355.33v11.63M634.1 355.33v11.63M420.5 390.22v11.63"/>
<path stroke="#5a89bf" stroke-width="1.50" d="M363.8 45.53v11.63M394.3 45.53v11.63M417.6 45.53v11.63M510.6 45.53v11.63M551.3 45.53v11.63M372.5 57.16v11.63M376.9 57.16v11.63M397.2 57.16v11.63M398.7 57.16v11.63M414.7 57.16v11.63M445.2 57.16v11.63M453.9 57.16v11.63M468.4 57.16v11.63M493.1 57.16v11.63M500.4 57.16v11.63M545.5 57.16v11.63M549.8 57.16v11.63M554.2 57.16v11.63M561.5 57.16v11.63M570.2 57.16v11.63M574.5 57.16v11.63M577.5 57.16v11.63M578.9 57.16v11.63M590.5 57.16v11.63M592.0 57.16v11.63M603.6 57.16v11.63M606.5 57.16v11.63M640.0 57.16v11.63M392.9 68.79v11.63M400.1 68.79v11.63M407.4 68.79v11.63M410.3 68.79v11.63M424.8 68.79v11.63M426.3 68.79v11.63M443.7 68.79v11.63M455.4 68.79v11.63M501.9 68.79v11.63M512.0 68.79v11.63M562.9 68.79v11.63M578.9 68.79v11.63M609.4 68.79v11.63M378.3 80.42v11.63M382.7 80.42v11.63M395.8 80.42v11.63M426.3 80.42v11.63M430.6 80.42v11.63M451.0 80.42v11.63M465.5 80.42v11.63M471.3 80.42v11.63M478.6 80.42v11.63M484.4 80.42v11.63M503.3 80.42v11.63M517.9 80.42v11.63M535.3 80.42v11.63M536.8 80.42v11.63M542.6 80.42v11.63M560.0 80.42v11.63M561.5 80.42v11.63M568.7 80.42v11.63M573.1 80.42v11.63M577.5 80.42v11.63M584.7 80.42v11.63M606.5 80.42v11.63M609.4 80.42v11.63M613.8 80.42v11.63M387.0 92.05v11.63M510.6 92.05v11.63M619.6 92.05v11.63M360.9 103.68v11.63M379.8 103.68v11.63M440.8 103.68v11.63M443.7 103.68v11.63M453.9 103.68v11.63M464.1 103.68v11.63M485.9 103.68v11.63M500.4 103.68v11.63M504.8 103.68v11.63M506.2 103.68v11.63M509.1 103.68v11.63M512.0 103.68v11.63M525.1 103.68v11.63M544.0 103.68v11.63M551.3 103.68v11.63M570.2 103.68v11.63M577.5 103.68v11.63M609.4 103.68v11.63M624.0 103.68v11.63M634.1 103.68v11.63M360.9 115.31v11.63M368.1 115.31v11.63M388.5 115.31v11.63M392.9 115.31v11.63M413.2 115.31v11.63M414.7 115.31v11.63M429.2 115.31v11.63M433.6 115.31v11.63M445.2 115.31v11.63M453.9 115.31v11.63M491.7 115.31v11.63M530.9 115.31v11.63M532.4 115.31v11.63M554.2 115.31v11.63M570.2 115.31v11.63M590.5 115.31v11.63M616.7 115.31v11.63M371.1 138.57v11.63M378.3 138.57v11.63M390.0 138.57v11.63M398.7 138.57v11.63M414.7 138.57v11.63M419.0 138.57v11.63M452.5 138.57v11.63M458.3 138.57v11.63M478.6 138.57v11.63M501.9 138.57v11.63M515.0 138.57v11.63M529.5 138.57v11.63M557.1 138.57v11.63M558.6 138.57v11.63M571.6 138.57v11.63M584.7 138.57v11.63M589.1 138.57v11.63M610.9 138.57v11.63M635.6 138.57v11.63M555.6 150.20v11.63M613.8 150.20v11.63M410.3 161.83v11.63M551.3 161.83v11.63M592.0 161.83v11.63M368.1 173.46v11.63M369.6 173.46v11.63M384.1 173.46v11.63M390.0 173.46v11.63M403.0 173.46v11.63M426.3 173.46v11.63M427.7 173.46v11.63M439.4 173.46v11.63M448.1 173.46v11.63M451.0 173.46v11.63M461.2 173.46v11.63M519.3 173.46v11.63M557.1 173.46v11.63M571.6 173.46v11.63M576.0 173.46v11.63M581.8 173.46v11.63M584.7 173.46v11.63M589.1 173.46v11.63M602.2 173.46v11.63M609.4 173.46v11.63M362.3 185.09v11.63M371.1 185.09v11.63M374.0 185.09v11.63M375.4 185.09v11.63M427.7 185.09v11.63M458.3 185.09v11.63M469.9 185.09v11.63M472.8 185.09v11.63M474.3 185.09v11.63M549.8 185.09v11.63M554.2 185.09v11.63M558.6 185.09v11.63M565.8 185.09v11.63M638.5 185.09v11.63M374.0 196.72v11.63M382.7 196.72v11.63M420.5 196.72v11.63M452.5 196.72v11.63M453.9 196.72v11.63M483.0 196.72v11.63M485.9 196.72v11.63M509.1 196.72v11.63M542.6 196.72v11.63M544.0 196.72v11.63M548.4 196.72v11.63M570.2 196.72v11.63M571.6 196.72v11.63M577.5 196.72v11.63M589.1 196.72v11.63M603.6 196.72v11.63M605.1 196.72v11.63M615.2 196.72v11.63M619.6 196.72v11.63M624.0 196.72v11.63M634.1 196.72v11.63M523.7 239.03v11.63M587.6 239.03v11.63M397.2 250.66v11.63M411.8 250.66v11.63M426.3 250.66v11.63M501.9 250.66v11.63M610.9 250.66v11.63M629.8 250.66v11.63M638.5 250.66v11.63M398.7 262.29v11.63M401.6 262.29v11.63M404.5 262.29v11.63M426.3 262.29v11.63M448.1 262.29v11.63M474.3 262.29v11.63M484.4 262.29v11.63M501.9 262.29v11.63M516.4 262.29v11.63M532.4 262.29v11.63M546.9 262.29v11.63M577.5 262.29v11.63M580.4 262.29v11.63M600.7 262.29v11.63M616.7 262.29v11.63M397.2 273.92v11.63M443.7 273.92v11.63M507.7 273.92v11.63M645.8 273.92v11.63M541.1 285.55v11.63M583.3 285.55v11.63M629.8 285.55v11.63M468.4 308.81v11.63M600.7 308.81v11.63M359.4 332.07v11.63M365.2 332.07v11.63M378.3 332.07v11.63M392.9 332.07v11.63M410.3 332.07v11.63M421.9 332.07v11.63M449.5 332.07v11.63M451.0 332.07v11.63M453.9 332.07v11.63M458.3 332.07v11.63M496.1 332.07v11.63M536.8 332.07v11.63M564.4 332.07v11.63M609.4 332.07v11.63M615.2 332.07v11.63M621.1 332.07v11.63M638.5 332.07v11.63M369.6 366.96v11.63M376.9 366.96v11.63M384.1 366.96v11.63M394.3 366.96v11.63M411.8 366.96v11.63M432.1 366.96v11.63M439.4 366.96v11.63M445.2 366.96v11.63M455.4 366.96v11.63M480.1 366.96v11.63M483.0 366.96v11.63M491.7 366.96v11.63M510.6 366.96v11.63M567.3 366.96v11.63M584.7 366.96v11.63M610.9 366.96v11.63M619.6 366.96v11.63M641.4 366.96v11.63M378.3 378.59v11.63M382.7 378.59v11.63M411.8 378.59v11.63M413.2 378.59v11.63M475.7 378.59v11.63M528.0 378.59v11.63M546.9 378.59v11.63"/>
<path stroke="#fffab8" stroke-width="1.50" d="M378.3 45.53v11.63M464.1 208.35v11.63M596.3 208.35v11.63M387.0 297.18v11.63M429.2 320.44v11.63M459.7 320.44v11.63M461.2 320.44v11.63M526.6 320.44v11.63M417.6 355.33v11.63M427.7 355.33v11.63M493.1 355.33v11.63M560.0 355.33v11.63M571.6 355.33v11.63"/>
<path stroke="#fcfec5" stroke-width="1.50" d="M596.3 45.53v11.63M567.3 126.94v11.63M522.2 208.35v11.63M642.9 208.35v11.63M385.6 297.18v11.63M578.9 297.18v11.63M605.1 297.18v11.63M360.9 355.33v11.63M421.9 355.33v11.63M491.7 355.33v11.63M496.1 355.33v11.63"/>
<path stroke="#fff5b0" stroke-width="1.50" d="M597.8 45.53v11.63M403.0 297.18v11.63M583.3 320.44v11.63M640.0 320.44v11.63M645.8 320.44v11.63M420.5 355.33v11.63M423.4 355.33v11.63M519.3 355.33v11.63M600.7 355.33v11.63"/>
<path stroke="#f9fdca" stroke-width="1.50" d="M599.3 45.53v11.63M468.4 126.94v11.63M480.1 126.94v11.63M378.3 208.35v11.63M437.9 208.35v11.63M538.2 208.35v11.63M574.5 208.35v11.63M403.0 227.40v11.63M497.5 227.40v11.63M637.0 227.40v11.63M372.5 297.18v11.63M445.2 297.18v11.63M462.6 297.18v11.63M608.0 308.81v11.63M407.4 355.33v11.63M419.0 355.33v11.63M500.4 355.33v11.63M551.3 355.33v11.63M552.7 355.33v11.63M573.1 355.33v11.63"/>
<path stroke="#feffc0" stroke-width="1.50" d="M612.3 45.53v11.63M645.8 45.53v11.63M565.8 126.94v11.63M628.3 126.94v11.63M471.3 208.35v11.63M526.6 208.35v11.63M539.7 208.35v11.63M541.1 208.35v11.63M597.8 208.35v11.63M628.3 208.35v11.63M641.4 208.35v11.63M478.6 227.40v11.63M608.0 297.18v11.63M394.3 355.33v11.63M416.1 355.33v11.63M512.0 355.33v11.63M554.2 355.33v11.63M592.0 355.33v11.63"/>
<path stroke="#f7fcce" stroke-width="1.50" d="M411.8 126.94v11.63M449.5 126.94v11.63M507.7 126.94v11.63M369.6 208.35v11.63M382.7 208.35v11.63M411.8 208.35v11.63M440.8 208.35v11.63M465.5 208.35v11.63M467.0 208.35v11.63M485.9 208.35v11.63M488.8 208.35v11.63M544.0 208.35v11.63M549.8 208.35v11.63M586.2 208.35v11.63M631.2 208.35v11.63M365.2 227.40v11.63M501.9 227.40v11.63M404.5 297.18v11.63M407.4 297.18v11.63M414.7 297.18v11.63M551.3 297.18v11.63M554.2 297.18v11.63M374.0 355.33v11.63M376.9 355.33v11.63M381.2 355.33v11.63M403.0 355.33v11.63M404.5 355.33v11.63M426.3 355.33v11.63M436.5 355.33v11.63M458.3 355.33v11.63M467.0 355.33v11.63M515.0 355.33v11.63M525.1 355.33v11.63M529.5 355.33v11.63M587.6 355.33v11.63M523.7 390.22v11.63"/>
<path stroke="#f1fad8" stroke-width="1.50" d="M589.1 126.94v11.63M439.4 208.35v11.63M472.8 208.35v11.63M483.0 208.35v11.63M484.4 208.35v11.63M490.2 208.35v11.63M516.4 208.35v11.63M520.8 208.35v11.63M545.5 208.35v11.63M546.9 208.35v11.63M560.0 208.35v11.63M580.4 208.35v11.63M590.5 208.35v11.63M593.4 208.35v11.63M599.3 208.35v11.63M612.3 208.35v11.63M626.9 208.35v11.63M635.6 208.35v11.63M387.0 227.40v11.63M392.9 227.40v11.63M401.6 227.40v11.63M417.6 227.40v11.63M426.3 227.40v11.63M504.8 227.40v11.63M562.9 227.40v11.63M366.7 297.18v11.63M536.8 297.18v11.63M542.6 297.18v11.63M552.7 297.18v11.63M609.4 297.18v11.63M625.4 297.18v11.63M632.7 297.18v11.63M391.4 355.33v11.63M392.9 355.33v11.63M410.3 355.33v11.63M430.6 355.33v11.63M452.5 355.33v11.63M501.9 355.33v11.63M516.4 355.33v11.63M520.8 355.33v11.63M522.2 355.33v11.63M545.5 355.33v11.63M555.6 355.33v11.63M593.4 355.33v11.63M609.4 355.33v11.63M615.2 355.33v11.63M621.1 355.33v11.63M635.6 355.33v11.63M571.6 390.22v11.63"/>
<path stroke="#fff8b4" stroke-width="1.50" d="M487.3 208.35v11.63M533.8 208.35v11.63M629.8 208.35v11.63M475.7 320.44v11.63M359.4 355.33v11.63M510.6 355.33v11.63M594.9 355.33v11.63M603.6 355.33v11.63"/>
<path stroke="#fff2ac" stroke-width="1.50" d="M584.7 208.35v11.63M599.3 320.44v11.63M400.1 355.33v11.63M494.6 355.33v11.63M513.5 355.33v11.63M605.1 355.33v11.63"/>
<path stroke="#e95c3f" stroke-width="1.50" d="M359.4 320.44v11.63M407.4 320.44v11.63M436.5 320.44v11.63M452.5 320.44v11.63M453.9 320.44v11.63M544.0 320.44v11.63M555.6 320.44v11.63M592.0 320.44v11.63"/>
<path stroke="#d9352a" stroke-width="1.50" d="M360.9 320.44v11.63M381.2 320.44v11.63M403.0 320.44v11.63"/>
<path stroke="#fc935d" stroke-width="1.50" d="M362.3 320.44v11.63M451.0 320.44v11.63M477.2 320.44v11.63M491.7 320.44v11.63M509.1 320.44v11.63M513.5 320.44v11.63M561.5 320.44v11.63M562.9 320.44v11.63M593.4 320.44v11.63M634.1 320.44v11.63"/>
<path stroke="#ec6443" stroke-width="1.50" d="M363.8 320.44v11.63M366.7 320.44v11.63M478.6 320.44v11.63M519.3 320.44v11.63M522.2 320.44v11.63M577.5 320.44v11.63"/>
<path stroke="#f88454" stroke-width="1.50" d="M365.2 320.44v11.63M369.6 320.44v11.63M400.1 320.44v11.63M419.0 320.44v11.63M420.5 320.44v11.63M427.7 320.44v11.63M512.0 320.44v11.63M605.1 320.44v11.63M618.1 320.44v11.63M622.5 320.44v11.63"/>
<path stroke="#ef6c47" stroke-width="1.50" d="M368.1 320.44v11.63M378.3 320.44v11.63M408.8 320.44v11.63M443.7 320.44v11.63M458.3 320.44v11.63M485.9 320.44v11.63"/>
<path stroke="#fca166" stroke-width="1.50" d="M371.1 320.44v11.63M384.1 320.44v11.63M387.0 320.44v11.63M410.3 320.44v11.63M411.8 320.44v11.63M417.6 320.44v11.63M423.4 320.44v11.63M446.6 320.44v11.63M455.4 320.44v11.63M496.1 320.44v11.63M507.7 320.44v11.63M539.7 320.44v11.63"/>
<path stroke="#f57c50" stroke-width="1.50" d="M372.5 320.44v11.63M392.9 320.44v11.63M394.3 320.44v11.63M445.2 320.44v11.63M490.2 320.44v11.63M517.9 320.44v11.63M523.7 320.44v11.63M590.5 320.44v11.63M608.0 320.44v11.63M625.4 320.44v11.63"/>
<path stroke="#fee89c" stroke-width="1.50" d="M374.0 320.44v11.63M449.5 320.44v11.63M584.7 320.44v11.63M644.3 320.44v11.63"/>
<path stroke="#f2744b" stroke-width="1.50" d="M375.4 320.44v11.63M433.6 320.44v11.63M515.0 320.44v11.63M532.4 320.44v11.63M551.3 320.44v11.63M552.7 320.44v11.63M578.9 320.44v11.63M609.4 320.44v11.63M615.2 320.44v11.63M624.0 320.44v11.63"/>
<path stroke="#fdaf6f" stroke-width="1.50" d="M376.9 320.44v11.63M432.1 320.44v11.63M435.0 320.44v11.63M504.8 320.44v11.63M533.8 320.44v11.63M560.0 320.44v11.63M580.4 320.44v11.63M589.1 320.44v11.63M603.6 320.44v11.63M616.7 320.44v11.63M641.4 320.44v11.63"/>
<path stroke="#d73027" stroke-width="1.50" d="M379.8 320.44v11.63M462.6 320.44v11.63M621.1 320.44v11.63"/>
<path stroke="#fed287" stroke-width="1.50" d="M382.7 320.44v11.63M395.8 320.44v11.63M442.3 320.44v11.63M469.9 320.44v11.63M500.4 320.44v11.63M535.3 320.44v11.63M536.8 320.44v11.63M571.6 320.44v11.63M628.3 320.44v11.63M647.2 320.44v11.63"/>
<path stroke="#e5543a" stroke-width="1.50" d="M385.6 320.44v11.63M388.5 320.44v11.63M401.6 320.44v11.63M632.7 320.44v11.63"/>
<path stroke="#dc3d2e" stroke-width="1.50" d="M390.0 320.44v11.63M391.4 320.44v11.63M405.9 320.44v11.63"/>
<path stroke="#fee090" stroke-width="1.50" d="M397.2 320.44v11.63M430.6 320.44v11.63M484.4 320.44v11.63M581.8 320.44v11.63M629.8 320.44v11.63"/>
<path stroke="#fdbd79" stroke-width="1.50" d="M398.7 320.44v11.63M468.4 320.44v11.63M480.1 320.44v11.63M516.4 320.44v11.63M554.2 320.44v11.63M568.7 320.44v11.63M606.5 320.44v11.63"/>
<path stroke="#fdcb82" stroke-width="1.50" d="M404.5 320.44v11.63M497.5 320.44v11.63M541.1 320.44v11.63M600.7 320.44v11.63"/>
<path stroke="#fb8b58" stroke-width="1.50" d="M413.2 320.44v11.63M456.8 320.44v11.63M520.8 320.44v11.63M573.1 320.44v11.63M613.8 320.44v11.63M638.5 320.44v11.63"/>
<path stroke="#fc9a61" stroke-width="1.50" d="M414.7 320.44v11.63M437.9 320.44v11.63M440.8 320.44v11.63M542.6 320.44v11.63M602.2 320.44v11.63M631.2 320.44v11.63M635.6 320.44v11.63"/>
<path stroke="#fda86b" stroke-width="1.50" d="M416.1 320.44v11.63M421.9 320.44v11.63M464.1 320.44v11.63M481.5 320.44v11.63M488.8 320.44v11.63M493.1 320.44v11.63M494.6 320.44v11.63M503.3 320.44v11.63M558.6 320.44v11.63M576.0 320.44v11.63M637.0 320.44v11.63"/>
<path stroke="#fdb674" stroke-width="1.50" d="M424.8 320.44v11.63M448.1 320.44v11.63M529.5 320.44v11.63M570.2 320.44v11.63M586.2 320.44v11.63M610.9 320.44v11.63"/>
<path stroke="#feeda4" stroke-width="1.50" d="M426.3 320.44v11.63M567.3 320.44v11.63M405.9 355.33v11.63M424.8 355.33v11.63"/>
<path stroke="#fff0a8" stroke-width="1.50" d="M439.4 320.44v11.63M546.9 320.44v11.63M642.9 320.44v11.63M371.1 355.33v11.63M384.1 355.33v11.63M602.2 355.33v11.63"/>
<path stroke="#fee394" stroke-width="1.50" d="M465.5 320.44v11.63M472.8 320.44v11.63M487.3 320.44v11.63M530.9 320.44v11.63M557.1 320.44v11.63M574.5 320.44v11.63"/>
<path stroke="#fdc47d" stroke-width="1.50" d="M467.0 320.44v11.63M474.3 320.44v11.63M501.9 320.44v11.63M545.5 320.44v11.63M549.8 320.44v11.63M564.4 320.44v11.63M565.8 320.44v11.63M626.9 320.44v11.63"/>
<path stroke="#fee598" stroke-width="1.50" d="M471.3 320.44v11.63M525.1 320.44v11.63M594.9 320.44v11.63M597.8 320.44v11.63M648.7 320.44v11.63"/>
<path stroke="#fed98b" stroke-width="1.50" d="M483.0 320.44v11.63M499.0 320.44v11.63M506.2 320.44v11.63M528.0 320.44v11.63M548.4 320.44v11.63"/>
<path stroke="#e24c36" stroke-width="1.50" d="M510.6 320.44v11.63"/>
<path stroke="#feeba0" stroke-width="1.50" d="M538.2 320.44v11.63M612.3 320.44v11.63M523.7 355.33v11.63"/>
<path stroke="#df4432" stroke-width="1.50" d="M587.6 320.44v11.63M619.6 320.44v11.63"/>
<text x="353.30" y="127.20" font-size="8.15" text-anchor="middle" fill="#000" transform="rotate(-90 353.3 127.2)">positively correlated</text>
<text x="353.30" y="314.50" font-size="8.15" text-anchor="middle" fill="#000" transform="rotate(-90 353.3 314.5)">negatively correlated</text>
<text x="0.40" y="432.30" font-size="9.6" text-anchor="start" font-weight="bold" fill="#000">d</text>
<rect x="124.40" y="426.50" width="151.20" height="7.40" fill="#bebebe" stroke="#5a5a5a" stroke-width="0.5"/>
<text x="120.30" y="432.60" font-size="6.8" text-anchor="end" fill="#000">*** MEgrey</text>
<rect x="124.40" y="438.55" width="149.50" height="7.40" fill="#a020f0" stroke="#5a5a5a" stroke-width="0.5"/>
<text x="120.30" y="444.65" font-size="6.8" text-anchor="end" fill="#000">*** MEpurple</text>
<rect x="124.40" y="450.60" width="85.40" height="7.40" fill="#00ffff" stroke="#5a5a5a" stroke-width="0.5"/>
<text x="120.30" y="456.70" font-size="6.8" text-anchor="end" fill="#000">*** MEcyan</text>
<rect x="124.40" y="462.65" width="46.50" height="7.40" fill="#ff00ff" stroke="#5a5a5a" stroke-width="0.5"/>
<text x="120.30" y="468.75" font-size="6.8" text-anchor="end" fill="#000">MEmagenta</text>
<rect x="124.40" y="474.70" width="27.20" height="7.40" fill="#90ee90" stroke="#5a5a5a" stroke-width="0.5"/>
<text x="120.30" y="480.80" font-size="6.8" text-anchor="end" fill="#000">MElightgreen</text>
<rect x="124.40" y="486.75" width="19.80" height="7.40" fill="#0000ff" stroke="#5a5a5a" stroke-width="0.5"/>
<text x="120.30" y="492.85" font-size="6.8" text-anchor="end" fill="#000">MEblue</text>
<rect x="124.40" y="498.80" width="9.80" height="7.40" fill="#fa8072" stroke="#5a5a5a" stroke-width="0.5"/>
<text x="120.30" y="504.90" font-size="6.8" text-anchor="end" fill="#000">MEsalmon</text>
<rect x="124.40" y="510.85" width="0.40" height="7.40" fill="#00ff00" stroke="#5a5a5a" stroke-width="0.5"/>
<text x="128.80" y="516.95" font-size="6.8" text-anchor="start" fill="#000">MEgreen</text>
<rect x="122.90" y="522.90" width="1.50" height="7.40" fill="#191970" stroke="#5a5a5a" stroke-width="0.5"/>
<text x="128.80" y="529.00" font-size="6.8" text-anchor="start" fill="#000">MEmidnightblue</text>
<rect x="112.20" y="534.95" width="12.20" height="7.40" fill="#ff0000" stroke="#5a5a5a" stroke-width="0.5"/>
<text x="128.80" y="541.05" font-size="6.8" text-anchor="start" fill="#000">MEred</text>
<rect x="105.80" y="547.00" width="18.60" height="7.40" fill="#a52a2a" stroke="#5a5a5a" stroke-width="0.5"/>
<text x="128.80" y="553.10" font-size="6.8" text-anchor="start" fill="#000">MEbrown</text>
<rect x="100.80" y="559.05" width="23.60" height="7.40" fill="#999999" stroke="#5a5a5a" stroke-width="0.5"/>
<text x="128.80" y="565.15" font-size="6.8" text-anchor="start" fill="#000">MEgrey60</text>
<rect x="100.80" y="571.10" width="23.60" height="7.40" fill="#40e0d0" stroke="#5a5a5a" stroke-width="0.5"/>
<text x="128.80" y="577.20" font-size="6.8" text-anchor="start" fill="#000">MEturquoise</text>
<rect x="88.00" y="583.15" width="36.40" height="7.40" fill="#e0ffff" stroke="#5a5a5a" stroke-width="0.5"/>
<text x="128.80" y="589.25" font-size="6.8" text-anchor="start" fill="#000">MElightcyan</text>
<rect x="75.30" y="595.20" width="49.10" height="7.40" fill="#000000" stroke="#5a5a5a" stroke-width="0.5"/>
<text x="128.80" y="601.30" font-size="6.8" text-anchor="start" fill="#000">MEblack *</text>
<rect x="71.40" y="607.25" width="53.00" height="7.40" fill="#adff2f" stroke="#5a5a5a" stroke-width="0.5"/>
<text x="128.80" y="613.35" font-size="6.8" text-anchor="start" fill="#000">MEgreenyellow *</text>
<rect x="44.70" y="619.30" width="79.70" height="7.40" fill="#d2b48c" stroke="#5a5a5a" stroke-width="0.5"/>
<text x="128.80" y="625.40" font-size="6.8" text-anchor="start" fill="#000">MEtan **</text>
<rect x="34.20" y="631.35" width="90.20" height="7.40" fill="#ffc0cb" stroke="#5a5a5a" stroke-width="0.5"/>
<text x="128.80" y="637.45" font-size="6.8" text-anchor="start" fill="#000">MEpink ***</text>
<rect x="3.30" y="643.40" width="121.10" height="7.40" fill="#ffff00" stroke="#5a5a5a" stroke-width="0.5"/>
<text x="128.80" y="649.50" font-size="6.8" text-anchor="start" fill="#000">MEyellow ***</text>
<line x1="124.40" y1="423.80" x2="124.40" y2="658.50" stroke="#2a2a2a" stroke-width="1.0"/>
<line x1="2.60" y1="658.50" x2="275.40" y2="658.50" stroke="#2a2a2a" stroke-width="1.0"/>
<line x1="53.80" y1="658.50" x2="53.80" y2="660.50" stroke="#2a2a2a" stroke-width="0.8"/>
<text x="53.80" y="669.00" font-size="7.7" text-anchor="middle" fill="#000">−0.2</text>
<line x1="124.40" y1="658.50" x2="124.40" y2="660.50" stroke="#2a2a2a" stroke-width="0.8"/>
<text x="124.40" y="669.00" font-size="7.7" text-anchor="middle" fill="#000">0</text>
<line x1="195.00" y1="658.50" x2="195.00" y2="660.50" stroke="#2a2a2a" stroke-width="0.8"/>
<text x="195.00" y="669.00" font-size="7.7" text-anchor="middle" fill="#000">0.2</text>
<line x1="265.60" y1="658.50" x2="265.60" y2="660.50" stroke="#2a2a2a" stroke-width="0.8"/>
<text x="265.60" y="669.00" font-size="7.7" text-anchor="middle" fill="#000">0.4</text>
<text x="132.40" y="680.60" font-size="8.15" text-anchor="middle" fill="#000">Correlation between gene modules and PPS</text>
<text x="288.40" y="432.30" font-size="9.6" text-anchor="start" font-weight="bold" fill="#000">e</text>
<line x1="361.40" y1="446.10" x2="361.40" y2="525.60" stroke="#2a2a2a" stroke-width="1.0"/>
<line x1="360.90" y1="525.60" x2="446.00" y2="525.60" stroke="#2a2a2a" stroke-width="1.0"/>
<line x1="359.40" y1="522.00" x2="361.40" y2="522.00" stroke="#2a2a2a" stroke-width="0.8"/>
<text x="357.10" y="522.00" font-size="6.8" text-anchor="middle" fill="#000" transform="rotate(-90 357.09999999999997 522.0)">0</text>
<line x1="359.40" y1="504.00" x2="361.40" y2="504.00" stroke="#2a2a2a" stroke-width="0.8"/>
<text x="357.10" y="504.00" font-size="6.8" text-anchor="middle" fill="#000" transform="rotate(-90 357.09999999999997 504.0)">0.25</text>
<line x1="359.40" y1="486.00" x2="361.40" y2="486.00" stroke="#2a2a2a" stroke-width="0.8"/>
<text x="357.10" y="486.00" font-size="6.8" text-anchor="middle" fill="#000" transform="rotate(-90 357.09999999999997 486.0)">0.5</text>
<line x1="359.40" y1="468.00" x2="361.40" y2="468.00" stroke="#2a2a2a" stroke-width="0.8"/>
<text x="357.10" y="468.00" font-size="6.8" text-anchor="middle" fill="#000" transform="rotate(-90 357.09999999999997 468.0)">0.75</text>
<line x1="359.40" y1="450.00" x2="361.40" y2="450.00" stroke="#2a2a2a" stroke-width="0.8"/>
<text x="357.10" y="450.00" font-size="6.8" text-anchor="middle" fill="#000" transform="rotate(-90 357.09999999999997 450.0)">1</text>
<line x1="365.10" y1="525.60" x2="365.10" y2="527.60" stroke="#2a2a2a" stroke-width="0.8"/>
<text x="365.10" y="535.20" font-size="6.8" text-anchor="middle" fill="#000">0</text>
<line x1="396.05" y1="525.60" x2="396.05" y2="527.60" stroke="#2a2a2a" stroke-width="0.8"/>
<text x="396.05" y="535.20" font-size="6.8" text-anchor="middle" fill="#000">50</text>
<line x1="427.00" y1="525.60" x2="427.00" y2="527.60" stroke="#2a2a2a" stroke-width="0.8"/>
<text x="427.00" y="535.20" font-size="6.8" text-anchor="middle" fill="#000">100</text>
<text x="404.30" y="544.00" font-size="6.8" text-anchor="middle" fill="#000">Time (month)</text>
<line x1="457.60" y1="446.10" x2="457.60" y2="525.60" stroke="#2a2a2a" stroke-width="1.0"/>
<line x1="457.10" y1="525.60" x2="542.80" y2="525.60" stroke="#2a2a2a" stroke-width="1.0"/>
<line x1="455.60" y1="522.00" x2="457.60" y2="522.00" stroke="#2a2a2a" stroke-width="0.8"/>
<line x1="455.60" y1="504.00" x2="457.60" y2="504.00" stroke="#2a2a2a" stroke-width="0.8"/>
<line x1="455.60" y1="486.00" x2="457.60" y2="486.00" stroke="#2a2a2a" stroke-width="0.8"/>
<line x1="455.60" y1="468.00" x2="457.60" y2="468.00" stroke="#2a2a2a" stroke-width="0.8"/>
<line x1="455.60" y1="450.00" x2="457.60" y2="450.00" stroke="#2a2a2a" stroke-width="0.8"/>
<line x1="461.40" y1="525.60" x2="461.40" y2="527.60" stroke="#2a2a2a" stroke-width="0.8"/>
<text x="461.40" y="535.20" font-size="6.8" text-anchor="middle" fill="#000">0</text>
<line x1="492.25" y1="525.60" x2="492.25" y2="527.60" stroke="#2a2a2a" stroke-width="0.8"/>
<text x="492.25" y="535.20" font-size="6.8" text-anchor="middle" fill="#000">50</text>
<line x1="523.10" y1="525.60" x2="523.10" y2="527.60" stroke="#2a2a2a" stroke-width="0.8"/>
<text x="523.10" y="535.20" font-size="6.8" text-anchor="middle" fill="#000">100</text>
<text x="500.80" y="544.00" font-size="6.8" text-anchor="middle" fill="#000">Time (month)</text>
<line x1="554.00" y1="446.10" x2="554.00" y2="525.60" stroke="#2a2a2a" stroke-width="1.0"/>
<line x1="553.50" y1="525.60" x2="638.00" y2="525.60" stroke="#2a2a2a" stroke-width="1.0"/>
<line x1="552.00" y1="522.00" x2="554.00" y2="522.00" stroke="#2a2a2a" stroke-width="0.8"/>
<line x1="552.00" y1="504.00" x2="554.00" y2="504.00" stroke="#2a2a2a" stroke-width="0.8"/>
<line x1="552.00" y1="486.00" x2="554.00" y2="486.00" stroke="#2a2a2a" stroke-width="0.8"/>
<line x1="552.00" y1="468.00" x2="554.00" y2="468.00" stroke="#2a2a2a" stroke-width="0.8"/>
<line x1="552.00" y1="450.00" x2="554.00" y2="450.00" stroke="#2a2a2a" stroke-width="0.8"/>
<line x1="557.80" y1="525.60" x2="557.80" y2="527.60" stroke="#2a2a2a" stroke-width="0.8"/>
<text x="557.80" y="535.20" font-size="6.8" text-anchor="middle" fill="#000">0</text>
<line x1="596.08" y1="525.60" x2="596.08" y2="527.60" stroke="#2a2a2a" stroke-width="0.8"/>
<text x="596.08" y="535.20" font-size="6.8" text-anchor="middle" fill="#000">60</text>
<line x1="634.36" y1="525.60" x2="634.36" y2="527.60" stroke="#2a2a2a" stroke-width="0.8"/>
<text x="634.36" y="535.20" font-size="6.8" text-anchor="middle" fill="#000">120</text>
<text x="596.60" y="544.00" font-size="6.8" text-anchor="middle" fill="#000">Time (month)</text>
<text x="345.90" y="486.00" font-size="6.8" text-anchor="middle" fill="#000" transform="rotate(-90 345.9 486.0)">Survival Probability</text>
<text x="404.30" y="429.70" font-size="8.3" text-anchor="middle" fill="#000">Tang <tspan font-style="italic">et al.</tspan>, <tspan font-style="italic">n</tspan> = 176</text>
<text x="548.30" y="429.70" font-size="8.3" text-anchor="middle" fill="#000">Okayama <tspan font-style="italic">et al.</tspan>, <tspan font-style="italic">n</tspan> = 246</text>
<text x="404.00" y="443.00" font-size="8.35" text-anchor="middle" fill="#000">OS</text>
<text x="500.20" y="443.00" font-size="8.35" text-anchor="middle" fill="#000">OS</text>
<text x="596.00" y="443.00" font-size="8.35" text-anchor="middle" fill="#000">DFS</text>
<text x="365.20" y="520.40" font-size="6.8" fill="#000"><tspan font-style="italic">p</tspan> = 0.00048</text>
<text x="461.80" y="520.40" font-size="6.8" fill="#000"><tspan font-style="italic">p</tspan> = 0.00025</text>
<text x="558.00" y="520.00" font-size="6.8" fill="#000"><tspan font-style="italic">p</tspan> &lt; 0.0001</text>
<polyline points="364.64,449.96 372.69,449.96 372.69,450.54 375.62,450.54 375.62,451.42 380.75,451.42 380.75,452.01 385.87,452.01 385.87,458.30 388.80,458.30 388.80,459.77 390.26,459.77 390.26,461.23 398.32,461.23 398.32,462.25 400.51,462.25 400.51,463.13 403.00,463.13 403.00,464.60 403.44,464.60 403.44,467.82 410.03,467.82 410.03,471.04 413.69,471.04 413.69,473.67 415.15,473.67 415.15,479.82 439.31,479.82 439.31,487.14 445.90,487.14" fill="none" stroke="#52A8E4" stroke-width="1.05"/>
<polyline points="364.64,449.96 367.57,449.96 367.57,451.42 370.50,451.42 370.50,453.18 372.69,453.18 372.69,454.64 374.16,454.64 374.16,457.57 375.62,457.57 375.62,461.23 377.09,461.23 377.09,463.43 378.55,463.43 378.55,465.18 380.75,465.18 380.75,467.09 382.21,467.09 382.21,468.55 384.41,468.55 384.41,471.48 386.60,471.48 386.60,472.94 388.80,472.94 388.80,474.41 390.26,474.41 390.26,477.34 392.46,477.34 392.46,478.36 393.92,478.36 393.92,479.24 396.85,479.24 396.85,481.73 398.32,481.73 398.32,483.92 399.78,483.92 399.78,485.39 408.57,485.39 408.57,487.14 415.89,487.14 415.89,489.05 420.28,489.05 420.28,490.95 424.67,490.95 424.67,493.44 429.80,493.44 429.80,496.37 431.26,496.37 431.26,498.57 445.46,498.57" fill="none" stroke="#DFA632" stroke-width="1.05"/>
<polyline points="461.09,449.53 466.36,449.53 466.36,450.23 477.79,450.23 477.79,451.28 482.18,451.28 482.18,453.04 488.33,453.04 488.33,454.45 499.75,454.45 499.75,455.50 532.79,455.50" fill="none" stroke="#52A8E4" stroke-width="1.05"/>
<polyline points="461.09,449.53 469.00,449.53 469.00,451.28 472.51,451.28 472.51,453.39 475.15,453.39 475.15,455.15 477.79,455.15 477.79,456.91 482.18,456.91 482.18,457.79 484.82,457.79 484.82,459.02 487.45,459.02 487.45,461.30 490.09,461.30 490.09,463.94 491.85,463.94 491.85,466.05 496.24,466.05 496.24,468.33 507.66,468.33 507.66,471.32 516.10,471.32 516.10,475.36 541.05,475.36" fill="none" stroke="#DFA632" stroke-width="1.05"/>
<polyline points="557.82,448.79 560.81,448.79 560.81,449.69 565.30,449.69 565.30,451.48 569.79,451.48 569.79,453.28 575.78,453.28 575.78,454.77 583.26,454.77 583.26,455.97 592.24,455.97 592.24,456.87 593.74,456.87 593.74,458.67 632.05,458.67" fill="none" stroke="#52A8E4" stroke-width="1.05"/>
<polyline points="557.82,448.79 560.81,448.79 560.81,450.28 563.81,450.28 563.81,453.28 566.80,453.28 566.80,456.87 569.19,456.87 569.19,459.86 571.29,459.86 571.29,464.35 574.28,464.35 574.28,469.44 578.77,469.44 578.77,473.33 583.26,473.33 583.26,477.22 587.75,477.22 587.75,480.81 590.75,480.81 590.75,482.91 599.72,482.91 599.72,483.81 607.21,483.81 607.21,487.40 629.06,487.40" fill="none" stroke="#DFA632" stroke-width="1.05"/>
<line x1="309.80" y1="583.40" x2="309.80" y2="662.70" stroke="#2a2a2a" stroke-width="1.0"/>
<line x1="309.30" y1="662.70" x2="394.50" y2="662.70" stroke="#2a2a2a" stroke-width="1.0"/>
<line x1="307.80" y1="659.10" x2="309.80" y2="659.10" stroke="#2a2a2a" stroke-width="0.8"/>
<text x="305.50" y="659.10" font-size="6.8" text-anchor="middle" fill="#000" transform="rotate(-90 305.5 659.1)">0</text>
<line x1="307.80" y1="641.08" x2="309.80" y2="641.08" stroke="#2a2a2a" stroke-width="0.8"/>
<text x="305.50" y="641.08" font-size="6.8" text-anchor="middle" fill="#000" transform="rotate(-90 305.5 641.075)">0.25</text>
<line x1="307.80" y1="623.05" x2="309.80" y2="623.05" stroke="#2a2a2a" stroke-width="0.8"/>
<text x="305.50" y="623.05" font-size="6.8" text-anchor="middle" fill="#000" transform="rotate(-90 305.5 623.05)">0.5</text>
<line x1="307.80" y1="605.02" x2="309.80" y2="605.02" stroke="#2a2a2a" stroke-width="0.8"/>
<text x="305.50" y="605.02" font-size="6.8" text-anchor="middle" fill="#000" transform="rotate(-90 305.5 605.025)">0.75</text>
<line x1="307.80" y1="587.00" x2="309.80" y2="587.00" stroke="#2a2a2a" stroke-width="0.8"/>
<text x="305.50" y="587.00" font-size="6.8" text-anchor="middle" fill="#000" transform="rotate(-90 305.5 587.0)">1</text>
<line x1="313.40" y1="662.70" x2="313.40" y2="664.70" stroke="#2a2a2a" stroke-width="0.8"/>
<text x="313.40" y="672.30" font-size="6.8" text-anchor="middle" fill="#000">0</text>
<line x1="344.50" y1="662.70" x2="344.50" y2="664.70" stroke="#2a2a2a" stroke-width="0.8"/>
<text x="344.50" y="672.30" font-size="6.8" text-anchor="middle" fill="#000">100</text>
<line x1="375.60" y1="662.70" x2="375.60" y2="664.70" stroke="#2a2a2a" stroke-width="0.8"/>
<text x="375.60" y="672.30" font-size="6.8" text-anchor="middle" fill="#000">200</text>
<text x="352.75" y="681.60" font-size="6.8" text-anchor="middle" fill="#000">Time (month)</text>
<line x1="406.20" y1="583.40" x2="406.20" y2="662.70" stroke="#2a2a2a" stroke-width="1.0"/>
<line x1="405.70" y1="662.70" x2="490.90" y2="662.70" stroke="#2a2a2a" stroke-width="1.0"/>
<line x1="404.20" y1="659.10" x2="406.20" y2="659.10" stroke="#2a2a2a" stroke-width="0.8"/>
<line x1="404.20" y1="641.08" x2="406.20" y2="641.08" stroke="#2a2a2a" stroke-width="0.8"/>
<line x1="404.20" y1="623.05" x2="406.20" y2="623.05" stroke="#2a2a2a" stroke-width="0.8"/>
<line x1="404.20" y1="605.02" x2="406.20" y2="605.02" stroke="#2a2a2a" stroke-width="0.8"/>
<line x1="404.20" y1="587.00" x2="406.20" y2="587.00" stroke="#2a2a2a" stroke-width="0.8"/>
<line x1="409.80" y1="662.70" x2="409.80" y2="664.70" stroke="#2a2a2a" stroke-width="0.8"/>
<text x="409.80" y="672.30" font-size="6.8" text-anchor="middle" fill="#000">0</text>
<line x1="440.60" y1="662.70" x2="440.60" y2="664.70" stroke="#2a2a2a" stroke-width="0.8"/>
<text x="440.60" y="672.30" font-size="6.8" text-anchor="middle" fill="#000">100</text>
<line x1="471.40" y1="662.70" x2="471.40" y2="664.70" stroke="#2a2a2a" stroke-width="0.8"/>
<text x="471.40" y="672.30" font-size="6.8" text-anchor="middle" fill="#000">200</text>
<text x="449.15" y="681.60" font-size="6.8" text-anchor="middle" fill="#000">Time (month)</text>
<line x1="502.60" y1="583.40" x2="502.60" y2="662.70" stroke="#2a2a2a" stroke-width="1.0"/>
<line x1="502.10" y1="662.70" x2="587.30" y2="662.70" stroke="#2a2a2a" stroke-width="1.0"/>
<line x1="500.60" y1="659.10" x2="502.60" y2="659.10" stroke="#2a2a2a" stroke-width="0.8"/>
<line x1="500.60" y1="641.08" x2="502.60" y2="641.08" stroke="#2a2a2a" stroke-width="0.8"/>
<line x1="500.60" y1="623.05" x2="502.60" y2="623.05" stroke="#2a2a2a" stroke-width="0.8"/>
<line x1="500.60" y1="605.02" x2="502.60" y2="605.02" stroke="#2a2a2a" stroke-width="0.8"/>
<line x1="500.60" y1="587.00" x2="502.60" y2="587.00" stroke="#2a2a2a" stroke-width="0.8"/>
<line x1="506.20" y1="662.70" x2="506.20" y2="664.70" stroke="#2a2a2a" stroke-width="0.8"/>
<text x="506.20" y="672.30" font-size="6.8" text-anchor="middle" fill="#000">0</text>
<line x1="544.75" y1="662.70" x2="544.75" y2="664.70" stroke="#2a2a2a" stroke-width="0.8"/>
<text x="544.75" y="672.30" font-size="6.8" text-anchor="middle" fill="#000">100</text>
<line x1="583.30" y1="662.70" x2="583.30" y2="664.70" stroke="#2a2a2a" stroke-width="0.8"/>
<text x="583.30" y="672.30" font-size="6.8" text-anchor="middle" fill="#000">200</text>
<text x="545.55" y="681.60" font-size="6.8" text-anchor="middle" fill="#000">Time (month)</text>
<line x1="598.50" y1="583.40" x2="598.50" y2="662.70" stroke="#2a2a2a" stroke-width="1.0"/>
<line x1="598.00" y1="662.70" x2="682.30" y2="662.70" stroke="#2a2a2a" stroke-width="1.0"/>
<line x1="596.50" y1="659.10" x2="598.50" y2="659.10" stroke="#2a2a2a" stroke-width="0.8"/>
<line x1="596.50" y1="641.08" x2="598.50" y2="641.08" stroke="#2a2a2a" stroke-width="0.8"/>
<line x1="596.50" y1="623.05" x2="598.50" y2="623.05" stroke="#2a2a2a" stroke-width="0.8"/>
<line x1="596.50" y1="605.02" x2="598.50" y2="605.02" stroke="#2a2a2a" stroke-width="0.8"/>
<line x1="596.50" y1="587.00" x2="598.50" y2="587.00" stroke="#2a2a2a" stroke-width="0.8"/>
<line x1="602.50" y1="662.70" x2="602.50" y2="664.70" stroke="#2a2a2a" stroke-width="0.8"/>
<text x="602.50" y="672.30" font-size="6.8" text-anchor="middle" fill="#000">0</text>
<line x1="641.05" y1="662.70" x2="641.05" y2="664.70" stroke="#2a2a2a" stroke-width="0.8"/>
<text x="641.05" y="672.30" font-size="6.8" text-anchor="middle" fill="#000">50</text>
<line x1="679.60" y1="662.70" x2="679.60" y2="664.70" stroke="#2a2a2a" stroke-width="0.8"/>
<text x="679.60" y="672.30" font-size="6.8" text-anchor="middle" fill="#000">100</text>
<text x="641.00" y="681.60" font-size="6.8" text-anchor="middle" fill="#000">Time (month)</text>
<text x="295.20" y="624.00" font-size="6.8" text-anchor="middle" fill="#000" transform="rotate(-90 295.2 624.0)">Survival Probability</text>
<text x="401.00" y="567.20" font-size="8.3" text-anchor="middle" fill="#000">Rousseaux <tspan font-style="italic">et al.</tspan>, <tspan font-style="italic">n</tspan> = 307</text>
<text x="593.00" y="567.20" font-size="8.3" text-anchor="middle" fill="#000">Shedden <tspan font-style="italic">et al.</tspan>, <tspan font-style="italic">n</tspan> = 462</text>
<text x="352.20" y="579.90" font-size="8.35" text-anchor="middle" fill="#000">OS</text>
<text x="448.60" y="579.90" font-size="8.35" text-anchor="middle" fill="#000">DFS</text>
<text x="545.00" y="579.90" font-size="8.35" text-anchor="middle" fill="#000">OS</text>
<text x="640.60" y="579.90" font-size="8.35" text-anchor="middle" fill="#000">DFS</text>
<text x="314.00" y="657.60" font-size="6.8" fill="#000"><tspan font-style="italic">p</tspan> &lt; 0.0001</text>
<text x="410.40" y="657.60" font-size="6.8" fill="#000"><tspan font-style="italic">p</tspan> = 0.00019</text>
<text x="506.60" y="657.60" font-size="6.8" fill="#000"><tspan font-style="italic">p</tspan> = 0.00067</text>
<text x="641.50" y="636.20" font-size="6.8" fill="#000"><tspan font-style="italic">p</tspan> = 0.00018</text>
<polyline points="313.42,587.03 314.02,587.03 314.02,587.63 314.62,587.63 314.62,588.23 315.23,588.23 315.23,588.83 315.68,588.83 315.68,589.73 316.13,589.73 316.13,590.63 316.73,590.63 316.73,591.53 317.33,591.53 317.33,592.43 317.93,592.43 317.93,593.33 318.38,593.33 318.38,596.04 318.83,596.04 318.83,598.74 319.50,598.74 319.50,599.64 320.18,599.64 320.18,600.54 320.86,600.54 320.86,601.44 321.53,601.44 321.53,602.34 322.21,602.34 322.21,603.24 322.88,603.24 322.88,604.14 323.56,604.14 323.56,605.05 324.23,605.05 324.23,605.95 324.95,605.95 324.95,606.67 325.68,606.67 325.68,607.39 326.40,607.39 326.40,608.11 327.12,608.11 327.12,608.83 327.84,608.83 327.84,609.55 328.56,609.55 328.56,610.09 329.28,610.09 329.28,610.63 330.00,610.63 330.00,611.17 330.72,611.17 330.72,611.71 331.44,611.71 331.44,612.25 335.05,612.25 335.05,613.15 335.77,613.15 335.77,613.69 336.49,613.69 336.49,614.23 337.21,614.23 337.21,614.77 337.93,614.77 337.93,615.32 338.65,615.32 338.65,615.86 339.42,615.86 339.42,616.37 340.19,616.37 340.19,616.89 340.97,616.89 340.97,617.40 341.74,617.40 341.74,617.92 342.51,617.92 342.51,618.43 343.28,618.43 343.28,618.94 344.05,618.94 344.05,619.46 344.77,619.46 344.77,620.72 345.50,620.72 345.50,621.98 346.22,621.98 346.22,623.24 346.94,623.24 346.94,624.50 347.66,624.50 347.66,625.77 348.38,625.77 348.38,626.31 349.10,626.31 349.10,626.85 349.82,626.85 349.82,627.39 350.54,627.39 350.54,627.93 351.26,627.93 351.26,628.47 351.86,628.47 351.86,629.37 352.46,629.37 352.46,630.27 353.06,630.27 353.06,631.17 353.78,631.17 353.78,631.71 354.50,631.71 354.50,632.25 355.23,632.25 355.23,632.79 355.95,632.79 355.95,633.33 356.67,633.33 356.67,633.87 357.39,633.87 357.39,634.23 358.11,634.23 358.11,634.59 358.83,634.59 358.83,634.95 359.55,634.95 359.55,635.32 360.27,635.32 360.27,635.68 369.28,635.68 369.28,639.28 370.03,639.28 370.03,639.88 370.78,639.88 370.78,640.48 371.53,640.48 371.53,641.08 372.28,641.08 372.28,641.68 373.03,641.68 373.03,642.28 373.78,642.28 373.78,642.88 392.70,642.88" fill="none" stroke="#52A8E4" stroke-width="1.05"/>
<polyline points="313.42,587.03 313.87,587.03 313.87,588.38 314.32,588.38 314.32,589.73 314.77,589.73 314.77,591.08 315.23,591.08 315.23,592.43 315.68,592.43 315.68,595.14 316.13,595.14 316.13,597.84 316.58,597.84 316.58,600.54 317.03,600.54 317.03,603.24 317.75,603.24 317.75,605.95 318.47,605.95 318.47,608.65 319.10,608.65 319.10,611.35 319.73,611.35 319.73,614.05 320.36,614.05 320.36,616.76 320.99,616.76 320.99,619.46 321.71,619.46 321.71,621.26 322.43,621.26 322.43,623.06 323.15,623.06 323.15,624.14 323.87,624.14 323.87,625.23 324.59,625.23 324.59,626.31 325.32,626.31 325.32,627.39 326.04,627.39 326.04,628.47 326.81,628.47 326.81,629.24 327.58,629.24 327.58,630.01 328.35,630.01 328.35,630.79 329.12,630.79 329.12,631.56 329.90,631.56 329.90,632.33 330.67,632.33 330.67,633.10 331.44,633.10 331.44,633.87 332.21,633.87 332.21,634.26 332.99,634.26 332.99,634.65 333.76,634.65 333.76,635.03 334.53,635.03 334.53,635.42 335.30,635.42 335.30,635.80 336.07,635.80 336.07,636.19 336.85,636.19 336.85,636.58 337.62,636.58 337.62,636.96 338.39,636.96 338.39,637.35 339.16,637.35 339.16,637.73 339.94,637.73 339.94,638.12 340.71,638.12 340.71,638.51 341.48,638.51 341.48,638.89 342.25,638.89 342.25,639.28 349.46,639.28 349.46,642.88 358.47,642.88 358.47,644.68 365.68,644.68 365.68,646.49 366.40,646.49 366.40,646.85 367.12,646.85 367.12,647.21 367.84,647.21 367.84,647.57 368.56,647.57 368.56,647.93 369.28,647.93 369.28,648.29 372.88,648.29 372.88,649.19 384.59,649.19 384.59,658.74" fill="none" stroke="#DFA632" stroke-width="1.05"/>
<polyline points="409.82,586.67 410.27,586.67 410.27,588.20 410.72,588.20 410.72,589.73 411.17,589.73 411.17,591.08 411.62,591.08 411.62,592.43 412.22,592.43 412.22,594.23 412.82,594.23 412.82,596.04 413.42,596.04 413.42,597.84 414.02,597.84 414.02,599.04 414.62,599.04 414.62,600.24 415.23,600.24 415.23,601.44 415.95,601.44 415.95,601.80 416.67,601.80 416.67,602.16 417.39,602.16 417.39,602.52 418.11,602.52 418.11,602.88 418.83,602.88 418.83,603.24 419.55,603.24 419.55,603.60 420.27,603.60 420.27,603.96 420.99,603.96 420.99,604.32 421.71,604.32 421.71,604.68 422.43,604.68 422.43,605.05 423.15,605.05 423.15,605.33 423.87,605.33 423.87,605.62 424.59,605.62 424.59,605.91 425.32,605.91 425.32,606.20 426.04,606.20 426.04,606.49 429.64,606.49 429.64,607.21 430.36,607.21 430.36,607.50 431.08,607.50 431.08,607.78 431.80,607.78 431.80,608.07 432.52,608.07 432.52,608.36 433.24,608.36 433.24,608.65 433.96,608.65 433.96,609.19 434.68,609.19 434.68,609.73 435.41,609.73 435.41,610.27 436.13,610.27 436.13,610.81 436.85,610.81 436.85,611.35 437.62,611.35 437.62,611.74 438.39,611.74 438.39,612.12 439.16,612.12 439.16,612.51 439.94,612.51 439.94,612.90 440.71,612.90 440.71,613.28 441.48,613.28 441.48,613.67 442.25,613.67 442.25,614.05 460.63,614.05 460.63,617.30 489.10,617.30" fill="none" stroke="#52A8E4" stroke-width="1.05"/>
<polyline points="409.82,586.67 410.09,586.67 410.09,589.55 410.36,589.55 410.36,592.43 410.81,592.43 410.81,595.14 411.26,595.14 411.26,597.84 411.62,597.84 411.62,600.54 411.98,600.54 411.98,603.24 412.52,603.24 412.52,605.95 413.06,605.95 413.06,608.65 413.69,608.65 413.69,611.35 414.32,611.35 414.32,614.05 415.00,614.05 415.00,614.95 415.68,614.95 415.68,615.86 416.35,615.86 416.35,616.76 417.03,616.76 417.03,617.66 417.75,617.66 417.75,618.20 418.47,618.20 418.47,618.74 419.19,618.74 419.19,619.28 419.91,619.28 419.91,619.82 420.63,619.82 420.63,620.36 421.31,620.36 421.31,620.81 421.98,620.81 421.98,621.26 422.66,621.26 422.66,621.71 423.33,621.71 423.33,622.16 424.01,622.16 424.01,622.84 424.68,622.84 424.68,623.51 425.36,623.51 425.36,624.19 426.04,624.19 426.04,624.86 426.64,624.86 426.64,625.47 427.24,625.47 427.24,626.07 427.84,626.07 427.84,626.67 433.24,626.67 433.24,627.57 442.25,627.57 442.25,631.17 480.09,631.17" fill="none" stroke="#DFA632" stroke-width="1.05"/>
<polyline points="506.22,586.67 508.02,586.67 508.02,587.39 508.62,587.39 508.62,588.17 509.22,588.17 509.22,588.95 509.82,588.95 509.82,589.73 510.42,589.73 510.42,590.33 511.02,590.33 511.02,590.93 511.62,590.93 511.62,591.53 512.30,591.53 512.30,592.66 512.97,592.66 512.97,593.78 513.65,593.78 513.65,594.91 514.32,594.91 514.32,596.04 515.00,596.04 515.00,596.71 515.68,596.71 515.68,597.39 516.35,597.39 516.35,598.06 517.03,598.06 517.03,598.74 517.75,598.74 517.75,599.46 518.47,599.46 518.47,600.18 519.19,600.18 519.19,600.90 519.91,600.90 519.91,601.62 520.63,601.62 520.63,602.34 521.35,602.34 521.35,603.06 522.07,603.06 522.07,603.78 522.79,603.78 522.79,604.50 523.51,604.50 523.51,605.23 524.23,605.23 524.23,605.95 524.95,605.95 524.95,606.67 525.68,606.67 525.68,607.39 526.40,607.39 526.40,608.11 527.12,608.11 527.12,608.83 527.84,608.83 527.84,609.55 528.56,609.55 528.56,610.27 529.28,610.27 529.28,610.99 530.00,610.99 530.00,611.71 530.72,611.71 530.72,612.43 531.44,612.43 531.44,613.15 532.12,613.15 532.12,614.28 532.79,614.28 532.79,615.41 533.47,615.41 533.47,616.53 534.14,616.53 534.14,617.66 534.82,617.66 534.82,619.01 535.50,619.01 535.50,620.36 536.17,620.36 536.17,621.71 536.85,621.71 536.85,623.06 537.52,623.06 537.52,623.74 538.20,623.74 538.20,624.41 538.87,624.41 538.87,625.09 539.55,625.09 539.55,625.77 540.23,625.77 540.23,626.44 540.90,626.44 540.90,627.12 541.58,627.12 541.58,627.79 542.25,627.79 542.25,628.47 542.97,628.47 542.97,629.82 543.69,629.82 543.69,631.17 545.86,631.17 545.86,632.07 546.46,632.07 546.46,632.67 547.06,632.67 547.06,633.27 547.66,633.27 547.66,633.87 548.33,633.87 548.33,634.23 549.01,634.23 549.01,634.59 549.68,634.59 549.68,634.95 550.36,634.95 550.36,635.32 551.04,635.32 551.04,635.86 551.71,635.86 551.71,636.40 552.39,636.40 552.39,636.94 553.06,636.94 553.06,637.48 553.66,637.48 553.66,638.98 554.26,638.98 554.26,640.48 554.86,640.48 554.86,641.98 555.47,641.98 555.47,642.76 556.07,642.76 556.07,643.54 556.67,643.54 556.67,644.32 573.78,644.32" fill="none" stroke="#52A8E4" stroke-width="1.05"/>
<polyline points="506.22,586.67 506.82,586.67 506.82,587.99 507.42,587.99 507.42,589.31 508.02,589.31 508.02,590.63 508.47,590.63 508.47,592.43 508.92,592.43 508.92,594.23 509.37,594.23 509.37,596.04 509.82,596.04 509.82,597.84 510.27,597.84 510.27,599.64 510.72,599.64 510.72,601.44 511.17,601.44 511.17,602.79 511.62,602.79 511.62,604.14 512.34,604.14 512.34,605.68 513.06,605.68 513.06,607.21 513.69,607.21 513.69,608.38 514.32,608.38 514.32,609.55 515.00,609.55 515.00,610.68 515.68,610.68 515.68,611.80 516.35,611.80 516.35,612.93 517.03,612.93 517.03,614.05 517.75,614.05 517.75,615.14 518.47,615.14 518.47,616.22 519.19,616.22 519.19,617.30 519.91,617.30 519.91,618.38 520.63,618.38 520.63,619.46 521.35,619.46 521.35,620.54 522.07,620.54 522.07,621.62 522.79,621.62 522.79,622.70 523.51,622.70 523.51,623.78 524.23,623.78 524.23,624.86 525.01,624.86 525.01,625.25 525.78,625.25 525.78,625.64 526.55,625.64 526.55,626.02 527.32,626.02 527.32,626.41 528.10,626.41 528.10,626.80 528.87,626.80 528.87,627.18 529.64,627.18 529.64,627.57 530.41,627.57 530.41,627.95 531.18,627.95 531.18,628.34 531.96,628.34 531.96,628.73 532.73,628.73 532.73,629.11 533.50,629.11 533.50,629.50 534.27,629.50 534.27,629.88 535.05,629.88 535.05,630.27 535.72,630.27 535.72,630.81 536.40,630.81 536.40,631.35 537.07,631.35 537.07,631.89 537.75,631.89 537.75,632.43 550.36,632.43 550.36,633.87 551.15,633.87 551.15,634.21 551.94,634.21 551.94,634.55 552.73,634.55 552.73,634.89 553.51,634.89 553.51,635.23 554.30,635.23 554.30,635.56 555.09,635.56 555.09,635.90 555.88,635.90 555.88,636.24 556.67,636.24 556.67,636.58 557.12,636.58 557.12,638.38 557.57,638.38 557.57,640.18 567.48,640.18 567.48,645.05 585.14,645.05 585.14,658.74" fill="none" stroke="#DFA632" stroke-width="1.05"/>
<polyline points="602.48,586.67 603.92,586.67 603.92,587.03 604.37,587.03 604.37,587.75 604.82,587.75 604.82,588.47 605.27,588.47 605.27,589.10 605.72,589.10 605.72,589.73 606.35,589.73 606.35,591.08 606.98,591.08 606.98,592.43 607.70,592.43 607.70,594.23 608.42,594.23 608.42,596.04 609.02,596.04 609.02,597.54 609.62,597.54 609.62,599.04 610.23,599.04 610.23,600.54 610.83,600.54 610.83,602.04 611.43,602.04 611.43,603.54 612.03,603.54 612.03,605.05 612.63,605.05 612.63,606.25 613.23,606.25 613.23,607.45 613.83,607.45 613.83,608.65 614.43,608.65 614.43,609.85 615.03,609.85 615.03,611.05 615.63,611.05 615.63,612.25 616.23,612.25 616.23,613.45 616.83,613.45 616.83,614.65 617.43,614.65 617.43,615.86 618.03,615.86 618.03,617.06 618.63,617.06 618.63,618.26 619.23,618.26 619.23,619.46 619.83,619.46 619.83,620.66 620.44,620.66 620.44,621.86 621.04,621.86 621.04,623.06 621.64,623.06 621.64,624.26 622.24,624.26 622.24,625.47 622.84,625.47 622.84,626.67 623.44,626.67 623.44,628.17 624.04,628.17 624.04,629.67 624.64,629.67 624.64,631.17 625.24,631.17 625.24,632.37 625.84,632.37 625.84,633.57 626.44,633.57 626.44,634.77 627.04,634.77 627.04,635.56 627.64,635.56 627.64,636.34 628.24,636.34 628.24,637.12 628.84,637.12 628.84,637.84 629.44,637.84 629.44,638.56 630.05,638.56 630.05,639.28 630.65,639.28 630.65,640.00 631.25,640.00 631.25,640.72 631.85,640.72 631.85,641.44 632.45,641.44 632.45,642.22 633.05,642.22 633.05,643.00 633.65,643.00 633.65,643.78 634.32,643.78 634.32,644.37 635.00,644.37 635.00,644.95 635.68,644.95 635.68,645.54 636.35,645.54 636.35,646.13 637.03,646.13 637.03,646.67 637.70,646.67 637.70,647.21 638.38,647.21 638.38,647.75 639.05,647.75 639.05,648.29 639.73,648.29 639.73,648.74 640.41,648.74 640.41,649.19 641.08,649.19 641.08,649.64 641.76,649.64 641.76,650.09 642.43,650.09 642.43,650.54 643.11,650.54 643.11,650.99 643.78,650.99 643.78,651.44 644.46,651.44 644.46,651.89 645.14,651.89 645.14,652.25 645.81,652.25 645.81,652.61 646.49,652.61 646.49,652.97 647.16,652.97 647.16,653.33 647.84,653.33 647.84,653.65 648.51,653.65 648.51,653.96 649.19,653.96 649.19,654.28 649.86,654.28 649.86,654.59 653.47,654.59 653.47,655.50 657.07,655.50 657.07,656.40 662.48,656.40 662.48,657.30 669.68,657.30 669.68,658.20 681.40,658.20" fill="none" stroke="#52A8E4" stroke-width="1.05"/>
<polyline points="602.48,586.67 603.02,586.67 603.02,588.20 603.56,588.20 603.56,589.73 604.01,589.73 604.01,591.08 604.46,591.08 604.46,592.43 604.82,592.43 604.82,594.23 605.18,594.23 605.18,596.04 605.54,596.04 605.54,597.84 605.90,597.84 605.90,599.64 606.26,599.64 606.26,601.44 606.62,601.44 606.62,603.24 606.98,603.24 606.98,605.05 607.34,605.05 607.34,606.85 607.70,606.85 607.70,608.65 608.06,608.65 608.06,610.45 608.42,610.45 608.42,612.25 608.78,612.25 608.78,614.05 609.14,614.05 609.14,615.86 609.50,615.86 609.50,617.66 609.86,617.66 609.86,619.46 610.23,619.46 610.23,621.26 610.77,621.26 610.77,623.06 611.31,623.06 611.31,624.86 611.67,624.86 611.67,626.67 612.03,626.67 612.03,628.47 612.48,628.47 612.48,630.27 612.93,630.27 612.93,632.07 613.56,632.07 613.56,633.87 614.19,633.87 614.19,635.68 614.91,635.68 614.91,637.48 615.63,637.48 615.63,639.28 616.23,639.28 616.23,640.18 616.83,640.18 616.83,641.08 617.43,641.08 617.43,641.98 618.03,641.98 618.03,642.88 618.63,642.88 618.63,643.78 619.23,643.78 619.23,644.68 619.83,644.68 619.83,645.29 620.44,645.29 620.44,645.89 621.04,645.89 621.04,646.49 621.64,646.49 621.64,647.09 622.24,647.09 622.24,647.69 622.84,647.69 622.84,648.29 623.56,648.29 623.56,648.65 624.28,648.65 624.28,649.01 625.00,649.01 625.00,649.37 625.72,649.37 625.72,649.73 626.44,649.73 626.44,650.09 627.21,650.09 627.21,650.48 627.99,650.48 627.99,650.86 628.76,650.86 628.76,651.25 629.53,651.25 629.53,651.63 630.30,651.63 630.30,652.02 631.07,652.02 631.07,652.41 631.85,652.41 631.85,652.79 632.62,652.79 632.62,653.05 633.39,653.05 633.39,653.31 634.16,653.31 634.16,653.56 634.94,653.56 634.94,653.82 635.71,653.82 635.71,654.08 636.48,654.08 636.48,654.34 637.25,654.34 637.25,654.59 644.46,654.59 644.46,656.40 651.67,656.40 651.67,657.30 660.68,657.30 660.68,658.20 669.68,658.20" fill="none" stroke="#DFA632" stroke-width="1.05"/>
<line x1="624.30" y1="591.00" x2="633.30" y2="591.00" stroke="#52A8E4" stroke-width="1.0"/>
<text x="637.30" y="593.40" font-size="6.8" text-anchor="start" fill="#000">MEpurple low</text>
<line x1="624.30" y1="601.80" x2="633.30" y2="601.80" stroke="#DFA632" stroke-width="1.0"/>
<text x="637.30" y="604.20" font-size="6.8" text-anchor="start" fill="#000">MEpurple high</text>
</svg></body></html>
